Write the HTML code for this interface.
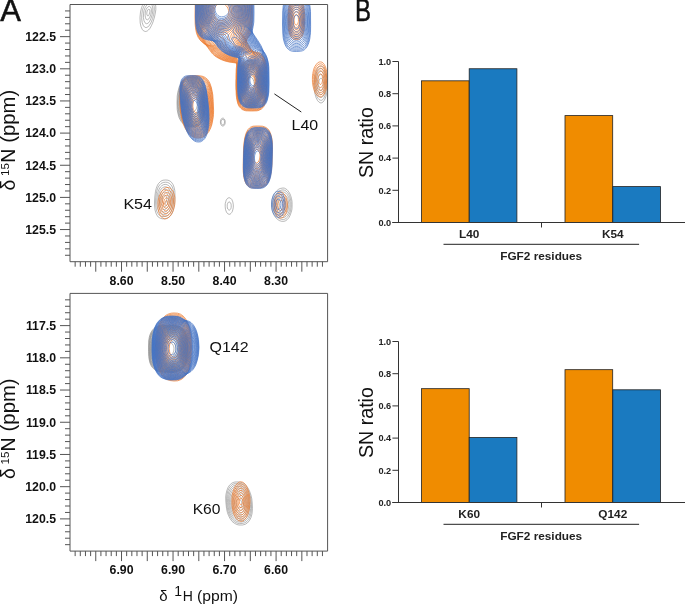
<!DOCTYPE html>
<html><head><meta charset="utf-8"><style>
html,body{margin:0;padding:0;background:#fff;width:685px;height:604px;overflow:hidden}
svg{display:block;will-change:transform}
text{font-family:"Liberation Sans",sans-serif}
</style></head><body>
<svg width="685" height="604" viewBox="0 0 685 604" font-family="Liberation Sans, sans-serif">
<defs>
<clipPath id="ct"><rect x="69.7" y="4.5" width="257.9" height="257.2"/></clipPath>
<clipPath id="cb"><rect x="70" y="293.4" width="257.6" height="257.7"/></clipPath>
</defs>
<g clip-path="url(#ct)" fill="none" stroke-linejoin="round">
<path d="M155.4 4l.4 2.8 0 2.8-.3 2.4-1 5-1.5 5-1.5 3.5-1.7 3-1.3 1.5-1 .8-.8 .4-1.2 .3-1.1-.3-.9-.4-1.3-1.5-1.2-2.8-.8-3.5-.2-5.5 .5-5.5 1-4.1 1-2.6 .7-1.3M250 108l-2-.2-1.5-.6-1.4-.7-1.1-.7-1.5-1.5-2.3-2.8-2-4-1-3-1-5.2-.2-4.3 .2-4.6 .8-4.7 1.5-4.9 1.5-3.3 2-3 2.5-2.5 2.7-1.5 2.8-.5 2.8 .5 2.7 1.5 2.5 2.5 2 3 1.5 3.3 1.5 4.9 .8 4.7 .2 4.6-.2 4.3-1 5.2-1 3-2 4-2.3 2.8-1.5 1.5-1.1 .7-1.4 .7-1.5 .6-2 .2zM321.8 102.8l-1.6 0-1.3-.8-1.2-1.2-1.5-2.8-.9-3-.6-2.2-.5-3.5-.2-4.5 .5-7.1 .5-2.7 .8-2.8 1-2.3 1.4-2.4 1.3-1 1.5-.5 1.5 .5 1 1 .8 1 .9 2 1 3.2 .8 3.8 .5 6.7-.5 7.3-1 4.8-1 2.7-1 1.8-1 1.2-1.2 .8zM193 127l-3.6-.2-3.3-1-1.4-.8-1.6-1.2-2.3-2.8-1.8-3.5-1.2-4.5-.6-3.5-.2-6.5 .2-7 .6-3.8 1.2-4.8 1.8-3.9 1-1.5 1.2-1.3 1.2-1.2 1.6-1 1.7-.7 2-.6 3.5-.2 3.5 .5 2.3 1.2 2 2.3 1.7 3.2 1.3 4.2 .7 4.3 .3 2.5 .2 7.8-.2 7.2-.6 3.9-.7 3.4-1.5 3.8-1.7 2.7-2.1 1.8-2.4 1-2.8 .2zM223.2 126l-1 0-.7-.5-.7-1.2-.3-.8-.1-1.7 .4-1.9 .7-1.2 1-.5 .9 0 .8 .7 .8 1.3 .2 1.2 0 1.4-.2 1.2-.5 1-.7 .8-.6 .2zM164.8 218.8l-2.6 0-2-.6-2-1.2-1.4-2-1-2.2-.8-2.9-.5-4.9 0-3 .3-5 .7-5.8 .8-3 1.2-3 1-1.7 2.3-2.3 2.2-1 2.8-.2 2.2 .2 2.2 1 1.3 1.1 1.5 2.2 1 2.6 .8 3.6 .2 6.3-.3 5-.5 4.3-1 4.1-.9 2.6-1.8 2.8-1.3 1.2-2.1 1.2-2.3 .6zM284 221.3l-2.5 0-2.3-.8-2.4-1.7-1.8-2-1.5-2.6-1-2.6-.7-3.3-.3-3.1 .2-3.7 .5-2.5 1-3 1.6-2.8 1.7-2.2 2.2-1.8 1.5-.7 2.8-.5 1.5 .2 2.3 1.3 1.2 1.3 1.5 2.2 1 2.2 1 3.3 .5 3 .1 2.7-.1 4-.2 1.8-.6 2.3-1.2 3.3-1.2 2.2-1.8 2-1.5 1-1.5 .5zM229.5 214.3l-.7-.1-1-.4-1.3-1.6-1-2.7-.3-2.7 0-3 .6-2.2 .4-1.4 .8-1.2 .7-.8 1.3-.5 1.3 .3 1.5 1.5 1 2.4 .5 2.9 0 2.4-.3 1.8-.7 2.5-.6 1-.7 .9-.7 .6-.8 .3zM153.6 4l.6 2.8 .1 3.4-.6 4-1.1 4.3-1.4 3.7-1.7 3-1.7 1.8-1.6 .6-1-.2-.7-.4-.7-.8-.7-1-.9-2.7-.5-3.7 .1-4.3 .6-4.3 1.2-3.4 1.6-2.8M251 106.8l-2.8-.2-2.4-.9-2.3-1.7-2.3-2.6-1.8-3.2-1.4-3.7-.9-4.3-.4-4.2 .2-4.8 .6-4.4 1.2-4.3 1.6-3.7 1.9-3.1 2.3-2.3 2.5-1.5 1.5-.5 1.3-.1 2.4 .3 2.6 1.3 2.2 1.9 2 2.8 1.7 3.4 1.3 4 .9 4.2 .4 4.6-.1 4.2-.6 4-1 3.8-1.6 3.6-1.9 2.8-2.1 2.3-2.5 1.5-2.5 .8zM321.5 100.3l-1.3-.1-1.2-.7-1-1.2-1-1.9-.8-2.4-.7-2.8-.5-6 0-3.2 .3-3 .6-3 .7-2.5 1-2.3 1.1-1.4 1.1-.9 1.2-.3 1 .2 1 .8 1 1.4 .9 2 .7 2.2 .5 2.8 .5 5.8-.3 6-1.1 5-.8 2.2-.9 1.7-1 1.1-1 .5zM195.2 126l-3.7 .1-3.5-.5-2.5-1-2.4-1.8-2-2.6-1.6-3.2-1.1-3.8-.6-4.2-.3-7 .4-6.5 .7-4.7 1.4-4.3 2-3.6 1.2-1.5 1.3-1.1 2.7-1.5 1.8-.5 2-.3 3-.1 2.2 .4 2 1 1.8 1.7 1.6 2.5 1.2 3 .8 3.5 .6 4.3 .4 6.2-.1 7.3-.5 5-.9 4.2-1.3 3.5-1.8 2.8-1 1-1.2 .8-2.6 .9zM223.2 124.8l-.7 .1-.7-.5-.5-.9-.2-1 0-1.3 .4-1 .5-.6 .8-.3 .7 .2 .5 .5 .6 1.8-.4 1.9-.4 .8-.6 .3zM165.2 216.5l-2.2 .1-2-.4-1.8-1.1-1.2-1.5-1.1-2.1-.7-2.5-.4-3.2-.2-3.8 .2-4.5 .5-4 .8-3.5 1.1-2.9 1.4-2.1 1.6-1.6 2-.9 2.3-.3 2 .2 1.7 .8 1.5 1.3 1.1 1.5 .9 2 .7 2.8 .3 3 .1 3.2-.2 4.2-.4 3.6-.7 3.2-.9 2.8-1.2 2.2-1.4 1.6-1.8 1.2-2 .7zM283.2 219.5l-2-.2-2-.8-1.7-1.3-1.5-1.7-1.4-2.3-1-2.4-.6-2.8-.2-2.8 .2-3 .5-2.7 1-2.7 1.3-2.4 1.4-1.8 1.8-1.4 2-1 2-.3 1.5 .3 1.5 .8 1.5 1.5 1.2 1.7 1 2.3 .8 2.5 .5 2.8 .1 3-.1 2.7-.4 2.7-.7 2.6-1 2.2-1.1 1.8-1.6 1.5-1.4 .9-1.6 .3zM229.5 210.1l-.7-.1-.9-.8-.5-1.2-.2-1.8 .1-1.7 .5-1.4 .7-1 .7-.2 .8 .3 .6 .8 .5 1.2 .1 1.6 0 1.4-.4 1.5-.6 .9-.7 .5zM151 4l.5 .5 .6 1 .7 2.5 0 3-.6 3.5-1.1 3.7-1.4 3-.9 1.3-.8 .7-.8 .4-.7 .1-.7-.3-.8-.6-1-2.1-.6-3.2 .1-3.7 .5-3.3 1-2.7 1.5-2.4 1.7-1.4M251 105.5l-2.5-.1-2.5-.9-2.2-1.7-2-2.3-1.7-3-1.4-3.5-.8-4-.4-4 .1-4.5 .7-4.3 1-4 1.5-3.4 2-3 2.2-2.3 2.2-1.3 2.6-.6 2.4 .4 2.3 1.1 2.1 1.9 1.9 2.6 1.6 3.2 1.2 3.7 .8 4 .4 4.3-.1 4-.5 3.7-1 3.7-1.5 3.3-1.6 2.7-2 2.1-2.3 1.5-2.5 .7zM321.5 97.5l-1 0-1-.5-1-1.2-.7-1.4-.7-1.9-.6-2.3-.5-5 .3-5.2 1.1-4.5 .7-1.7 .9-1.4 1-.8 1-.3 1 .4 .8 .6 .7 1.1 .7 1.6 1 4 .4 4.8-.2 5-.9 4.2-1.3 3-.8 1-.9 .5zM194.2 125.3l-3.4-.1-3.3-.7-2.7-1.5-2.2-2-1.8-2.8-1.2-3-.9-4-.5-4.7 0-6.3 .4-5.4 .9-4.8 1.5-4 1.8-2.8 1.1-1.2 1.3-1.1 1.6-.8 1.4-.6 3.6-.6 2.7 0 2.3 .7 2 1.3 1.7 2.1 1.3 2.4 1.1 3.6 .7 4 .4 4.8 .2 6.4-.3 5.3-.6 4.5-1.1 4-1.4 3.1-1.8 2.1-2.2 1.4-2.6 .7zM165 214.3l-1.8 .1-1.7-.5-1.3-.9-1.3-1.5-.9-2-.7-2.3-.4-2.7-.1-3.3 .2-3.4 .4-3.3 .8-3 1-2.5 1.2-2 1.4-1.3 1.7-1 1.7-.3 1.6 .2 1.4 .7 1.3 1 1.2 1.7 .8 2 .6 2.2 .4 2.6 .1 3-.2 3.2-.4 3-.6 2.8-.9 2.3-1.2 2.1-1.3 1.5-1.5 1.1-1.5 .5zM283.2 217.5l-1.7-.2-1.5-.5-1.5-1.1-1.5-1.6-1.2-1.9-.8-2.2-.6-2.2-.2-2.6 .2-2.4 .4-2.6 .8-2.2 1.2-2.1 1.2-1.6 1.5-1.2 1.7-.8 1.8-.3 1.5 .3 1.3 .8 1.1 1.1 1 1.6 .9 1.8 .6 2.2 .5 2.4 .1 2.6-.1 2.4-.3 2.3-.6 2-.8 2-1 1.5-1.2 1.3-1.2 .8-1.6 .4zM147.5 19.8l-.7-.1-.6-.4-.7-1.5-.4-2.6 .2-3.2 .6-2.2 1-1.8 1.3-1.3 1.3-.3 1 .6 .6 1.2 .3 1.8-.1 2-.6 2.8-.9 2.5-1 1.6-.8 .7-.5 .2zM251.8 104l-2.6 .2-2.2-.6-2.2-1.4-2-2.1-1.8-2.8-1.4-3.3-.9-3.8-.4-3.7 .1-4.3 .5-4 1-3.7 1.4-3.5 1.7-2.8 2.1-2.2 2.1-1.3 2.6-.6 2.2 .3 2 .9 2 1.7 1.9 2.5 1.5 3 1.1 3.3 .8 3.7 .4 3.7 0 3.8-.5 3.5-.8 3.3-1.2 3-1.4 2.6-1.8 2.1-2 1.6-2.2 .9zM321.8 94.3l-.8 .2-.8-.2-.7-.6-.7-1.2-1.1-3-.5-4 .2-4.3 .8-3.4 .6-1.4 .7-1.1 .7-.6 .8-.2 .8 .2 .4 .4 1.1 1.9 .9 3 .3 3.5-.1 3.7-.6 3.3-.8 2.3-.5 .7-.7 .8zM194.5 124.3l-3.5 0-3-.7-2.6-1.4-2.2-1.9-1.6-2.5-1.4-3.3-.9-3.7-.5-4.6 0-6 .4-5 1-4.4 1.4-3.8 1.9-3 2.3-2.1 1.4-.9 1.6-.6 3.2-.5 2.5 0 2.3 .8 1.7 1.3 1.6 2 1.3 2.5 1 3.3 .8 4 .4 4.4 .1 5.8-.2 5-.6 4.2-1 3.8-1.3 2.8-1.7 2.2-2 1.5-2.4 .8zM164.5 212l-1.5 0-1.2-.6-1.1-.9-1.1-1.5-.7-1.8-.6-2.2-.2-2.5-.1-2.5 .3-2.8 .4-2.4 .7-2.3 .8-2 1-1.5 1.3-1.3 1.3-.6 1.4-.3 1.3 .2 1.3 .7 1 1.1 1 1.4 .7 1.9 .5 2.1 .3 4.8-.2 2.5-.4 2.5-.7 2.2-.8 1.8-1 1.6-1.2 1.3-1.2 .7-1.3 .4zM283.5 215.3l-1.3 0-1.4-.5-1.4-.8-1.2-1.2-1-1.6-.7-1.7-.5-2-.2-2 .1-2.3 .3-2 .6-1.7 .9-1.7 1.1-1.5 1.2-1 1.2-.7 1.6-.3 1.2 .2 1 .4 1 .9 .9 1.2 .7 1.5 .6 1.7 .6 4-.3 4-.4 1.8-.7 1.8-.9 1.4-.9 1-1.1 .8-1 .3zM148.2 15.8l-.7 0-.5-.8-.2-1.2 .1-1.6 .3-1.2 .5-1 .5-.6 .8-.2 .5 .3 .3 .5 .1 1.8-.7 2.6-.4 .9-.6 .5zM250.8 102.8l-2.3-.2-2-.7-2-1.5-1.7-2.2-1.6-2.7-1-3-.7-3.3-.3-3.4 .1-3.8 .5-3.8 1-3.4 1.3-3 1.6-2.6 1.8-1.8 2-1.2 2.3-.6 2 .3 2 .9 1.9 1.7 1.6 2.3 1.4 2.7 1.1 3.3 .7 3.4 .3 3.8-.1 3.5-.4 3.3-.9 3.2-1.2 2.8-1.7 2.4-1.7 1.8-2 1.2-2 .6zM321.2 90.8l-.4 0-.6-.3-.8-1.3-.6-2-.2-2.4 .2-2.6 .4-2 .8-1.4 .5-.5 .5-.1 .8 .3 .7 1.3 .5 2 .2 2.4-.1 2.3-.4 2-.7 1.6-.8 .7zM194.5 123.3l-3 0-3-.6-2.5-1.3-2.1-1.9-1.7-2.5-1.4-3.2-.9-3.8-.4-4.2 0-5.6 .4-4.7 1-4.3 1.3-3.5 2-2.9 2.3-2 2.7-1.4 3-.5 2.3 .1 2 .8 1.7 1.3 1.7 2.1 1.2 2.6 .9 3.2 .7 3.8 .4 4.2 .1 5.2-.3 4.6-.6 4-.9 3.4-1.3 2.8-1.6 2.1-1.8 1.4-2.2 .8zM164.5 209.5l-1 0-1-.4-1-.8-.8-1.1-.6-1.4-.5-1.8-.3-4 .5-4 1.2-3.5 .8-1.3 1-1 1-.6 1.2-.3 1 .2 1 .5 .8 .8 .8 1.2 .6 1.5 .5 1.7 .2 3.8-.5 4-1.1 3.2-.8 1.3-1 1-1 .7-1 .3zM283.8 212.8l-1 .1-1.3-.3-1-.6-1-.9-1.4-2.3-.6-3 .2-3.3 1.1-2.7 .7-1.1 1-1 1-.6 1.3-.3 1 .1 .7 .4 1.3 1.5 1.1 2.2 .5 3-.1 3-.8 2.8-1.3 2-1.4 1zM250.2 101.3l-2-.3-1.7-.8-1.7-1.4-1.6-2-1.3-2.6-1-2.7-.6-3-.2-3.3 .2-3.4 .6-3.6 .9-3 1.2-2.7 1.5-2.2 1.7-1.7 1.8-.9 2-.4 2 .4 1.8 .9 1.7 1.7 1.5 2.2 1.2 2.5 .9 3 .6 3.2 .2 3.6-.2 3.2-.5 3-.9 2.8-1.2 2.4-1.4 2-1.7 1.7-1.8 .9-2 .5zM194 122.3l-2.8-.1-2.7-.7-2.5-1.5-2-2-1.5-2.5-1.2-3.3-.8-3.4-.4-4 .1-4.8 .5-4.5 1-4 1.4-3.3 1.7-2.4 2.3-2 2.7-1.3 2.7-.4 2 .1 2 .8 1.7 1.5 1.4 2 1.2 2.7 .9 3.3 .6 3.7 .3 4.3 0 4.7-.3 4-.7 3.8-.9 3-1.3 2.5-1.6 2-1.8 1.2-2 .6zM164.8 206.8l-.8 .1-.8-.2-.7-.6-.7-.9-.8-2.2-.3-3 .4-3 .9-2.6 .8-1.2 .7-.7 .7-.3 .8-.1 .8 .1 .7 .5 1 1.4 .7 2.1 .3 2.8-.3 2.8-.8 2.2-1.2 1.8-.7 .6-.7 .4zM283.8 209.8l-.8 .2-.8-.2-1.2-.7-1-1.6-.4-1.7 0-2 .7-2 1.2-1.4 1.3-.5 1 .1 1 1 .6 1.2 .3 1.8 .1 1.8-.4 1.7-.6 1.4-1 .9zM250.5 99.5l-1.7-.1-1.8-.7-1.5-1.2-1.5-1.8-1.2-2.2-.9-2.5-.5-2.8-.2-2.7 .1-3.3 .5-3 .7-2.7 1.1-2.5 1.4-2 1.5-1.5 1.7-1 1.8-.3 1.8 .3 1.4 .8 1.6 1.5 1.4 2 1.1 2.2 .8 2.8 .5 2.7 .3 3-.2 2.7-.4 2.8-.7 2.5-1.1 2.4-1.3 1.8-1.4 1.5-1.6 .9-1.7 .4zM194.5 121l-2.5 .1-2.8-.6-2.2-1.2-1.9-1.8-1.6-2.3-1.3-3-.8-3.2-.5-3.8 0-4.4 .4-4 .9-3.8 1.3-3.2 1.7-2.8 2-1.9 2.3-1.2 2.7-.6 2 .1 1.8 .7 1.5 1.2 1.4 1.9 1.1 2.3 1 3 .6 3.3 .4 3.7 .1 4.3-.2 4-.6 3.4-.8 3-1.1 2.6-1.4 2-1.7 1.4-1.8 .8zM164.5 203.8l-1-.3-.6-.7-.5-1.3-.1-1.7 .2-1.8 .5-1.5 .8-.9 1-.5 .7 .3 .7 .9 .5 1.5 .1 1.4-.1 1.6-.5 1.4-.7 1-1 .6zM250.8 97.5l-1.6 0-1.4-.5-1.6-1-1.2-1.4-1-1.8-.9-2.3-.5-2.3-.3-2.4 .1-2.8 .4-2.5 .6-2.5 .9-2.2 1.2-1.9 1.3-1.3 1.4-.9 1.6-.4 1.4 .2 1.3 .6 1.4 1.1 1.2 1.6 1 2 .8 2.2 .5 2.5 .2 2.5 0 2.5-.3 2.3-.6 2.2-.8 2-1.1 1.9-1.3 1.3-1.3 .8-1.4 .5zM194.2 119.8l-2.2 .1-2.5-.7-2.2-1.2-1.8-1.8-1.4-2.2-1.2-2.8-.7-3-.4-3.4 0-4 .4-3.8 .9-3.5 1.3-3 1.6-2.4 2-1.9 2.2-1.1 2.3-.4 1.7 .1 1.8 .8 1.5 1.4 1.1 1.8 1.1 2.2 .8 2.8 .6 3.2 .3 3.5 0 3.7-.2 3.6-.6 3.2-.8 2.8-1 2.2-1.3 1.8-1.5 1.2-1.8 .8zM250.5 95.3l-1.3-.1-1.2-.5-1-.7-1.1-1.2-.9-1.6-.6-1.7-.5-2-.2-2 .1-2.3 .4-2.2 .5-2 .8-1.8 1-1.4 1-1.1 1.3-.7 1.2-.2 1.2 .2 1 .6 1 .8 1 1.4 .8 1.5 .7 1.9 .4 2 .2 2.3-.4 3.7-.4 1.8-.8 1.8-.9 1.4-1 1-1 .7-1.3 .4zM194.2 118.3l-2 .1-2.2-.5-2-1.1-1.8-1.7-1.3-2.1-1.1-2.5-.7-2.7-.4-3.3 0-3.5 .5-3.5 .7-3 1.2-2.7 1.4-2.2 1.7-1.7 2-1.1 2.3-.5 1.5 .1 1.5 .6 1.3 1.1 1.2 1.7 1 2.1 .8 2.6 .6 3 .3 3.3 0 3.4-.2 3-.5 2.8-.8 2.6-1 2.2-1.2 1.7-1.2 1.1-1.6 .7zM250.2 92.3l-1-.1-.7-.4-1.5-1.5-1-2.3-.4-2.8 .3-3 .9-2.7 1.4-1.8 .8-.4 1-.2 1 .2 .8 .4 1.2 1.5 1 2.6 .4 3-.2 2.7-1 2.4-1.2 1.6-.8 .5-1 .3zM193.5 116.8l-2-.2-1.7-.6-1.6-1-1.4-1.6-1.3-2.1-.9-2.3-.5-2.5-.3-2.7 .1-3 .4-3 .8-2.8 1.1-2.4 1.4-1.8 1.6-1.6 1.8-.8 1.8-.3 1.4 .2 1.3 .7 1.3 1.3 1 1.6 .8 2.1 .6 2.4 .5 2.6 .2 3-.1 2.8-.2 2.7-.6 2.5-.8 2.2-.9 1.8-1.1 1.3-1.2 1-1.5 .5zM194 114.6l-1.5 .1-1.7-.4-1.6-.9-1.2-1.3-1.1-1.6-.8-2-.6-2.3-.3-2.2 0-2.5 .4-2.5 .6-2.5 .9-2 1.1-1.7 1.4-1.3 1.4-.8 1.8-.4 1.2 .2 1 .5 1 1 .8 1.2 .8 1.8 .6 2 .6 4.5-.1 4.5-.9 4-.8 1.7-.9 1.3-1 1-1.1 .6zM193.8 111.8l-1 .1-1.3-.3-1.3-.7-1-1-.7-1.1-.7-1.6-.5-1.7-.2-1.7 .3-3.8 .4-1.8 .7-1.5 1-1.5 1-.9 1-.6 1.3-.3 1 .1 .7 .4 1.3 1.6 1.1 2.7 .5 3.6-.1 3.4-.7 3-1.2 2.3-.7 .7-.9 .6z" stroke="#8a8a8a" stroke-width="0.6" />
<path d="M252.3 4l.2 12.8-.3 7.1-.4 4.3-.8 3.4-1 2.9-1.5 2.7-1.7 2.6-.3 .7 .1 .7 .6 1.6 1.9 3.2 1.7 2.8 1.7 2.1 1.5 .8 4.3 .8 2.5 1 2.2 2 1.5 2.5 1.3 3.7 .7 4.5 .3 2.8 .1 6.8 .1 9.2-.2 9.6-.6 4.5-1 4.2-1.4 3.2-1 1.3-1.3 1.2-2.3 1.2-2.1 .6-5.6 .2-5.6-.2-2.1-.6-1.6-.7-1.5-1.3-1.5-1.7-.7-1.3-1-2.7-1-5.2-.3-2.7-.2-6.8 0-10.8 .2-8 .5-4-.2-1.5-1-.6-6.5-.9-4-1-3.5-1.3-4.8-2.5-1.7-1.2-2.3-2-1.7-2-4.2-6-1.3-1.2-4.4-3.6-1.3-1.5-1.6-2.3-1.5-3.6-.7-3-.5-3.3-.3-2.7-.2-8.8 .2-12M303 4l.8 2.8 .4 2.9 .6 6.3 0 7.6-.3 3.7-.5 3.4-1 3.6-1.2 2.5-.8 1-.8 .7-1.3 .7-.7 .3-2 .1-1.8-.1-1.2-.5-1-.8-1.2-1.2-1.5-3-1-3.9-.5-3.9-.1-6.2 .1-7 .7-5.8 1-3.2M321.2 96.8l-1.7 0-1.5-.8-1.8-1.7-1-1.5-1.2-3-1-3.6-.5-3.4-.1-3.3 .1-4.3 .3-1.7 .9-4.3 1-2.4 1.1-1.8 1.7-2 1.7-1 1.3-.1 1.5 .3 1.2 1 1.1 1.3 1.2 2.5 .7 2.2 .8 3.5 .5 6.1-.5 6.8-.5 2.6-1 3.3-1.5 3-1.4 1.5-1.4 .8zM200.8 137.8l-3.3 .2-2-.2-2.3-.8-2.5-1.5-2.9-3-2-3-2.3-4.7-1.3-3.8-1.2-5.6-.8-5.8-.5-9.1 .1-8.6 .7-5.9 1.3-4 .7-1.5 1.5-1.9 1.2-1.1 1.3-.7 2-.8 1.2-.2 5.3-.3 5.3 .3 3 .7 2 1 2.5 2.2 1.2 1.8 .8 1.5 1.4 4 1 4.5 .6 3.6 .4 6.2 .4 9.2-.1 4-.3 2.8-1 5.7-.9 3.5-1.3 3-1.2 2.2-1.6 2-1.4 1.5-1.8 1.3-3.2 1.3zM260.5 187.8l-4.7 .2-4.3-.2-1.7-.5-1.3-.8-2-2-1.5-3-1-3.7-.5-3.4-.3-3.1 0-5.5 .3-15.6 .5-7.3 .8-5.1 1.2-4.5 .8-1.7 1.2-2.1 1.5-1.5 1-.8 1-.5 1.7-.5 4.3-.2 4.9 .2 2.1 .6 2 1 1.3 1 1.2 1.4 1.2 2.3 1 3 .8 3.9 .3 2.4 .1 6.2-.4 16-.5 6.1-1 5.9-1.3 4-1.2 2.5-1 1.5-1.7 1.8-.8 .5-2 .9-2 .6zM165.5 218.8l-1 0-2-.8-2-2-1-1.8-.7-2-.8-3.7 0-6.5 .5-3 .7-2.6 1.3-3 1.3-2.2 1.4-1.7 1.6-1.3 1.9-.7 1.8 0 1.7 .7 1 .9 1.1 1.1 1.2 2.3 .7 2.2 .6 2.5 .2 3.6-.2 3.5-.6 2.9-.9 3.3-2.1 4-1.2 1.6-1.5 1.4-1.7 1-1.3 .3zM281.5 218l-1.3 .1-1.4-.3-.8-.6-1-1-1-1.4-1-2.3-.5-1.7-.5-3.2 0-4.4 .2-2 .6-2.3 .7-2.2 1-1.9 1.3-1.6 1.4-1 1.3-.2 1.3 .2 1 .6 1.7 1.7 1 1.6 .7 1.8 .8 2.6 .5 4.7-.5 4.9-1 3.2-1 1.9-1 1.3-1.2 1-1.3 .5zM251.7 4l.1 15.2-.5 7.8-.6 3-.7 2.5-1.2 2.7-2 3.6-.5 1.7 .1 .7 .9 2.6 1.5 2.5 1.7 2.6 2 2.2 1 .6 1.7 .7 3.3 .8 1.7 .7 1.8 1.3 1.4 1.8 1.3 2.5 .9 3.5 .7 4.5 .3 5-.1 20.3-.4 5.2-1 4.5-.8 2-.8 1.5-.9 1.2-1.1 1.1-1.3 .8-1.4 .7-1.8 .4-2 .1-7.5 0-2-.2-1.7-.5-1.8-.9-1.5-1.3-1.2-1.6-1-2-.7-2.3-.5-2.5-.6-6.5-.1-18 .5-9.3-.4-1.9-1.5-.9-5.8-.8-5-1.3-4-1.6-3.4-2.1-2-1.5-1.7-1.6-4.4-5.7-2.6-2.8-3.9-3.2-1.8-2-1.5-2.3-1.1-2.3-.9-2.7-.6-2.7-.4-3.3-.4-7.7 .1-14.8M302.2 4l.8 2.3 .5 2.2 .7 6.3 0 8.4-.6 6.3-1 4-.8 1.7-.8 1.1-1 1-1.1 .7-1.1 .4-1.6 .1-1.2-.1-1.3-.4-1.2-.7-1-1.1-1.5-2.8-1-3.7-.6-6.5 0-8.4 .7-6 .6-2.8 .7-2M321 94.8l-1.5-.1-1.3-.7-1.4-1.4-1.2-1.8-.9-2.3-.8-2.7-.5-3-.2-3.3 .1-3 .4-3 .7-2.7 .8-2.3 1.2-2 1.2-1.5 1.4-.9 1.5-.3 1.3 .3 1 .7 1 1.2 1 2 .8 2.2 .6 2.6 .5 5.7-.4 5.7-.4 2.8-.8 2.5-.9 2.1-1 1.6-1 1-1.2 .6zM199.5 137l-3.3 0-3-.9-2.7-1.8-2.5-2.5-2.2-3.5-1.8-3.8-1.6-5-1.1-5-.7-6.5-.5-10.8 .2-6 .7-4.7 1.1-3.7 .9-1.7 1-1.4 1.2-1.2 1.3-.8 1.5-.6 1.8-.5 4.7-.2 5.5 .2 2.8 .6 2.4 1.3 2.3 2.1 1.8 2.9 1.5 4 1.1 4.7 .7 7.3 .5 11.5-.4 6.8-1.2 6-1 3-1 2.3-1.3 2.1-1.4 2-1.8 1.6-1.8 1.1-1.7 .7-2 .4zM258.8 187l-4.3 .1-3-.3-2-.6-1.7-1.3-1.6-2.1-1.1-2.8-.9-3.5-.5-4.3-.2-8 .4-14.4 .5-7 .9-5.6 1.4-4.2 .8-1.6 1-1.5 1.3-1.2 1.2-.8 1.5-.6 1.5-.3 4.5-.1 4 .2 2.5 .8 2 1.2 1.8 2.1 1.5 3 .9 3.6 .6 4.4 .2 6.8-.5 15.5-.7 7-1.1 5.5-.9 2.5-.9 2-1.1 1.7-1.3 1.3-1.5 1.1-1.5 .7-1.7 .5-2 .2zM166.2 216l-1.4 .1-1.6-.5-1.2-1.1-1-1.4-.8-1.9-.6-2.2-.3-2.5 0-2.7 .2-2.8 .6-2.5 .9-2.5 1-2.1 1.2-1.7 1.3-1.2 1.5-.8 1.5-.2 1.3 .3 1.2 .7 1 1 1 1.6 .8 1.9 .4 2 .3 2.3 0 2.4-.7 4.8-.7 2.2-.9 2-1 1.8-1.2 1.4-1.2 1-1.6 .6zM281.5 215.8l-1.3 .2-1-.3-1-.7-1-1.1-.8-1.4-.6-1.7-.7-4 .2-4.6 .5-2.2 .6-1.8 .7-1.4 1-1.3 1.1-.8 1-.3 1 .1 1.2 .5 1.1 1 .7 1 1.4 3.2 .6 4-.1 4-1 3.6-.7 1.4-.9 1.3-1 .8-1 .5zM251 4l.2 11.2-.1 6.8-.3 3.5-.6 3.7-.8 3-1 2.3-2.2 4-.1 2.3 .4 2.2 .5 1.4 1.5 2.5 1.3 1.9 1.1 1.2 1.9 1.5 2.2 1.4 3.8 1.1 1.7 .8 1.5 1.2 1.3 1.8 1.3 3 1 4.2 .5 5 .2 6.8 0 11.4-.2 6.3-.7 5.3-1.2 4-.8 1.4-1.1 1.6-1.1 1-1.2 .8-1.5 .6-1.7 .4-4.6 .2-5.7-.2-2-.4-1.5-.6-1.5-1-1.3-1.4-1-1.7-.8-2-1.1-4.3-.5-6-.1-19.4 .6-7.8-.1-.8-.5-1-.9-1-.6-.2-6.7-1.1-5-1.4-3.4-1.5-2.9-1.7-2-1.6-1.7-1.8-4.2-5.4-5.1-4.3-3.1-3.4-1.9-3-1-2.3-.8-2.5-.6-2.8-.4-3.2-.4-10.5 .2-11.5M301.1 4l.8 1.8 .7 2.2 .9 5.5 .2 7.7-.4 6.3-1 4.3-.7 1.7-.8 1.4-1 1.1-1 .7-1.3 .5-1.3 .1-1.2-.2-1.2-.5-1-.7-1-1.1-1.5-3-1-4.3-.4-6.3 .2-7.7 .9-5.5 .7-2.2 .8-1.8M321.2 92.5l-1.2 .1-1.2-.5-1.3-1.1-1-1.5-.9-2-.7-2.3-.4-2.7-.2-2.7 0-2.8 .3-2.5 .6-2.5 .7-2 1-1.8 1.1-1.2 1.2-.9 1.3-.2 1 .2 1 .7 .9 1.2 .8 1.5 1.2 4 .4 4.5-.2 5-.9 4.5-.7 1.8-.8 1.5-1 1.1-1 .6zM199.8 136l-3.3 .1-2.7-.8-2.6-1.4-2.4-2.4-2.2-3-2-4-1.5-4.5-1.2-5-.8-6.5-.4-9 0-6.5 .6-5.2 1-3.8 .8-1.8 .9-1.3 1-1.1 1.2-.9 1.3-.7 1.5-.5 4.5-.4 5 .1 3 .4 1.5 .4 1.5 .8 2.3 1.8 1.8 2.7 1.5 3.5 1.1 4.5 .5 3.3 .4 5 .5 10.2-.3 6.5-1.1 6-.8 2.7-1.1 2.6-1.2 2.2-1.3 1.9-1.6 1.5-1.7 1.3-1.7 .8-2 .5zM258.8 186l-4.3 .1-3.7-.4-1.6-.7-1.4-1.3-1.6-2.3-1.1-3.2-.7-4-.4-4.7 0-11.7 .5-12 .6-5.3 1-4.3 .7-2.2 .9-1.8 1-1.4 1.1-1.1 1.2-.9 1.2-.6 3.8-.4 3.8 0 3.4 .4 2.3 .9 1.8 1.4 1.6 2.3 1.3 3 .8 3.4 .4 4.6 0 10.7-.5 12.3-.7 5.4-1 4.6-1.7 4-1 1.5-1.3 1.3-1.4 1.1-1.6 .7-3.4 .6zM165.8 213.5l-1.3-.1-1-.6-.8-.8-.8-1.2-.7-1.7-.4-1.9-.1-4 .7-4 .6-1.7 .9-1.7 1.1-1.6 1-.9 1-.5 1.2-.2 1 .2 1 .6 1 1.1 .8 1.3 .9 3.2 .2 3.8-.7 4-.7 1.7-.8 1.7-.9 1.3-1 1-1 .7-1.2 .3zM280.5 213.5l-1-.2-.7-.5-1.3-1.8-.9-2.5-.3-3 .4-3.3 .9-2.7 .6-1.2 .8-.7 .8-.5 .7-.1 1 .2 .7 .5 1.4 1.8 1 2.7 .3 3.3-.4 3.3-.9 2.4-1.4 1.6-.7 .5-1 .2zM250.3 4l.3 9.5-.4 11.7-.6 3.6-.9 3.2-1 2.2-1.7 2.9-.4 .9 0 1 .4 2.2-.1 1.8 .4 1.2 .9 1.7 1.8 2.7 1.2 1.4 3.1 2 1.9 1.6 3.3 1 1.7 .8 1.6 1.2 1.2 1.7 1.3 2.9 1 4 .5 4.8 .1 6.2 .1 8.8-.2 9-.7 5-1.1 4-.9 1.8-.9 1.2-1.2 1.2-1.2 .8-2.3 .8-5.3 .3-6.7-.3-2.3-.8-1.4-1-1.3-1.3-1-1.7-.9-2-.9-4.2-.5-5.6-.1-16 .1-6 .5-5.4-.2-.8-.8-1-.5-.9-1-.6-5.7-.9-4.7-1.3-3.6-1.4-3.4-2.1-3.6-3-4.4-5.6-3-2.1-1.6-1.3-3.6-4.3-1.9-3-1-2.3-.8-2.4-.6-2.8-.4-3.2-.4-12 .2-9.8M299.8 4l1 1.5 .7 1.7 .7 2.3 .5 2.7 .5 6.6-.3 6.4-.8 4.6-.7 2-.8 1.4-.8 1.2-1.1 .8-1.2 .6-1.3 .2-1.2-.2-1.2-.6-1-.9-1-1.3-.7-1.5-.7-2-.8-4.5-.2-6.8 .5-6.2 1.2-4.8 .7-1.7 1-1.5M320.8 90.3l-1-.1-1-.6-1-1.1-.8-1.2-1.2-3.5-.5-4.6 .4-4.2 1.1-3.5 .7-1.3 1-1.2 1-.6 1-.2 1 .2 .7 .7 1.4 2.1 1 3.6 .3 4-.3 4.2-.8 3.6-.8 1.6-.7 1-.8 .8-.7 .3zM200 135l-3.2 .1-2.8-.7-2.8-1.6-2.3-2.3-2.2-3.3-1.9-4-1.5-4.4-1.1-5.3-.7-6-.3-9 .2-7 .7-4.5 1.2-3.5 .9-1.5 1-1.2 1.8-1.3 3.8-1 3.4-.3 4 .1 4 .8 1.3 .3 1 .6 2.2 2 1.7 2.5 1.3 3.3 .9 3.7 1 8.7 .5 9-.3 6.3-.9 5.7-.8 2.8-1 2.5-1.1 2.3-1.4 2-1.4 1.5-1.7 1.3-1.7 .9-1.8 .5zM258.8 185l-3.6 .2-2.7-.3-3-.9-1.3-.9-1.4-2.1-1.1-2.8-.8-3.7-.4-4.3-.1-9.4 .3-10.3 .7-8.5 .9-5 .8-2.2 .9-1.8 1-1.5 1-1 1-.7 1.5-.5 4-.7 3.5 .2 3.5 .6 1.7 .6 1.9 1.5 1.6 2.3 1.1 3 .8 3.7 .3 4 .1 8.7-.4 9.6-.8 9-.9 4-1.7 4-1 1.6-1.2 1.3-1.8 1.2-2.2 .7-2.2 .4zM166.5 210.8l-1 .1-.7-.2-.8-.5-.8-.9-.9-2.5-.2-3 .4-3.3 1.1-2.7 .9-1.3 .7-.7 .8-.4 1-.2 .8 .1 .7 .5 1.2 1.4 .7 2.3 .2 2.7-.4 3-.8 2.6-1.4 1.9-1.5 1.1zM280.8 210.5l-1-.2-1-1.1-.6-1.4-.3-2 .2-2.3 .5-1.7 .9-1.3 1-.4 1 .4 1 1.3 .5 1.4 .3 2-.1 1.8-.6 1.8-.8 1.2-1 .5zM249.6 4l.3 4.8 0 5.4-.6 12.6-.6 2.7-.8 2.5-2.8 5.5 0 1.3 .6 1.7-.4 1.7 .1 1 .4 1.3 1.2 2 1.7 2.5 1.1 1.2 1 .8 2.1 1 1.3 1.5 1.3 .9 3.3 1 1.4 .8 1.3 1 1.3 1.7 1.2 2.9 .9 3.7 .4 2.7 .3 8.3 0 9-.3 10-.7 4-.9 3-.9 1.7-.9 1.3-1.1 1.1-1.3 .8-1 .4-1.5 .2-4.8 .5-5-.3-2.7-.4-1-.4-1.5-1-1.2-1.3-1-1.6-.9-2-.7-2.7-.5-3.3-.3-8.7 .1-11.8 .2-6.8 .4-3.4-.3-1-.9-.8-.5-1.5-.9-.5-5.7-.9-4.6-1.2-3.7-1.6-3.3-1.9-1.7-1.4-1.7-1.7-4.1-5.1-1.3-1-2.9-1.6-.7-.6-3.9-5-1.7-2.8-1-2.2-.8-2.2-.9-5.3-.4-13 .2-9.5M297.7 4l1.1 .7 1 1.3 1 1.8 .7 2.2 .9 5.5 .2 6.5-.7 5.2-.6 2.3-.7 1.7-.8 1.4-1 1.1-1.3 .7-1.3 .2-1.2-.2-1.1-.6-1-1-.9-1.6-.8-1.8-.5-2.2-.7-5.2 .2-6.5 .9-5.5 .8-2.2 .9-1.8 1-1.2 1.1-.8M321 87.5l-.8 .1-.7-.3-.7-.6-.8-1-1-2.7-.4-3.5 .2-3.3 .9-3 .5-1 .8-.8 .8-.5 .7-.2 .7 .2 .6 .4 1 1.7 .7 2.5 .4 3-.2 3.3-.6 2.7-1 2-1.1 1zM200 134l-1.5 .2-1.7 0-2.8-.8-2.5-1.5-2.5-2.5-2.1-3.2-1.9-4-1.4-4.4-1-5.3-.6-6-.2-8 .3-7 .7-4.7 1.2-3 .8-1.2 .9-.8 2.7-1.6 3.6-.9 4-.2 3.8 .5 3.4 1 2.6 1.6 1.7 2.1 1.3 2.7 .8 3.2 .8 4.6 .9 8 .3 7.2-.4 6.2-1 5.3-1.7 4.7-1.1 2-1.2 1.8-1.4 1.5-1.6 1.2-1.4 .8-1.8 .5zM258.5 184l-3.5 .2-3-.5-2.7-1.2-1.8-1.7-1.1-2-.8-3.3-.5-3.7-.3-5.3 0-8.5 .4-8.5 .7-7.5 1.1-5.4 1.5-3.3 .7-.9 1-.9 1.4-.7 1.6-.7 3.6-.6 3.2 .2 3.2 .8 2.6 1.1 1.7 1.6 1.3 2.3 .7 2.7 .6 4 .3 5.6 0 8-.4 8.4-.9 7.3-1.1 5-1.5 3.2-1.6 1.8-1.4 .9-1.5 .7-3.5 .9zM166 208.3l-1-.3-1-1.2-.5-1.8 0-2 .4-2 .8-1.8 1.1-1.1 1-.3 1 .4 .8 1 .5 1.8 .1 2-.4 2-.8 1.8-1 1.1-1 .4zM248.9 4l.3 4.8 0 5.2-.7 11-.4 3.8-.5 2-1 2.2-1.7 3-.4 1 .1 1.2 .8 2.3-.6 1.7 0 1.3 .5 1.3 1.5 2.4 1.4 2 1 1.3 1.3 .8 2 .7 1.7 2.1 1.3 1 4.5 1.7 1.2 1 1.2 1.4 1.2 2.8 .9 3.5 .7 10.7 .1 8.8-.5 9.5-.4 4-1 3.5-1.6 2.8-1 1-1 .7-3.8 .9-3.8 .4-4.2-.2-4.8-1.1-1.2-.9-1-1.1-.9-1.5-.9-2-.8-4-.7-11.8 .1-9.7 .7-11-.5-1-1-.7-.1-1-.4-.8-1-.5-5.3-.9-4.4-1.2-3.8-1.5-3-1.8-3.3-2.9-3.4-4.2-1-1-1.4-1-3.7-1.9-3.6-4.9-1.9-3.2-1.6-3.8-.8-4-.7-13.7 0-5.5 .3-5M297 33l-1.2 .1-1.3-.6-1-.9-.9-1.4-.8-1.7-.6-2.3-.5-5.2 .3-6.2 .4-2.8 .7-2.2 .9-2 1-1.4 1-.7 1.2-.3 1.3 .2 1 .7 .9 1.2 .8 1.5 .7 2 .5 2.2 .5 5.6-.2 5.2-.4 2.5-.5 2-.8 1.7-.8 1.3-1 .9-1.2 .6zM321 84.3l-.5 .1-.5-.1-1-1-.7-1.8-.3-2 .2-2.3 .5-1.7 .8-1.3 1-.4 .7 .3 .8 1.1 .4 1.6 .2 1.7 0 1.7-.4 1.9-.4 1.3-.8 .9zM200 133l-3 .2-2.8-.7-2.5-1.5-2.5-2.5-2.1-3.3-1.8-4-1.4-4.7-1-5.3-.5-6.4 0-7.3 .4-6 .9-4.3 1.2-2.7 1.9-2 2.7-1.5 3.3-.8 3.4-.1 3.6 .5 3.2 1.2 2.3 1.7 1.6 2 1.3 2.7 1.1 4 .9 5 .7 7 .1 6.6-.4 5.4-1 5-1.7 4.6-2.1 3.4-1.3 1.3-1.5 1.2-1.5 .8-1.5 .5zM258.2 183l-3.2 .2-2.8-.5-2.4-1.3-1.8-1.9-1.1-2.3-.8-3.2-.6-4.2-.3-6 .1-8 .4-7.3 .9-6.7 1.1-4.6 1.3-2.7 1-1.3 1-.8 1.2-.8 1.6-.6 1.4-.4 1.8-.1 3 .2 3 .8 2.2 1.3 1.9 2 1.1 2.3 .9 3.1 .6 4.3 .3 5.5-.1 7.5-.5 7.3-.9 6-1.2 4.7-1.3 2.8-1.9 2.2-2.6 1.6-3.3 .9zM166.5 205.5l-.5 .1-.6-.4-.4-.8-.1-.9 .1-1.2 .4-1.1 .6-.6 .5-.2 .5 .2 .4 .4 .3 .8 0 1-.3 1.7-.9 1zM248.1 4l.5 8.2-.5 9-.7 5.8-1 4.5-.8 1.7-1.4 2.3-.3 1 .1 1.3 .7 2 0 1.4-.5 1.3 0 1.3 .6 1.2 1.2 2.1 1.5 2.1 1 1.3 1.3 .9 1.6 .6 1.6 1.1 1.5 1.9 1 .9 4.7 2.1 1 .8 .8 1 1.2 2.5 .6 2.5 .6 5 .4 6.7 .1 7.5-.3 7.5-.7 6.5-.4 2.2-.4 1.3-1.3 2.4-.6 .6-1.2 .8-1.8 .7-2 .6-4 .6-2.2-.1-2.2-.3-2.6-.6-2-.8-1.2-.7-.8-.8-1.5-2.9-.6-2.5-.4-3.7-.6-10 .1-9.3 .8-10.7-.2-1-.9-.8-.7-.9-.4-1.6-1-.5-5.3-.9-4.3-1.1-3.7-1.6-3-1.8-3.3-2.7-3.9-4.9-1.4-1-2.7-1.2-2.7-2.3-2.3-3.3-1.8-3-1.8-4.2-.3-1.5-.2-2-.9-13.7 0-5.8 .3-5M297.2 31.3l-1.2 .2-1-.4-1-.8-.8-1-.7-1.7-.6-1.8-.5-4.6 .2-5.4 1-4.6 .7-1.7 .9-1.3 1-.8 1-.2 1 .2 .8 .5 .8 .9 .8 1.4 1.1 3.8 .5 4.5-.1 4.5-.8 4-1.3 2.8-.8 .9-1 .6zM199.8 132l-2.8 .2-2.8-.7-2.4-1.6-2.6-2.6-2-3.3-1.7-4-1.3-4.8-.8-4.7-.5-6.3 0-6.4 .6-5.6 .9-4 1.3-2.7 1.8-2 1.3-.9 1.4-.7 3.3-.8 3.5 0 3.2 .7 2.8 1.3 2.2 1.9 1.6 2.3 1.2 3.2 1.1 4.3 .8 5 .5 6.4 0 5.6-.5 5.2-1.1 4.5-1.6 4-2.2 3.2-1.2 1.3-1.3 .9-1.3 .6-1.4 .5zM258 182l-3 .2-2.5-.6-2.3-1.3-1.8-2.1-1.1-2.4-.9-3.6-.5-4.4-.3-5.6 .1-7 .5-6.7 .8-5.7 1.1-4.6 1.4-2.7 1-1.3 1-.9 2.5-1.3 1.5-.4 1.5-.2 3 .3 2.8 .9 2.2 1.5 1.6 1.9 1.2 2.5 .8 3.3 .6 4.2 .3 5.2-.1 6.8-.5 6.5-1 5.7-1.1 4.3-1.4 2.7-1.9 2.3-2.5 1.6-3 .9zM247.4 4l.5 7.2-.4 8-.6 5-.9 4.3-.8 2.7-1.5 3.3-.4 1.5 .1 1 .4 1.5 .1 3.3-.3 1.2 0 1 .6 1.4 1.6 2.4 2.2 2.9 1.1 .8 1.2 .5 3.2 2.4 1 1.3 1 1 4.5 2.4 1 .9 .7 1 1 2.2 .8 3 .6 4.8 .4 5.2 .1 7.6-.4 7.2-.7 6-1 3.8-1.3 2.2-2 1.6-3.2 1.3-3.8 .6-2.2-.1-2-.3-2-.5-2-.9-1.2-.8-1.2-1.1-.8-1.3-.6-1.5-.6-2.5-.6-3.7-.4-5-.2-5 .3-9.6 1-9.4-.2-.8-1-1-1-1.7-.5-1.3-1-.6-5-.7-4-1.1-3.5-1.4-3.3-1.9-3.2-2.7-3.7-4.6-1.4-1-2.2-1-4.9-4.2-2.9-4.6-1-2.2-.6-2-1.1-10.2-.5-9.3 .4-8.5M297 29.6l-1 .1-.8-.3-.7-.6-.7-1-1.2-3-.5-3.8 .2-4.5 .8-3.7 .7-1.5 .7-1.1 .7-.7 1-.3 .8 .1 .8 .5 .7 .9 .7 1.3 .9 3.2 .4 3.8-.2 3.8-.7 3.2-1.1 2.3-.7 .8-.8 .5zM199.5 131l-2.7 .1-2.6-.7-2.4-1.6-2.3-2.5-1.9-3.1-1.7-4-1.3-4.4-.8-4.8-.4-6 .1-6 .6-5 1-4 1.4-2.8 1.7-1.9 2.6-1.4 3-.8 3.2 0 3 .7 2.7 1.4 2.1 2 1.5 2.3 1.3 3.3 1 4 .8 5 .5 6 0 5.2-.6 4.8-1.1 4.4-1.6 3.8-2.1 3-2.3 1.9-1.2 .6-1.5 .5zM257.8 181l-2.8 .2-2.5-.7-2-1.4-1.7-2.1-1.1-2.5-.8-3.5-.6-4.5-.2-5.5 .1-6.5 .5-6.3 .9-5.4 1-3.8 1.5-2.8 1.9-2 2.2-1.3 2.8-.5 2.8 .3 2.7 1 2.1 1.5 1.6 2 1.2 2.8 .8 3.2 .5 4 .3 5-.2 6-.5 6-.9 5.3-1.2 4-1.4 2.9-1.8 2.1-2.5 1.6-2.7 .9zM246.6 4l.6 6.8-.3 7.2-.6 4.8-1 4.4-1 3-1.9 4 0 1 .6 2.3-.2 2.3 .4 2.4-.3 1 .1 .8 1 2.2 3.2 4.6 .9 .7 1.1 .5 2.3 2.1 2.3 1.4 1 1.3 .7 .7 4 2.4 1.6 1.9 1.1 2.2 .8 3.2 .7 4.3 .4 5 .1 7-.3 6.5-.8 5.8-1 4-1.3 2.3-2 1.8-3 1.3-3.6 .6-2-.1-2-.3-2-.6-1.7-.8-1.3-.9-1-1.1-.8-1.2-.7-1.8-.8-3-.6-3.8-.4-4.7-.1-4.7 .4-9.6 1.2-8.7-.2-.7-1-.8-.5-1.2-1-1.3-.5-1-1-.6-5-.8-3.7-1-3.5-1.4-3-1.7-3.1-2.5-3.6-4.5-1.4-1-1.6-.8-6.3-5.3-1.2-1.3-1.2-2.1-1-2.3-.7-3-1.3-11.2-.3-8.2 .4-7.8M296.8 27.6l-.8 0-.5-.2-.7-.6-.6-.8-.8-2.5-.4-3 .2-3.5 .6-2.8 1.2-2.1 .5-.4 .7-.2 .8 .2 .5 .3 1 1.6 .7 2.5 .4 3.1-.1 3-.6 2.6-.9 1.8-.5 .5-.7 .5zM199 130l-2.5 0-2.5-.8-2.3-1.7-2.2-2.5-1.9-3.2-1.4-3.8-1.2-4.2-.7-4.8-.3-5.5 .1-5.5 .6-4.5 1.1-3.7 1.4-2.8 1.8-1.9 2.5-1.4 2.7-.6 3 .1 2.8 .7 2.5 1.5 2 2.1 1.7 2.7 1.2 3.3 1 4.3 .7 4.7 .3 5.5-.2 4.8-.7 4.4-1.1 4-1.6 3.6-2 2.6-2.3 1.8-2.5 .8zM257.2 180l-2.4 0-2.3-.7-2-1.6-1.5-2.2-1-2.7-.8-3.8-.5-4.8-.2-5.2 .2-5.8 .5-5.4 .9-4.8 1.1-3.5 1.4-2.5 1.9-2 2.3-1.2 2.4-.4 2.6 .3 2.4 1 2 1.7 1.6 2.1 1.1 2.7 .8 3.3 .6 4.5 .1 4.8-.2 5.7-.5 5.3-1 4.7-1.2 3.5-1.5 2.8-1.8 2-2.2 1.4-2.8 .8zM245.8 4l.5 4 .1 4-.1 4.2-.5 4.3-.7 3.7-.8 3-1.1 2.7-1.5 2.9-.3 1 .1 1 .8 1.7-.5 3 .2 1.5 .4 1.5-.1 1.7 1.2 2.4 3 4.4 1.6 1 2.7 2.7 3 1.8 1.4 1.7 3.6 2.3 1.8 2 1.1 2.3 .9 3 .6 3.7 .5 4.7 .1 6.6-.3 6.2-.7 5.5-1.1 4.3-1.5 2.6-2 1.8-2.7 1.3-3.3 .6-2-.1-2-.3-1.7-.6-1.7-.9-1.3-1-1-1.2-.9-1.5-.7-2-.7-3-.6-4-.3-4.5-.1-4.8 .1-4.7 .4-4.3 .5-3.2 1-4.8-.3-.7-.9-.5-1-2.2-2-2.3-5.5-.9-3.5-.9-3.5-1.4-3-1.8-3-2.5-3.1-4-1-.8-1.8-1-6.3-5.2-1.8-1.8-1.5-1.9-.9-2.5-.6-2.8-1.4-12.8-.3-7.4 .5-6.8M296.5 25.1l-.5-.1-.5-.3-.7-.9-.5-1.6-.2-2 .1-2.2 .5-2 .8-1.3 .7-.4 .8 .3 .8 1.2 .5 1.7 .2 2.3-.1 1.7-.4 1.7-.8 1.4-.7 .5zM198.2 129l-2.4-.2-2.3-1-2.1-1.8-2-2.5-1.7-3.3-1.4-3.7-1-4.3-.6-4.4-.2-5 .3-4.8 .6-4.2 1-3.3 1.4-2.5 1.8-2 2.4-1.3 2.5-.6 2.7 .1 2.8 .9 2.2 1.5 2.1 2.2 1.5 2.7 1.3 3.5 1 4.5 .5 4.5 .2 5-.3 4.5-.8 4.3-1.2 3.7-1.6 3-1.9 2.3-2.2 1.6-2.6 .6zM256.5 179l-2.3-.2-2-.9-1.7-1.7-1.4-2.4-1-3-.6-3.8-.4-4.5-.1-5.3 .2-5 .6-5 .9-4 1.1-3.2 1.4-2.4 1.8-1.8 2-1 2.2-.4 2.6 .4 2.2 1 1.9 1.7 1.5 2.3 1.2 3 .7 3.4 .5 4.3 .1 4.7-.3 5.3-.7 5-.9 4-1.3 3.3-1.5 2.4-2 2-2.2 1.2-2.5 .6zM245 4l.5 3.8 .2 4-.1 4.2-.5 4-.7 3.5-1 3.3-1 2.4-1.6 2.8-.3 1 .5 2.2-.2 4.8 .8 3 0 1.5 .9 1.7 2.7 4.4 .9 .9 1.1 .7 1.8 2.4 1.5 1.2 3.3 1.7 1.2 1.5 3.7 2.5 1.5 1.7 1.1 2.3 .8 2.7 .7 4 .5 4.3 .2 6-.3 6-.8 5.5-1 3.8-1.4 2.6-2 1.9-2.8 1.4-3 .6-2 0-1.7-.3-1.7-.7-1.8-1-1.3-1.1-1.1-1.4-.8-1.6-.7-2-.7-3.4-.5-4-.3-4.6 0-4.4 .2-4.6 .5-4 .6-3 1.1-4.2-.2-.5-.6-.5-.4-1-1-1.8-2.6-2.3-5.2-.8-3.5-.9-3.5-1.4-3-1.8-2.6-2.2-3.2-4-2.3-1.6-7.9-7.1-1.5-1.7-1.2-1.9-.8-1.9-.3-1.6-1.6-14-.2-6.8 .5-6.2M199 127.8l-2.2 .1-2.3-.7-2.3-1.6-2-2.3-1.7-3.1-1.4-3.4-1.1-4-.6-4.3-.3-4.7 .2-4.6 .5-4 1-3.4 1.3-2.6 1.7-2 2.2-1.4 2.5-.6 2.5 0 2.5 .8 2.3 1.5 1.8 2 1.5 2.5 1.2 3 1 4 .6 4 .3 4.8-.2 4.2-.6 4.2-1 3.6-1.4 3-1.8 2.4-2 1.7-2.2 .9zM257.2 177.8l-2 .1-2-.7-1.7-1.3-1.5-2.2-1.1-2.7-.8-3.2-.5-4.3-.2-4.7 .2-5 .5-4.8 .8-4.2 1.1-3.3 1.3-2.5 1.7-1.9 2-1.2 2-.4 2.2 .2 2.3 1.1 1.7 1.4 1.5 2 1.1 2.6 .8 3.2 .5 3.8 .2 4.2-.1 5-.6 4.5-.8 4-1.2 3.5-1.4 2.5-1.7 2.1-2 1.4-2.3 .8zM244.2 4l.6 3.8 .2 3.7-.2 4-.4 4-.8 3.5-.9 3-1.2 2.5-1.6 2.7-.3 1 .3 1.8-.4 2-.1 1.5 .4 3 1 2.7 0 1.3 .7 1.5 2.9 4.8 .8 .9 .9 .5 1.4 2.6 .7 1 1.6 1.1 3.7 1.6 1 1.1 3.5 2.4 1.6 1.8 1.2 2.2 .9 2.8 .7 3.4 .4 4.3 .3 5.7-.3 5.6-.7 5.2-1.1 4-1.3 2.5-1.9 2-2.6 1.4-3 .7-2-.1-1.7-.3-2-.9-1.5-1-1.2-1.2-1.1-1.6-.9-2-.6-2.3-1-6.4-.2-7.3 .2-4.7 .6-4.8 .8-3.2 1.3-3.8-.1-.5-.5-.5-.1-1.2-.3-.8-1.7-1.8-1.7-1-.7-.9-5.6-.8-3.2-.8-3.5-1.4-2.9-1.8-2.3-2-2.9-3.7-1.9-1.3-3-3.1-5.6-5.2-1.7-1.8-1.1-1.9-1.3-3.4-1.6-13.3-.2-6.8 .6-6M199.2 126.5l-2.2 .2-2.2-.6-2-1.3-1.9-2-1.7-2.8-1.4-3.2-1.1-3.8-.6-4-.4-4.5 .2-4.5 .5-4 1-3.2 1.2-2.6 1.6-1.9 2-1.4 2.3-.6 2.5 .1 2.2 .7 2 1.3 1.8 1.8 1.5 2.4 1.2 2.9 .9 3.5 .7 4 .3 4.2-.1 4-.5 3.8-1 3.5-1.2 3-1.6 2.3-2 1.8-2 .9zM257.5 176.6l-2.3 .1-1.7-.6-1.7-1.3-1.3-1.9-1.1-2.7-.8-3.2-.5-4-.2-4.2 .1-4.8 .5-4.2 .7-4 1.1-3.3 1.3-2.5 1.6-1.9 1.8-1.1 2-.5 2 .3 2 .9 1.8 1.5 1.4 2 1.1 2.6 .8 3 .5 3.4 .2 3.8-.2 4.5-.5 4.3-.8 3.7-1 3.3-1.3 2.4-1.6 2-1.9 1.6-2 .8zM243.4 4l.5 3.2 .3 3.8-.1 3.8-.4 3.7-.7 3.5-1.1 3.2-1 2.3-2.2 3.7 .1 1.8-.9 3.2 .2 2.3 .8 2.7 1.1 2.6 .2 1.4 3.6 6.1 1.2 1.2 .7 1.7 .5 2.3 .4 .7 1.2 .8 3.7 .8 1.5 .5 1 1 3.5 2.3 1.8 2.2 1.1 2 .9 2.7 .6 3 .5 3.7 .3 5.6-.3 5.4-.7 5-1 3.8-1.4 2.8-1.8 1.9-2.5 1.5-2.8 .6-2 0-2-.5-2-1-1.4-1.3-1.3-1.5-.9-1.7-.8-2.3-.6-2.7-.5-3.6-.3-3.7 0-4 .2-4 .4-3.7 .7-3.3 .8-2.5 1.4-3 0-.5-.3-.5 .4-2-.1-1.2-.7-.6-1.4-.5-1.1-.7-1.7-.6-1-.8-4.8-.6-3-.7-3.2-1.1-3-1.7-2.2-1.7-3.1-4-1.8-1.3-2.9-3.3-5.8-5.3-2.1-2.4-1.5-2.5-1.2-3.2-.4-3.8-1-6.2-.3-3.8-.1-3.8 .2-3.7 .5-3.5M198.2 125.5l-2-.1-2-.8-1.7-1.4-1.8-2.2-1.5-2.8-1.3-3.2-.8-3.5-.6-4-.1-4 .2-4 .5-3.3 1-3 1.4-2.4 1.5-1.7 2-1.2 2-.5 2.2 .2 2 .7 2 1.4 1.8 2.1 1.4 2.4 1.1 3 .8 3.6 .5 3.7 .1 4-.2 3.7-.6 3.6-1 3-1.3 2.7-1.7 2-1.9 1.4-2 .6zM256.5 175.5l-1.7-.1-1.8-.9-1.5-1.7-1.1-2-.9-2.8-.6-3.2-.4-4-.1-4 .2-4 .5-3.8 .8-3.5 1.1-2.7 1.2-2.3 1.6-1.6 1.7-1 1.7-.2 2 .4 1.8 .9 1.6 1.5 1.3 2 1 2.5 .8 3.2 .4 3.6 .1 3.7-.3 4.3-.6 3.7-.9 3.5-1 2.8-1.4 2.3-1.8 1.8-1.7 1.1-2 .5zM242.5 4l.6 3.5 .3 3.7-.1 4-.5 3.8-.7 3-1.1 3-1.1 2.2-1.9 3-.2 .8 0 1-1.1 2.5-.4 2 .4 2.3 2.4 5.2 .3 1.5 2.4 4 1.1 2.5 .9 1 .1 1.5-.4 1.3-.7 .6-1.3 .2-2-.2-.5-.4-.8-.3-4-.3-3.2-.6-3.2-1.1-2.8-1.5-2.1-1.7-2.9-3.7-1.6-1.3-3.4-4-6-5.6-2.2-2.5-1.7-2.9-1.1-2.9-1.4-9.4-.3-3.4 0-3.8 .2-3.5 .4-3.5M252.5 102l-2.3 0-2.2-.7-2-1.2-1.8-1.8-1.1-2.1-1-2.7-.7-3.5-.5-3.8-.1-4.4 .2-4.8 .6-4.5 .8-3.5 .9-2.2 1.6-2.8 .2-.5-.1-.7 .5-.8 1.5-1.5 1-.4 1.2-.2 1.6 0 1.7 .3 .7 .8 3.6 2 1.8 2 1.3 2.2 1 2.8 .7 3.5 .5 4 .1 5-.2 5-.7 4.3-1.1 3.7-1.3 2.5-1.7 1.9-2.2 1.4-2.5 .7zM198 124.3l-2-.2-1.8-.8-1.7-1.4-1.6-2.1-1.5-2.8-1-3-.8-3.2-.5-3.8-.1-3.8 .3-3.7 .6-3 .9-2.7 1.2-2.1 1.5-1.6 1.7-1.1 2-.4 2 .2 2 .8 1.8 1.3 1.5 1.9 1.4 2.4 1 2.8 .8 3.2 .5 3.8 .1 3.8-.3 3.4-.7 3.3-.9 2.7-1.3 2.6-1.5 1.7-1.6 1.2-2 .6zM256.5 174.3l-1.7-.2-1.6-.8-1.3-1.5-1.1-2-.9-2.8-.6-3-.3-3.5-.1-3.7 .2-3.8 .5-3.5 .8-3.3 .9-2.4 1.1-2 1.4-1.6 1.4-1 1.8-.4 1.8 .3 1.7 .9 1.5 1.4 1.3 1.8 1 2.6 .7 2.7 .4 3.3 .2 3.4-.3 3.8-.5 3.8-.8 3.2-1.1 2.8-1.3 2.2-1.6 1.7-1.8 1.1-1.7 .5zM241.6 4l.8 3.8 .2 3.7-.2 4-.5 3.7-1.5 4.8-1.3 2.5-1.9 3-.4 1.7-1.8 3.3-.3 1.7 .2 1.6 .5 1.4 2.7 5 .4 1.6 2.1 3.4 .5 1.3 .5 2.7 .3 .6-.5 .7-.9 .4-.7-.3-4 .2-3.8-.5-3.5-1.2-2.7-1.4-2-1.8-2.1-2.9-1.8-1.5-3.5-4.5-6.6-6-2.4-2.8-1.6-2.7-1.1-2.7-1.4-8.8-.3-3.5-.1-3.7 .2-3.6 .5-3.2M252.2 101.3l-2.2-.2-2.2-.8-1.9-1.3-1.5-1.8-1.2-2.2-.9-3-.7-3.5-.3-4-.1-4.3 .4-4.4 .6-3.8 1-3.2 1.2-2.6 2-2.7 .2-.7 1.6-1.2 2-.5 1 0 4.3 2.1 1.7 1.3 1.4 1.7 1.2 2.3 .9 3 .7 3.7 .3 4 .1 4.6-.4 4.4-.7 4-1 3-1.3 2.3-1.6 1.8-2.3 1.4-2.3 .6zM197.5 123l-1.7-.3-1.8-.9-1.5-1.4-1.4-1.9-1.2-2.5-1-2.8-.7-3.2-.4-3.2-.1-3.3 .2-3.3 .6-3 .9-2.4 1.1-2 1.4-1.6 1.6-1 1.7-.4 2 .2 1.8 .7 1.8 1.4 1.4 1.9 1.2 2.2 1 2.8 .7 3.2 .4 3.3 .1 3.3-.3 3.2-.6 3-1 2.8-1.2 2.1-1.5 1.6-1.8 1.1-1.7 .4zM256 173l-1.5-.3-1.3-.9-1.2-1.6-.9-2-.8-2.4-.5-3-.3-3.6 0-3.4 .2-3.3 .6-3.3 .7-2.7 .9-2.3 1.1-1.8 1.2-1.3 1.6-.8 1.4-.2 1.8 .4 1.5 .9 1.3 1.4 1.2 2 .9 2.4 .6 2.8 .4 3 0 3.2-.3 3.3-.5 3.3-.8 3-1.1 2.4-1.2 1.9-1.5 1.6-1.7 1-1.8 .3zM240.7 4l.8 3.8 .3 4-.2 4-.7 3.7-.8 2.5-.9 2.2-1.1 2-1.8 2.6-.4 1.4-2.3 3.6-.7 2.2 .1 1.5 .6 1.5 3.4 5.5 .3 1.3 2.1 3.4 .5 1.6 0 1.2-.7 1-1.4 .7-1.8 .2-2.5-.2-2.7-.6-2.6-1.1-2-1.2-1.3-1.3-1.9-2.8-1.4-1.2-1.9-3-1.6-2-1.8-1.7-5.8-4.9-1.7-1.8-1.4-1.9-1.2-2.1-.8-2.3-1.6-9-.2-3.3 0-3.3 .2-3.2 .6-3M253 100.3l-2.2 .1-2-.5-2-1.2-1.7-1.7-1.2-2-1-2.8-.7-3.2-.5-3.8-.1-4.2 .3-4.2 .7-4 .9-3.3 1.3-2.5 1.4-1.9 2.3-1.8 1.7-.6 2.3 .2 2 .7 1.8 1.2 1.6 1.7 1.2 2 1 2.7 .7 3.6 .4 3.4 .2 4.3-.3 4.3-.6 3.7-.9 3.3-1.2 2.4-1.4 1.9-1.9 1.4-2.1 .8zM198.2 121.5l-1.7 .1-1.5-.6-1.5-1.1-1.5-1.7-1.2-2.2-1-2.5-.8-2.7-.5-3.3-.1-3.3 .2-3 .5-2.7 .8-2.5 1-2 1.3-1.5 1.6-1 1.4-.4 1.8 .1 1.5 .6 1.5 1.1 1.5 1.7 1.2 2.2 .9 2.2 .7 2.8 .4 2.7 .1 3-.1 3-.4 2.7-.8 2.6-1 2.2-1.3 1.7-1.4 1.2-1.6 .6zM257 171.5l-1.5 .1-1.3-.5-1.2-1.2-1-1.6-.8-2.1-.7-2.7-.3-3-.2-3.3 .2-3.2 .3-3 .7-2.8 .8-2.3 1-1.9 1.2-1.5 1.3-.8 1.5-.4 1.5 .3 1.5 .8 1.2 1.3 1 1.5 .9 2 .6 2.3 .4 2.7 .1 2.8-.1 3-.4 3-.6 2.8-.9 2.4-1.1 2-1.2 1.6-1.4 1.1-1.5 .6zM239.8 4l.8 3.8 .3 4-.2 4-.8 4-.9 2.4-1 2.2-2.6 3.8-.4 1.3-3.3 4.3-.6 1.2-.3 1.2 .1 1.3 .6 1.5 4.2 5.8 .4 1.2 1.9 3 .4 1 0 1-.5 1-1.1 .7-1.6 .1-2-.1-2.2-.6-2-.8-1.5-1.1-1-1-1.8-2.7-1.2-1-1.9-3.7-1.5-2-1.7-1.6-6.9-5-2-2.1-1.6-2.1-.9-1.8-.8-2-1.7-9-.3-3.2 .1-3 .3-3 .5-3M252.5 99.5l-2 0-2-.6-1.7-1.2-1.7-1.9-1.1-2.3-.9-2.7-.7-3.6-.3-3.4 0-4 .4-4 .7-3.3 1-3 1.3-2.3 1.5-1.7 2-1.3 2-.5 2 .2 2 .9 1.7 1.4 1.3 1.7 1.1 2.3 .8 2.8 .7 3.5 .3 3.5 0 3.8-.4 3.7-.6 3.5-1 2.8-1.1 2.2-1.6 1.7-1.7 1.2-2 .6zM198.5 120l-1.5 .2-1.5-.4-1.5-.9-1.2-1.4-1.3-2-1-2.3-.7-2.4-.5-2.8-.2-3 .2-2.8 .4-2.7 .7-2.3 .8-1.7 1.3-1.6 1.3-.9 1.4-.5 1.6 .1 1.4 .5 1.3 .9 1.4 1.5 1 1.7 .9 2 .6 2.3 .5 2.7 .2 2.8-.1 2.8-.4 2.4-.6 2.3-.9 2-1.1 1.7-1.2 1.2-1.3 .6zM257.2 170l-1.2 .2-1.2-.3-1.1-.9-1.1-1.5-.8-2-.6-2.3-.4-2.4-.2-3 .1-3 .3-2.8 .5-2.5 .8-2.3 .9-1.9 1-1.3 1.3-1 1.3-.3 1.2 .1 1.4 .7 1.1 1 1 1.5 .8 1.8 .6 2 .5 2.4 .1 2.6-.1 2.7-.3 2.7-.6 2.6-.7 2.2-.9 1.8-1.1 1.5-1.3 1.1-1.3 .6zM238.8 4l1 4 .3 4-.4 4.2-.9 4-1.6 3.6-2.7 3.8-.5 1.2-5 5.4-1 1.8-.4 1.5 .2 1 .4 .7 4.2 3.8 1.7 2 .4 1.2 1.9 3 .2 1-.3 .8-.8 .4-1 .2-1.5-.2-1.5-.4-2.3-1.2-.6-.8-1.6-2.5-1.1-1-.6-2-.6-3.3-.7-1.2-1.5-1-5.7-2.9-3.3-2-3-2.6-2.1-2.7-1.4-3-1.4-5.8-.5-3.2-.2-3 .1-3 .3-3 .6-2.8M253 98.5l-2 .2-2-.5-1.8-1.1-1.4-1.7-1.3-2.2-.9-2.4-.6-3.3-.4-3.5 0-4 .4-3.8 .7-3.4 1-2.8 1.3-2.2 1.5-1.6 1.7-1.1 2-.4 1.8 .2 1.8 .8 1.6 1.3 1.3 1.8 1 2.2 .9 2.8 .5 3 .3 3.2 0 3.5-.3 3.5-.6 3-.8 2.8-1.2 2.2-1.3 1.6-1.4 1.2-1.8 .7zM198.2 118.5l-1.4 .2-1.3-.4-1.3-.8-1.2-1.4-1-1.7-.9-2.2-.6-2.2-.4-2.5-.2-2.5 .2-2.5 .3-2.3 .6-2 .9-1.7 1.1-1.3 1.2-.9 1.3-.4 1.3 .1 1.2 .5 1.2 .9 1.2 1.4 .9 1.4 .9 2 .9 4.3 .1 4.7-.3 2.3-.7 2.2-.7 1.8-1 1.4-1 1-1.3 .6zM257 168.6l-1.2 0-1-.3-1-1-.8-1.2-.8-1.8-.5-2.1-.4-5 .3-5 .5-2.2 .7-2 .8-1.5 .9-1.3 1-.7 1.3-.4 1.2 .2 1 .5 1 1 1 1.3 .7 1.7 .6 2 .5 4.2-.4 4.8-.5 2.2-.7 2-1 1.8-1 1.3-1 .9-1.2 .6zM237.8 4l1.1 4.5 .2 4.7-.7 4.8-.7 2.2-.8 2-1.4 2.3-2 2.7-.5 1-2 1.9-3 2.4-2 1.4-1.5 .6-2 .3-2-.2-2-.5-2.3-.9-2-1.2-1.7-1.3-1.6-1.5-1.4-1.7-1-1.7-.7-1.6-1.3-4.7-.8-5 .1-5.5 .9-5M233.2 49l-.2 .1-.4-.1-.1-.5 .3 0 .4 .5zM252.2 97.8l-1.7-.1-1.7-.6-1.8-1.3-1.2-1.7-1.1-2.1-.9-2.8-.5-3-.2-3.2 0-3.5 .4-3.5 .7-3 1-2.5 1.2-2 1.4-1.4 1.7-1.1 1.7-.4 1.8 .2 1.8 .9 1.4 1.4 1.2 1.7 1 2.2 .8 2.5 .5 3 .2 3.3 0 3.2-.3 3.2-.7 3-.9 2.5-1.2 2.1-1.3 1.4-1.5 1-1.8 .6zM197.2 117l-1.2-.2-1-.5-1-.9-1-1.4-.8-1.5-.7-2-.7-4 .2-4.3 .4-1.7 .6-1.7 .8-1.4 1-1.1 1-.6 1-.2 1.2 .1 1 .5 1.1 .9 1 1.2 .8 1.6 .7 1.7 .7 4-.1 4.3-.4 2-.6 1.7-.7 1.3-1 1.2-1 .7-1.3 .3zM256.5 167l-1-.1-.7-.4-.8-.8-.8-1.5-1-3.4-.3-4.3 .5-4.3 1-3.4 .8-1.5 .8-.8 .8-.6 1-.2 1 .1 1 .5 1 1 .7 1.2 1.1 3.3 .4 4-.5 4.2-1.2 3.5-.8 1.4-1 1.1-1 .7-1 .3zM236.8 4l.7 2.2 .5 2.3 .2 2.3 0 2.4-.3 2.6-.5 2.2-1.5 4-1.1 1.8-2.8 3.7-2.5 2.1-2.3 1.5-2 1-2 .5-2 .2-1.7-.2-2-.5-1.7-.7-1.8-1.1-1.5-1.2-1.5-1.5-1.2-1.6-1-1.8-1.7-5.7-.7-4.5 .1-5.2 1-4.8M252.5 96.8l-1.7 0-1.7-.6-1.6-1.1-1.3-1.5-1-2.1-.8-2.5-.6-2.8-.2-3 0-3.2 .4-3.2 .6-3 .9-2.4 1.1-1.9 1.4-1.5 1.5-1 1.7-.4 1.6 .2 1.4 .6 1.6 1.3 1.1 1.5 .9 2 .8 2.6 .5 2.7 .3 3 0 3-.3 3-.5 2.7-.8 2.4-1 2-1.3 1.5-1.5 1.1-1.5 .6zM197.8 115.1l-1 .1-1-.3-1-.7-.8-.8-.8-1.3-.6-1.6-.8-3.5 0-3.5 .8-3.3 .6-1.2 .8-.9 .8-.5 1-.4 1 .1 .7 .3 1 .7 .8 .9 1.3 2.6 .7 3.2 0 3.5-.6 3-1.2 2.3-.7 .8-1 .5zM257 165.1l-.8 .1-.8-.2-.6-.5-.8-1.1-1-2.9-.3-3.5 .2-3.5 .9-3.3 .7-1.3 .7-.9 .8-.5 .8-.1 1 .2 .7 .4 1.3 1.6 .9 2.6 .4 3-.3 3.6-.9 3-1.4 2.2-.7 .7-.8 .4zM235.7 4l.7 2 .5 2.2 .3 2.3 0 2.5-.2 2.2-.5 2.3-.6 2-1 2-1.1 1.8-2.8 3.5-2 1.5-2.2 1.4-2 .8-2 .5-2 .1-1.6-.1-1.7-.4-3-1.5-2.7-2.3-2.1-3-1.8-5.6-.7-4.4 .1-5 .5-2.6 .6-2.2M252.5 95.8l-1.5 .1-1.5-.5-1.5-1-1.2-1.5-1.1-1.9-.8-2.2-.5-2.8-.3-2.8 0-3 .4-3 .6-2.7 .8-2.3 1.1-1.9 1.2-1.4 1.6-.9 1.4-.4 1.6 .2 1.2 .6 1.3 1.1 1.2 1.6 .9 1.9 .7 2.2 .5 2.6 .3 2.7 0 2.7-.3 2.8-.5 2.5-.7 2.3-1 2-1.2 1.4-1.2 1-1.5 .6zM197.5 113l-.7 .1-.8-.1-.8-.5-.7-.9-1-2.1-.6-2.7 0-2.8 .6-2.5 1-1.6 .7-.5 .8-.2 .8 .1 .7 .3 1.3 1.3 1 2.1 .4 2.2 0 2.8-.4 2.3-1 1.8-1.3 .9zM257 163l-.8 .1-.4-.1-.7-.5-.5-.7-.8-2.3-.3-2.7 .2-2.8 .7-2.5 1.1-1.6 .5-.4 .8-.2 1.2 .5 1 1.2 .8 2 .2 2.5-.2 2.5-.6 2.2-1 1.8-1.2 1zM234.5 4l.8 2 .6 2 .3 2.2 .1 2.3-.2 2.3-.4 2-.7 2-.9 2-1.9 2.7-2.4 2.7-1.3 .9-2 1.2-2 .8-2 .4-2 .2-2.7-.5-2.8-1.2-2.4-2-1.9-2.5-1.9-5-.5-2.3-.3-2.4 0-2.6 .2-2.4 .4-2.6 .7-2.2M252.2 94.8l-1.4 0-1.3-.5-1.3-.9-1.2-1.5-.9-1.7-.7-2.2-.5-2.5-.2-2.5 0-2.8 .3-2.7 .6-2.5 .7-2 1-1.8 1.2-1.2 1.3-.9 1.4-.4 1.6 .2 1.2 .7 1.2 1.1 .9 1.3 .9 1.8 .7 2.2 .4 2.5 .2 2.5 0 2.5-.3 2.5-.4 2.2-.7 2-1 1.8-1.1 1.4-1.3 .9-1.3 .5zM233.3 4l.8 1.8 .6 2 .4 2 .1 2.2-.5 4-.6 2-.7 1.8-1.9 2.7-2.9 3-.6 .5-1.8 .9-2 .8-1.7 .4-2 .2-1.7-.2-1.6-.4-1.4-.8-1.4-.9-2.4-2.5-1.6-3.3-1.2-4-.4-4 .3-4.2 1.2-4M252.5 93.6l-1.3 .1-1.2-.3-1.2-.8-1.2-1.4-.9-1.4-.7-2-.5-2.3-.2-2.3 0-2.4 .2-2.6 .5-2.2 .8-2.1 .9-1.7 1.1-1.2 1.2-.8 1.2-.3 1.3 .1 1 .5 1.2 1 .9 1.3 .8 1.4 .7 2 .6 4.6-.2 4.4-.4 2-.6 2-.7 1.6-1 1.3-1 .9-1.3 .6zM231.9 4l.9 1.8 .7 1.7 .4 2 .2 2-.1 2-.3 2-1.2 3.5-2 2.9-3.3 3-1.4 .8-1.8 .7-1.8 .3-1.7 .2-1.5-.2-1.5-.4-1.5-.7-1.2-.9-1.7-1.7-2.1-4-1.1-3.8-.2-3.7 .5-4 1.2-3.5M251.8 92.5l-1.3-.1-1-.5-1-.9-.9-1.2-.7-1.6-.5-1.7-.5-4.3 .1-2.2 .3-2.2 .6-2 .6-1.6 .8-1.2 .9-1 1-.6 1.3-.3 1.3 .3 1 .6 .9 1 .8 1.2 .6 1.6 .6 2 .4 4-.3 4-.5 1.7-.7 1.7-.7 1.3-.9 1-1 .7-1.2 .3zM230.5 4l.9 1.5 .7 1.7 .8 3.6 0 2-.2 1.7-.4 1.7-.7 1.8-1 1.8-1.2 1.4-1.4 1.3-2.2 1.7-2.6 .9-2.7 .4-1.5-.2-1.5-.4-1.3-.7-1.2-.9-2-2.5-1.3-2.8-.9-3.5-.2-3.7 .6-3.6 1.4-3.2M252.5 91l-1 .2-1-.2-1-.5-.9-1-.8-1.3-.6-1.4-.6-3.6 .2-4 .9-3.4 .7-1.3 .8-1 1-.7 1-.3 1 .1 1 .4 .8 .7 .7 1.1 1.2 2.7 .5 3.3-.1 3.4-.8 3.3-1.3 2.2-.7 .8-1 .5zM228.8 4l1.7 2.8 1 3.2 .1 3.5-.9 3.3-1.6 2.7-2.3 2.3-3.3 1.8-3 .4-2.5-.4-1.2-.6-.8-.6-1.2-1.3-1-1.3-1.5-3-.6-3.3 0-3.5 .8-3.2 1.4-2.8M251.8 89.8l-1-.1-.8-.4-1.3-1.5-1-2.6-.4-3 .3-3.2 .9-2.6 1.3-1.7 .7-.5 1-.3 .7 .2 .8 .4 .8 .7 .6 1 .9 2.6 .4 3-.3 3-.8 2.4-1.4 1.9-.7 .5-.7 .2zM226.8 4l2 2.4 1.1 2.8 .4 3.3-.6 3-1.4 2.7-2.1 2.1-2.7 1.5-1.5 .5-1.5 .1-2.3-.4-1.2-.7-1-.8-1.7-2.3-1.1-2.7-.5-3 .3-3.3 1-3 1.5-2.2M252 88.1l-1.2-.1-1.3-1.1-.9-1.9-.4-2.5 .2-2.5 .7-2.2 1.1-1.7 1.3-.5 1.3 .5 1 1.3 .7 1.8 .3 2.3-.2 2.3-.5 2-.9 1.4-1.2 .9zM223.9 4l1.3 .8 1 .9 1.7 2.3 .8 2.8 .1 1.4-.2 1.6-.4 1.4-.6 1.3-.8 1.2-1 1-1.3 .9-1.3 .6-1.2 .3-1.5 .2-1.3-.2-1-.3-1.8-1.4-1.5-2.3-.8-2.7-.1-3 .6-2.8 1.4-2.4 1.8-1.6" stroke="#ec7a2c" stroke-width="0.7" />
<path d="M253.9 4l.1 9-.2 9.1-.6 4.1-.9 4.3 0 1.3 .7 1.7 5 7.3 3 4.9 2.2 5.2 2.6 3.9 1.4 3.4 1 4.3 .6 4.5 .2 16-.2 9.1-.6 4.2-1 4.1-.7 1.8-.7 1.3-.6 .8-1.7 1.7-2.5 1.2-2.2 .6-5.8 .2-5.7-.2-2.1-.5-1.2-.6-1.8-1.2-1.4-1.7-1.3-2.5-.5-1.5-.8-3.3-.4-4.3-.3-9 .2-16.2 .5-4.8 .6-3 0-.7-.2-.5-1.4-.6-3.2-.6-3.4-1-2.6-1.1-3.3-1.7-3.4-2.5-2.1-2-1.2-1.5-2.7-4-1.5-1.7-1.6-.7-5-.8-3.2-1-1.5-.8-2-1.5-2-2.5-1-2-.7-2.2-.6-2.2-.4-3.6-.3-4 0-16M309.5 4l.5 2.5 .5 5.2 .1 15.1-.1 5.4-.3 3.1-.4 3.5-.8 3.3-.8 2.2-1.2 2.5-1.5 1.9-1.2 1.1-1.9 1-1.8 .4-4.1 .3-4-.2-1.1-.3-1.3-.5-1.6-1-1.5-1.5-1-1.5-1-2-1-3-.8-3.7-.4-4.8-.3-9 .3-13.2 .4-4.8 .5-2M200.5 141.8l-2.3 .2-1.8-.2-1.4-.5-2-1.3-2.8-2.8-2.2-3.4-2.5-5.5-1.7-5.5-1.3-5.4-1.3-8.1-1-10.2-.4-8.3 .2-5.1 .8-4 .7-1.9 .7-1.2 1.6-1.6 1.4-.8 1.7-.4 4.9-.3 4.8 .3 1.9 .4 1.8 1 1.9 2 1.8 3 1.5 4.3 .7 3.2 1.3 8 1.3 12.1 .2 8.2-.2 7.2-1 6-1 3.3-1 2.3-1 1.7-1.4 1.5-1.6 1.2-1.3 .6zM261.2 188.3l-4.4 .2-4.6-.2-1.8-.5-1.4-.8-1.5-1.2-1.3-1.8-.7-1.5-1-3.1-.8-4.2-.3-7.2 .1-10.5 .5-10.8 1-7.3 1.2-4.4 .8-1.8 1.2-2 1.5-1.4 1.3-1 3-1.1 4.5-.2 4.6 .3 1.9 .4 2.2 1.3 2 2.2 1.3 2.5 .8 2.3 .7 4 .2 2.3 .2 6.4-.4 16.2-.5 6.1-1 5.7-1.5 4.6-2 3.2-1.2 1.2-1.1 .8-1.6 .8-1.9 .5zM279.2 217.3l-1.9-.1-1.1-.4-1.2-1-1.2-1.8-.8-1.5-.8-2.3-.4-2.4-.3-3.3 .5-5.1 1.2-3.9 1-1.8 1.1-1.2 1.4-1 1.3-.3 1.3 0 1.5 .8 1.7 2 .8 1.2 .9 2.8 .8 4.1 0 4.4-.2 1.9-.6 2.2-.7 2.1-.5 1.1-1.2 1.7-1 1-1.6 .8zM253.4 4l-.1 15.8-.4 4.4-.8 4.8 0 3 1.5 3.2 6.3 9.8 3.3 6.2 1.5 2.3 1.7 3.5 .9 2.8 .7 3 .4 3.7 .2 4.7 .1 13.6-.2 6-.6 5.4-1 4-.8 1.8-.9 1.5-1 1.2-1.2 1-1.2 .7-1.8 .6-4 .4-7.5-.1-2-.3-1.7-.5-1.7-1-1.4-1.3-1.2-1.7-1-2.3-.7-2.4-.5-3-.5-7.8 .1-16.8 .4-5.7 .7-4.7-.2-1.8-1.6-.9-4-.9-3.2-1.1-2.5-1-2.5-1.4-2.5-1.8-2.1-1.9-1.7-2-2.7-3.7-2-2.1-.8-.4-2.2-.8-4.8-1.1-2.7-1.1-1.5-.9-1.2-1-2-2.7-.9-1.7-.7-2.3-1-5.4-.3-6.8 0-13M308.9 4l.6 3.5 .4 3.7 .2 13-.3 9.6-.5 3.7-.6 3.3-.9 2.4-1 2.3-1.3 1.7-1.3 1.3-1.4 .9-1.6 .5-2.2 .3-2.5 .1-2.5-.1-2.2-.3-1.6-.6-1.4-.9-1.4-1.4-1.2-1.7-.9-2.1-.8-2.4-.7-3.3-.4-3.7-.3-9.6 .1-12.1 .4-4.3 .7-3.8M199.5 141l-2.7-.1-2.6-.9-2.2-1.7-2.3-2.8-2.2-3.7-1.7-4.1-1.7-5.2-1.3-5.5-1.2-7.5-1.1-12-.3-6.3 .2-5 .8-4 1.3-2.8 1-1.2 1-.7 2.5-.9 3.8-.3 5 .1 2.4 .6 2 1.1 1.9 1.9 1.6 2.8 1.4 3.7 1 4.3 1.2 8.2 1.3 13 .1 7.5-.5 6.5-1.2 6-.8 2.3-1 2.2-1.2 1.8-1.2 1.3-1.6 .9-1.7 .5zM259 187.8l-4.8-.1-2.4-.3-2.3-.8-1.6-1.4-1.6-2.2-1.1-2.8-.9-3.4-.5-4.8-.1-7.5 .4-15 .6-6.3 .9-5 1.5-4.2 1-1.8 1.1-1.3 1.3-1.1 1.3-.7 1.4-.5 2-.3 4.8-.1 3.2 .3 2.3 .7 2 1.3 1.8 2.3 1.3 3 .8 3.4 .6 4.8 .1 7.5-.5 14.7-.7 6.8-1.1 5.2-.8 2.3-.9 2-1.1 1.6-1.2 1.4-1.6 1-1.4 .7-1.8 .4-2 .2zM279 215l-1.2 .1-1-.4-1-.8-1-1.2-.8-1.5-.7-2-.4-2-.2-2.2 0-2.2 .3-2.3 .5-2 .7-1.7 .8-1.3 1-1.1 1-.7 1.2-.3 1 .2 1 .5 1 .9 .9 1.2 1.2 3.3 .6 4-.2 4-.5 2-.6 1.7-.8 1.6-.8 1-1 .8-1 .4zM252.7 4l0 16-.4 3.8-.8 5.2 .5 3 1.1 3.5 4.8 7.3 3.1 5.4 1.5 2 1.3 2.3 2.5 5.5 1 3.2 .6 3.6 .3 4.4 .1 6 0 11.8-.2 5.2-.7 5-1.3 3.8-.9 1.6-1 1.3-1.2 1.1-1.2 .8-1.6 .5-1.7 .4-4.7 .2-6-.2-1.8-.4-1.8-.7-1.4-1-1.4-1.6-1-1.8-.9-2.2-.9-5-.4-7 .1-18 .4-4.8 .8-4.7-.5-1.5-.8-.9-.4-.3-7-1.8-2.8-1.2-2.9-1.6-2.1-1.5-2.2-2.1-1.8-2.1-2.3-3.3-1-1-2.2-1.4-2.3-1.3-5.2-1.3-2.7-1.2-2.3-1.8-1.8-2.4-.9-1.8-.7-2.2-.9-5.3-.3-5.5 0-14M308.2 4l.6 2.8 .4 4.2 .3 11-.3 11-.4 4-.6 2.8-.8 2.4-.9 2-1.2 1.8-1.3 1.2-1.2 .7-2 .7-2 .4-2.3 .1-2.3-.1-2-.4-2-.7-1.2-.7-1.2-1.3-1.1-1.7-.9-2-.8-2.4-.5-2.6-.5-4.2-.4-11 .4-11.2 .5-4.3 .5-2.5M199.8 140l-2.6 .1-2.4-.8-2.6-1.8-2.2-2.6-2.1-3.4-1.8-4.3-1.7-5-1.2-5.2-1.2-8-1.2-12.5-.2-5.3 .2-4.2 .6-3.8 .6-1.5 .8-1.4 .7-1 1-.8 1.3-.7 1.2-.3 4.8-.3 4.7 .2 1.7 .4 1.6 .8 1.9 1.9 1.5 2.4 1.4 3.3 1.1 4.3 1 6.3 1.4 14.4 .2 7.3-.4 6.5-1.1 5.8-.8 2.4-1 2.3-1.1 1.7-1.2 1.3-1.5 1-1.4 .5zM259 187l-3.8 .1-3.4-.4-2.3-.9-1.7-1.6-1.6-2.4-1.1-3.3-.7-4.3-.4-5 .1-11 .5-11.4 .8-5.6 1-4.2 .8-2 .9-1.8 1.1-1.5 1.3-1.1 1.3-.8 1.4-.5 4-.4 3.8 .1 3 .4 2.2 1 1.8 1.6 1.6 2.5 1.1 3.3 .7 4 .3 5-.1 10.4-.5 11.3-.7 5.5-1 4.2-1.6 3.9-1 1.4-1.3 1.3-1.3 .9-1.4 .7-1.3 .4-2.5 .2zM278.8 212.5l-1 0-.8-.3-.8-.7-.7-1-1-2.5-.5-3.2 .3-3.3 .9-3 1.3-1.7 .7-.6 1-.2 .8 .1 .8 .4 .7 .7 .7 1 1 2.6 .4 3-.3 3.2-.8 2.8-1.3 1.8-.7 .6-.7 .3zM252.1 4l-.1 16-.3 3.8-.8 4.7 .2 1.3 .8 2.7 .2 2 .7 1.5 4.6 7 2.9 5.2 2.2 2.5 .8 1.3 .7 2.2 2 4 .9 3 .6 3.8 .3 3.5 .2 6.3 0 8.4-.2 8.6-.7 5-1.2 3.7-.9 1.6-1 1.3-1.2 1.1-1.3 .7-2.5 .8-5.2 .3-6.6-.3-2.7-.9-1.5-1-1.2-1.4-1.2-1.9-.7-2-.8-3.3-.4-4-.3-11.7 .3-12.3 .4-3.7 .8-4.6-.1-.4-.6-.6-.7-1.4-.8-.6-3.9-.8-3.3-1.1-2.3-.9-2.4-1.4-2.3-1.6-2.1-1.9-1.7-2-2.5-3.4-1.1-1.1-1.9-.9-3.2-2.2-5-1.4-2.5-1.2-2.3-1.8-1.6-2.3-.8-1.7-.7-2-.9-5.3-.2-3.4-.1-15.8M307.2 4l.7 3.2 .5 4 .5 9.8-.3 10-.5 4.2-.6 3.6-.7 2.2-.8 1.8-1 1.5-1.2 1.2-1.6 1-1.7 .7-2 .5-2 .1-2-.1-2-.5-1.7-.7-1.6-1.1-1.1-1.2-1-1.4-.7-1.8-.7-2.2-.7-3.6-.4-4.2-.3-10.2 .4-9.6 .5-4 .7-3.2M199.8 139l-2.6 .1-2.2-.6-2.2-1.5-2.3-2.5-2.1-3.3-1.7-3.7-1.6-4.5-1.2-4.8-1.2-6.4-.8-6.8-.9-11.5 .1-4.7 .5-4 1.1-3 1.5-2.1 1-.7 1-.4 3.8-.5 3.2-.1 4.6 .6 1.4 .6 1.9 1.6 1.6 2.2 1.4 3.2 1 3.8 1.3 7.8 1.3 12.2 .2 7.2-.3 6.6-1 5.7-.8 2.5-.9 2.2-1.1 1.9-1.3 1.4-1.3 .9-1.4 .6zM258.8 186.3l-4 0-3.8-.6-1.5-.8-1.6-1.4-1.5-2.5-1-3.2-.8-4.6-.2-5 .1-11.2 .6-11.2 .7-5 1.1-3.8 .8-2 .9-1.5 1.2-1.4 1.2-1.1 1.2-.6 1-.3 4.8-.5 3.2 .1 3.3 .6 2 1.1 1.6 1.6 1.5 2.8 .9 3.2 .7 4.2 .2 4.6-.2 10.7-.5 10.3-.6 4.7-1 4.3-1.6 3.7-1.1 1.5-1.2 1.2-2.2 1.4-4.2 .7zM279 209.3l-.5 .2-.7-.1-1-.8-.8-1.6-.4-2 .1-2.2 .5-1.9 1-1.4 1-.4 1 .3 .8 .8 .7 1.6 .3 1.7-.1 2-.4 1.7-.6 1.3-.9 .8zM251.4 4l.1 6.2-.2 11.6-.9 6.4 .2 1.6 1 2.2 .1 3 .8 1.8 4.9 7.4 2.3 4.3 .9 1 1.9 1.6 .4 .7 .5 2.4 2.2 4.3 1.1 3.5 .6 4.2 .3 8 .1 9-.4 9.6-.6 4-1.1 3.2-.8 1.5-.9 1.3-1.1 1-1.3 .8-1.7 .6-5.8 .5-3 0-3.2-.3-1.8-.3-1.2-.5-1.6-1-1.2-1.4-1-1.7-.9-2.3-.7-3-.3-3.2-.3-13.2 .3-12.6 .5-3.2 .7-3.8-.2-.7-.9-.7-.4-1.5-1-.5-3.8-.9-3-.9-2.5-1.1-2.3-1.3-2.4-1.7-2-1.9-1.8-2-2.1-3-1-1-1.1-.7-2.1-.8-1.5-1.4-1.2-.8-4.8-1.4-2.4-1.1-2.1-1.8-1.7-2.2-.8-1.8-.7-2-.8-5.2-.3-11.8 .1-7M306 4l.9 2.8 .6 3.4 .5 4 .2 4.6-.1 9.7-.5 4.3-.6 3.7-.7 2.5-.8 2-1 1.6-1.3 1.4-1.4 1.1-1.6 .7-1.7 .5-2 .2-2-.2-1.7-.5-1.6-.8-1.4-1.1-1.2-1.4-.9-1.5-.8-2-.7-2.5-.7-3.5-.4-4.2-.2-9.8 .3-4.5 .4-4.3 .7-3.4 .8-2.8M199.8 138l-1.3 .2-1.3 0-1.2-.3-1.2-.5-2.3-1.7-2.3-2.6-2-3.6-1.8-4.3-1.5-4.7-1.3-5.5-.9-6.5-.8-8.7-.4-9.3 .2-3.5 .9-3.5 1.4-2.4 1-.9 3.8-1 2.7-.3 2.7 .1 3.3 .6 2.3 .9 1.4 1.4 1.4 2.1 1.2 2.8 1 3.4 1.6 10.8 .9 9 .2 6.8-.3 6.2-1 5.8-.7 2.4-.9 2-1 1.8-1.1 1.3-1.3 1-1.4 .7zM258.8 185.5l-3.8 0-3.2-.6-2.3-.8-1.7-1.9-1.4-2.7-1-3.7-.5-3.6-.2-6.4 .1-9.6 .6-9 .6-5.3 1.2-4.7 1.7-3.2 1-1.2 1.1-1 3.2-1.1 3.8-.4 3.8 .3 3.2 .8 1.5 .8 1.6 1.8 1.3 2.8 1 3.4 .3 3 .3 6.8-.1 8.8-.5 8.7-.7 5.7-1.1 4.6-1.6 3.4-1 1.4-1.2 1.2-2.6 1-3.4 .7zM250.8 4l.1 7-.5 12.2-.6 4.6 .3 1.7 1.2 2.5-.2 2 0 1.2 .8 1.8 4.8 7.2 2.2 4.3 .9 1 2.7 2 .5 3.1 2.3 4.4 1.1 3.8 .4 2.7 .5 9 0 9-.5 10-.5 3-.9 3-.8 1.5-1 1.2-1.1 1.1-1.3 .8-3.7 .7-3.5 .3-4.8-.2-3.2-.6-1.2-.4-1.6-1.1-1.1-1.3-1-1.7-.7-2-.6-2.6-.2-2.2-.4-8-.1-7 .5-12.8 1.2-6.2-.4-.8-.9-.5-.4-1.7-.9-.6-4.2-1-3-1-2.2-1-2.3-1.2-2.3-1.7-1.9-1.7-1.5-1.8-2.1-3-1-1-1.2-.8-2.5-.8-1.8-1.7-1.4-1-4.6-1.5-2.2-1.1-2-1.7-1.5-2.2-1.4-3.4-.8-4.6-.4-12.2 .1-7M304.8 4l1 2.5 .7 3 .6 3.5 .4 4 0 9-.3 4.2-.6 3.8-.7 2.8-.8 2.2-.9 1.8-1.2 1.4-1.4 1.3-1.6 .9-1.8 .5-1.7 .2-1.7-.2-1.8-.5-1.5-.9-1.5-1.3-1.2-1.7-.9-1.7-.8-2.3-.5-2.5-.6-3.8-.3-4-.2-4.7 .2-4.5 .4-4 .5-3.5 .8-3 1-2.5M199.5 137.1l-1.3 .1-1.2 0-1.2-.4-1.3-.5-2.3-1.8-2.2-2.9-2.1-3.8-1.7-4.6-1.5-5.2-1.1-5.2-.8-6.6-.6-8.7-.1-7.3 .4-4.2 .7-2.3 1.3-1.6 2.3-1.2 3.2-.9 3.2-.2 3 .5 3 1.2 2 1.5 1.3 2 .9 2.2 .8 3.3 .9 5 1.3 8.7 .6 7.6 .1 6.2-.4 5.8-1.1 5.2-1.6 3.9-1 1.6-1 1.1-1.2 .9-1.3 .6zM258.2 184.8l-3.4-.1-3-.7-2.6-1.3-1-.9-.7-1-1.3-3.2-.5-2.8-.5-5.6-.1-6.7 .2-8.3 .5-7.2 .9-6 1.1-3.8 1.4-2.7 2-1.7 1.6-.7 1.7-.6 3.7-.5 3.3 .3 3 .9 2.3 1.4 .7 .7 .7 1.1 1.1 2.4 .7 3.4 .5 5.3 .1 6.5-.2 7.8-.5 7.2-.9 6-1 4-1.5 2.9-1.7 1.7-3 1.5-3.6 .7zM250.1 4l.1 8.8-.7 12.2-.3 2.2 .2 1.6 1.1 2.2 .3 1.5-.2 2.3 .1 1 .8 1.7 4.6 7 1.9 4 1 1 2 1.3 1.2 1.9 .3 2.3 2.3 4 1.2 3.5 .6 5.5 .3 6.2 .1 8-.4 7.8-.6 6.2-.9 2.8-1.3 2.2-1.6 1.5-3.7 1.2-4.5 .6-2.8 0-2.4-.3-2.8-.7-2-.8-1-.9-.9-1.3-1.4-3.3-.5-3-.5-5.4-.3-10.6 .6-11.4 .5-4.6 .8-3-.2-.7-1-.7-.4-.8-.2-1.2-.5-.6-7.2-2.1-2.6-1-2.2-1.3-2.2-1.6-1.9-1.7-1.6-1.7-2.1-3-1-1-1.3-.8-1.5-.5-1.9-1.1-1.7-1.7-1.3-.9-3.7-1.1-2-1-1.6-1.1-1.3-1.4-1-1.4-.8-1.8-1-4-.7-13 .1-8M303.3 4l1.2 2.2 .9 2.6 .7 3 .5 3.4 .3 4 0 4.6-.2 4-.5 3.7-.6 2.7-.8 2.6-.9 2-1.1 1.7-1.3 1.3-1.5 1-1.8 .6-1.7 .2-1.7-.2-1.8-.7-1.5-1-1.3-1.3-1-1.6-.9-2-.8-2.6-.5-2.7-.5-3.7-.2-4 0-4.6 .3-4 .5-3.4 .7-3.1 .9-2.7 1.1-2M199.5 136l-1.3 .2-1.2 0-2.2-.8-2.3-1.7-2.1-2.7-2-3.5-1.7-4.3-1.6-5.2-1-5.2-.9-6.8-.5-7.5 0-6.5 .4-4.5 .8-2.5 1.3-1.8 2.3-1.5 3-.9 2.7-.1 3 .6 2.8 1.4 1.8 1.5 1.3 2 1 2.8 1.1 4 .9 5.2 1.1 7.6 .5 6.4 0 6-.5 5.6-1.1 4.7-1.4 3.5-.9 1.5-1 1.2-1 .7-1.3 .6zM258 184l-3.2-.1-3-.8-2.4-1.6-1.6-2.1-1.1-2.9-.7-4-.5-5.5-.1-6.5 .3-7.3 .7-7 .9-5.2 1.1-3.5 1.6-2.5 2.2-1.7 3-1.2 3.3-.3 3.3 .4 2.7 1 2.1 1.6 1.4 2 1 2.7 .7 3.7 .4 5.6 .1 6.2-.2 7.2-.7 6.6-.8 5.2-1.2 3.8-1.4 2.4-1.9 1.8-2.8 1.3-3.2 .7zM249.4 4l.2 4-.1 4.5-1 12.7 .2 2.6 .8 2.2 .7 3.8-.2 1.4 .2 1 .7 1.6 4.5 6.7 1.9 4.3 .7 .7 1.7 1 2.1 2.9 .2 2.6 1.8 2.4 .7 1.4 .7 2.2 .6 3.2 .8 9.3 .1 7.3-.4 7-.7 6.2-1.1 3.8-1.3 2-2 1.4-3.4 1.2-3.8 .5-2.5 0-2.3-.3-2.2-.6-2-.8-1.2-.8-1.1-1.2-.8-1.2-.6-1.8-.6-3.2-.6-4.8-.3-5.2-.1-5.2 .6-10.8 .6-4.5 .9-3.7-.1-1.3-.8-.7-.9-1.5-.3-1.1-.5-.4-6.7-1.9-2.5-1.1-2.5-1.3-2.3-1.6-1.8-1.7-1.5-1.7-1.9-2.8-1.2-1.2-2.3-1-3.7-2.3-1.6-1.5-1.2-.9-1.5-.5-2-.5-1.5-.7-1.4-1.1-1.2-1.2-1.4-2.3-.9-2.7-1.1-13.3-.1-5 .2-4.5M301.6 4l1.3 1.8 1.1 2.2 .9 2.8 .6 3 .5 3.4 .2 4-.1 4-.4 3.8-.5 3-.7 2.5-.9 2.3-1.1 1.9-1.3 1.4-1.4 1.1-1.6 .6-1.7 .3-1.7-.3-1.6-.6-1.4-1.2-1.3-1.5-1-1.7-.9-2.3-.7-2.5-.5-3-.3-3.8-.1-4 .1-3.7 .5-3.7 .6-3 .9-2.8 1-2.2 1.3-1.8M199.2 135l-2.2 .2-2.2-.8-2.3-1.8-2.2-2.8-1.9-3.6-1.7-4.4-1.4-4.8-1-5.2-.7-6.3-.4-7 0-5.7 .6-4.3 .8-2.5 1.5-2 2.1-1.5 2.8-.8 2.8 0 2.7 .7 2.5 1.5 1.7 1.9 1.3 2.2 1.1 3.2 1.1 4.3 .9 5.3 .8 6.7 .4 5.7-.1 5.6-.6 5-1 4.2-1.4 3.5-1 1.3-1 1.1-1 .7-1 .4zM257.5 183.3l-3-.2-2.7-1-2.3-1.8-1.5-2.2-1-3.1-.7-4-.4-5.8-.1-6.4 .4-6.8 .6-6 .9-4.5 1.2-3.3 1.6-2.4 2-1.7 2.7-1.2 3.3-.3 3 .4 2.7 1.1 2 1.7 1.5 2.2 1 3 .7 4 .4 5.5 0 5.7-.2 6.3-.7 6.3-1 5-1.1 3.3-1.6 2.5-2 1.8-2.7 1.3-3 .6zM248.7 4l.2 4.2-.1 4.8-1.3 12.2 .2 1.3 1 2.7 .3 3 .6 2.3 0 2 .6 1.5 4.4 6.5 1.7 4.3 .7 .7 1.2 .7 3 4-.3 1.6 .1 .7 2.5 3.3 .7 1.4 .6 2 .8 4.8 .6 6.2 .1 6.8-.3 6.5-.7 6-1.1 4-1.3 2.3-.9 .8-1.2 .9-3 1.2-3.8 .6-2.2 0-2.6-.4-2.2-.7-1.8-.9-1.2-.9-1-1.2-.8-1.4-.6-2-.7-3.8-.5-4.8-.3-5 0-5.4 .3-5.3 .5-4.7 .7-3.8 1.2-3.5-.1-.7-1-1-.5-1.2-1-1.1-.4-1-1-.5-3.6-.8-2.7-.9-2.5-1.1-2.2-1.2-2-1.5-1.8-1.5-1.5-1.8-1.9-2.7-1-1-2-1-2.6-2-2.8-1.5-2.4-2.1-5-2-1-.7-.9-1-.9-1.2-.6-1.8-1.1-6.7-.8-9.3 .1-8.2M299.3 4l1.5 1.1 1.3 1.7 1.1 2.2 .9 2.5 .7 3 .4 3.5 .2 3.8-.2 3.7-.3 3.3-.6 3-.8 2.4-1 2.1-1.3 1.8-1.4 1.3-1.6 .7-1.7 .3-1.7-.3-1.6-.7-1.2-1.2-1.3-1.7-1.1-2.3-.8-2.4-.6-3-.3-3.3-.1-3.7 .1-3.8 .4-3.5 .7-3 .8-2.5 1.2-2.2 1.2-1.6 1.6-1.2M198.8 134.1l-1 .1-1.3-.2-2.3-1-2-1.8-2-2.7-1.8-3.5-1.6-4.2-1.2-4.8-1-5.2-.7-6-.2-6 .1-5.3 .5-4 1-2.7 1.5-2 2-1.4 2.4-.8 2.6 0 2.4 .8 2.3 1.3 1.9 2.1 1.3 2.4 1.2 3.3 1 4.3 1 5.4 .7 6.3 .3 5.5-.2 5.2-.6 4.8-1.1 4-1.4 3-1.8 2.1-1 .6-1 .4zM258.8 182.3l-3 .1-2.8-.7-2.2-1.4-1.8-2-1.1-2.5-.9-3.6-.6-4.7-.2-5.3 .1-6.7 .5-6.3 .9-5.2 1.2-4 1.4-2.8 .9-1 1.3-1.1 2.5-1.2 3-.6 2.8 .3 2.4 .9 2 1.5 1.6 2 1.1 2.5 .8 3.3 .5 4.2 .3 5.2-.2 6.3-.4 6-.9 5.3-1.1 4.2-1.4 2.8-1.7 2.1-2.3 1.5-2.7 .9zM248 4l.3 4.5-.2 4.7-.4 4.3-1.2 7.3 .3 1.4 1.1 2.3 .2 3.5 .8 3.2 .1 1.8 .7 1.5 4.1 6 1.7 4.5 1.4 1.2 1.1 2.4 2.1 2.6-.2 1 .1 .8 2.3 2.5 1.2 2 .8 2.3 .6 2.7 .9 8 .2 6.7-.4 6.3-.7 5.5-1.1 3.8-1.6 2.4-2 1.6-3 1.3-3.2 .6-2.2-.1-2.3-.3-2.3-.8-1.7-1-1.3-1.1-1-1.4-.8-1.8-.7-2.4-.7-4.3-.4-4.7-.2-5.3 .2-5.5 .5-5 .6-3.8 .8-3 1.3-2.7 .1-.7-1.4-1-.4-1.6-1.3-1.2-.7-1-.9-.4-3.4-.8-3-.9-2.6-1.1-2.2-1.3-2-1.5-1.6-1.5-3-4-.9-1-1.8-1-3.5-2.7-3.4-1.9-2.6-2.1-4-2.2-1.4-1.4-.9-1.4-.8-2-1.3-6.6-.7-8.2 .1-8M297.5 38.5l-1.7 .1-1.7-.6-1.5-1.2-1.3-1.8-1-2.2-.9-2.8-.5-3-.3-3.5 .1-3.7 .3-3.6 .7-3.2 .8-2.6 1.1-2.2 1.4-1.6 1.5-1.1 1.7-.4 1.8 .2 1.5 .8 1.3 1.2 1.2 1.9 1 2.3 .7 2.7 .5 3 .3 3.3 0 3.5-.3 3.2-.6 3-.8 2.8-1 2-1.3 1.7-1.5 1.2-1.5 .6zM198.5 133l-1 .1-1.3-.2-2-.9-2-1.9-2-2.8-1.6-3.3-1.6-4.2-1.1-4.6-1-5.2-.6-5.5-.2-5.7 .2-4.8 .6-3.8 .9-2.4 1.4-2 2-1.5 2.3-.7 2.5 0 2.2 .8 2.3 1.6 1.7 2 1.3 2.5 1.2 3.3 1 4.2 .9 5.2 .6 5.6 .2 5.4-.2 5-.6 4.3-1 3.7-1.4 2.8-1.7 2.1-1 .6-1 .3zM258.2 181.5l-2.7 .1-2.5-.8-2.2-1.6-1.6-2-1.1-2.7-.8-3.7-.6-5-.1-5.3 .2-6.5 .5-5.5 1-4.7 1.2-3.6 1.5-2.5 2-1.9 2.5-1.3 2.7-.4 2.6 .4 2.4 1 2 1.7 1.4 2 1.1 2.8 .7 3.5 .5 4.5 .2 5-.2 5.8-.5 5.2-1 5-1 3.5-1.5 2.7-1.7 2-2.2 1.5-2.8 .8zM247.3 4l.3 4.5-.2 4.7-.5 4.3-1.2 5.7-.1 1.3 .3 1.3 1.1 2.4 .2 4 .4 1.8 .7 2 .1 1.2 .6 1.4 4.1 6.2 .6 1.4 .6 2.6 .4 .7 .7 .5 .4 2 .6 1.2 2.5 2.8-.1 1 .3 .5 2.6 2.5 1.4 2.2 .8 2.3 .7 2.7 .8 7 .2 6.3-.3 5.7-.7 5.6-1.1 4-1.5 2.4-2 1.9-2.8 1.3-3.2 .6-2.2 0-2.3-.4-2.3-.9-1.7-1.1-1.3-1.3-.9-1.5-.8-2-.6-2.6-.7-4.4-.4-5 0-5.3 .3-5.3 .6-4.2 .7-3.5 .9-2.5 1.7-2.8 0-.7-.8-.5-.3-1-1-1.5-1.9-1.2-.5-.8-7.5-2.1-2.8-1.3-2.6-1.6-2.8-2.5-3.4-4.5-1.6-1-1.8-1.7-2-1.5-5-2.8-1.8-1.6-3.4-2.4-1.2-1.3-1-1.4-.9-2.3-1.3-6.3-.8-7.7 .2-7.5M297.8 36.5l-1.6 .2-1.4-.4-1.3-.9-1.3-1.5-1-1.9-.8-2.5-.5-2.7-.3-3 0-3.3 .2-3 .6-3 .8-2.5 1-2.1 1.3-1.5 1.3-.9 1.4-.4 1.6 .2 1.2 .6 1.2 1.2 1 1.5 .9 1.9 .7 2.3 .5 2.7 .2 2.7 .1 3-.3 2.8-.4 2.8-.7 2.2-.9 2-1.1 1.7-1.2 1.2-1.2 .6zM198.8 131.8l-2 .1-2-.7-2-1.7-2-2.6-1.7-3.1-1.5-4-1.3-4.6-.9-5-.6-5.2-.2-5.5 .2-4.7 .6-3.6 .9-2.4 1.5-2.1 1.7-1.4 2.3-.7 2.2 0 2 .7 2 1.4 1.8 2.1 1.3 2.4 1.2 3.3 1 4 .8 4.5 .7 5.5 .2 4.7-.2 4.8-.5 4.2-1 3.8-1.2 2.8-1.6 2-1.7 1zM257.5 180.8l-2.5-.2-2.2-.9-2-1.7-1.5-2.2-1.1-3-.7-4-.5-4.8-.1-5.2 .3-5.3 .6-5.3 1-4.2 1.1-3.2 1.6-2.6 1.9-1.7 2.4-1.2 2.4-.3 2.6 .3 2.2 1.1 1.8 1.6 1.5 2.2 1.1 3 .7 3.8 .5 4.5 0 5-.2 5.3-.6 5-.9 4.2-1.3 3.5-1.4 2.5-2 1.9-2.2 1.3-2.5 .6zM246.6 4l.3 4.5-.2 4.7-.6 4.3-1.4 6.5 .2 1 .6 1.2 .6 3.3 0 2.3 .3 1.7 1.2 3 .1 1 .3 .9 3.3 4.8 1.2 2.3 .7 3.5 .8 1-.1 2.8 .2 1 .9 1 2.5 1.7 .1 .7 .2 .6 3.2 2.6 1.7 2.6 .8 2 .6 2.8 .9 6.7 .2 6-.3 5.7-.7 5-1.1 3.8-1.4 2.5-1.9 1.9-2.8 1.3-3 .7-2.5-.1-2.3-.5-2-.9-1.7-1.4-1.3-1.5-.9-1.8-.7-2.2-.7-3-.5-4.2-.2-4.8 .1-5 .4-4.8 .7-4.2 .9-3.2 1.1-2.3 2.1-2.7-.2-.6-.4-.2 .3-1-.1-.8-.6-.6-4-1.9-.7-.8-7-1.8-2.8-1.2-2.2-1.4-3-2.5-3.2-4.2-1.7-1.3-2.4-2.4-3-2.1-4.7-2.6-5.2-4.6-1.2-1.8-.9-2-.8-2.8-.7-3.4-.8-7.6 .1-7.2M296.8 34.5l-1.3-.1-1-.5-1.1-1.1-1-1.6-.7-1.7-.6-2.3-.4-2.4-.1-2.6 .4-5 .5-2.3 .7-2 1-1.7 1-1.1 1-.6 1.3-.2 1.3 .2 1 .6 1 1.1 1 1.6 .7 1.9 .5 2.1 .5 5-.1 2.4-.3 2.6-.5 2.2-.7 1.8-.9 1.5-1 1.2-1 .7-1.2 .3zM198.2 130.8l-2-.1-1.7-.8-2-1.8-1.7-2.5-1.6-3.1-1.5-4-1.1-4.3-.8-4.4-.5-4.8-.2-5 .2-4.2 .6-3.6 1-2.7 1.3-1.9 1.8-1.4 2-.6 2.2 .1 2 .8 1.9 1.5 1.6 2 1.3 2.5 1.1 3.3 1 4 .8 4.4 .5 5 .1 4.8-.2 4.2-.6 4-.9 3.3-1.3 2.7-1.5 1.7-1.8 .9zM258.5 179.8l-2.5 .1-2.2-.7-2-1.4-1.7-2-1.2-2.8-.8-3.2-.5-4.3-.3-4.7 .2-5.3 .5-5.3 .9-4.7 1.2-3.5 1.4-2.6 1.9-1.9 2.1-1.2 2.5-.5 2.2 .3 2.2 .9 1.8 1.5 1.4 2 1.1 2.5 .8 3.5 .5 4 .2 4.3-.1 5-.5 5-.8 4.2-1.1 3.8-1.4 2.7-1.5 1.9-2 1.5-2.3 .9zM245.8 4l.3 4.5-.2 4.7-.6 4.3-1.4 5.7 0 1 .4 1.3 .2 3 .5 2.3 .4 2.7 1.5 3.5 .2 1.2 4.1 6.6 .6 1.7 .2 2.7 .6 .8-.8 1.8-1 1.3-1.3 .7-1.5 .2-2.8 0-3.2-1-.5-.5-.7-.3-5.3-1.1-3-1.2-2.5-1.3-1.8-1.2-1.4-1.4-3.2-4.2-1.6-1.3-2.9-3-3.1-2.2-5.8-3.2-3.3-3.3-1.4-1.8-1.1-2-.9-2.8-.8-3.2-.6-3.8-.3-3.7-.1-3.7 .2-3.8M296.5 32l-1-.2-.8-.6-.9-1-.7-1.2-1-3.2-.3-3.8 .3-4 1-3.2 .8-1.3 .9-1 .7-.5 1-.2 1 .2 .8 .5 .9 1 .7 1.3 1 3.2 .4 4-.3 3.8-1 3.2-.8 1.3-.7 .8-1 .7-1 .2zM255.2 100.5l-2.7 .2-2.5-.4-2.5-1.1-2-1.7-1.4-2-1-2.5-.8-3.2-.5-4.3-.3-5.3 .2-5.4 .7-5.3 .9-4 .8-2 .9-1.6 3-3.1 .1-.6-.3-.2 2-1.6 1.4-.5 2.3 .2 2.4 .9 .5 1 3.1 2 1.6 1.8 1.2 2 1 2.7 .8 3.5 .5 4 .2 5.5-.1 5.3-.7 4.7-1 4-1.1 2.5-1.7 2-2.2 1.6-2.8 .9zM198.2 129.6l-1.7 0-2-.8-1.7-1.6-1.8-2.4-1.6-3.3-1.3-3.5-1.2-4.5-.7-4.3-.5-4.7-.1-4.3 .3-4 .6-3.2 .9-2.5 1.3-2 1.6-1.3 1.9-.6 1.8 .1 2 .8 1.8 1.3 1.5 2 1.3 2.4 1.1 3 1 3.8 .7 4.2 .5 4.6 .2 4.4-.2 4.3-.6 3.7-.9 3.3-1.1 2.5-1.5 1.8-1.6 .8zM257.5 179l-2.3-.2-2-.9-1.7-1.5-1.5-2.4-1-3-.7-3.5-.5-4.5 0-4.8 .2-5 .6-4.2 .9-3.8 1.1-3 1.6-2.4 1.8-1.8 2-1 2.2-.3 2.3 .3 2 1.1 1.7 1.7 1.4 2.2 1 2.8 .7 3.4 .4 4 .1 4.6-.3 4.7-.6 4.5-.8 3.8-1.2 3.2-1.4 2.4-1.7 1.8-2 1.2-2.3 .6zM245.1 4l.3 4-.1 4-.7 4.8-1.6 6 .2 2-.2 2.7 0 1.5 .3 1.2 .6 1.6 .5 2.2 1.7 3.5 .3 1.3 3.2 4.7 .9 1.7 .3 1.8-.2 2.2 .3 .8-.7 1-1.2 .9-1.5 .6-1.5 .2-3.2-.4-1.3-.6-5.5-1.1-2.8-1-2.4-1.3-1.8-1.2-1.5-1.3-2.9-4-1.5-1.3-1.6-2-1.8-1.7-2.8-2-7.1-4.1-2.6-2.9-1.4-2-1.1-2.3-.9-2.7-.9-4-.5-4.3-.1-4.3 .3-4.2M296.8 28.8l-.8-.1-.5-.2-1.2-1.5-.8-2.2-.2-2.6 .2-2.7 .6-2.3 1.1-1.6 .6-.3 .7-.2 1.3 .5 1 1.4 .7 2.2 .3 2.6-.2 2.4-.6 2.3-1 1.6-1.2 .7zM253.8 100l-2.6-.1-2.4-.8-2-1.4-1.8-1.9-1.1-2.3-1-3.3-.6-4-.4-4.4 .1-4.8 .4-5 .8-4 1-3.4 1.2-2.1 1.6-1.7 3.3-2.3 .3-.3 0-.2 .4-.2 1.5-.3 1 .2 .3 .3 2.7 1.1 1.7 1 1.8 1.4 1.5 2 1.1 2.5 .8 3.2 .7 4.3 .3 4.5 0 4.8-.4 4.4-.9 4-1 3-1.4 2.3-1.9 1.8-2.3 1.1-2.7 .6zM198.2 128.3l-1.7 .1-1.7-.7-1.8-1.5-1.7-2.2-1.4-2.8-1.3-3.4-1.2-4.3-.7-4-.4-4.3-.2-4.2 .3-3.8 .5-3.2 .9-2.5 1.2-1.8 1.5-1.3 1.7-.7 1.8 0 1.8 .7 1.7 1.4 1.5 1.9 1.2 2.3 1.1 3 .9 3.2 .8 4 .4 4.3 .2 4.3-.2 4-.5 3.4-.8 3-1.1 2.6-1.2 1.6-1.6 .9zM258 178l-2 .1-2-.7-1.8-1.4-1.5-2.2-1.1-2.6-.7-3.2-.6-4-.1-4.5 .1-4.7 .6-4.6 .8-3.7 1.2-3.3 1.3-2.3 1.8-1.9 2-1.1 2-.4 2 .3 2 1 1.6 1.4 1.3 2 1.1 2.6 .7 3 .5 3.7 .2 4.3-.2 4.4-.5 4.3-.8 3.7-1 3.3-1.3 2.5-1.6 1.9-2 1.5-2 .6zM244.3 4l.4 4.2-.2 4.6-.8 4.2-1.5 5.2 0 1.8-.7 3.5 0 2 .4 1.5 .9 1.8 .8 2.2 1.6 3 .6 1.5 3.3 5 .5 1.3 .1 1-.8 3.4-1.9 1.1-2.5 .3-.7 0-1.3-.5-3.7-.5-2.6-.6-2.7-1-2.5-1.3-2.8-2.3-2.5-3.6-1.4-1.3-1.9-2.5-1.9-1.9-2.5-1.8-6.2-3.4-2.3-1.6-2.2-2.8-1.2-2-1.1-2.5-.9-3-.7-3.8-.4-3.7-.1-3.7 .3-3.8M254.2 99.3l-2.4 0-2.3-.7-2.2-1.4-1.6-1.7-1.3-2.3-1-3-.7-4-.4-4 .1-5 .4-4.7 .7-4 1.1-3.3 1.4-2.3 1.8-1.8 2.2-1.3 2.5-.6 2.3 .2 2.4 1 2 1.4 1.6 2 1.2 2.4 .9 3 .7 4 .4 4.3 0 4.5-.3 4.2-.8 4-1 3-1.4 2.4-1.7 1.8-2.3 1.3-2.3 .6zM197 127.3l-1.8-.5-1.4-1-1.6-1.8-1.4-2.4-1.4-3.1-1-3.3-.9-3.7-.5-4-.3-3.7 0-3.6 .3-3.2 .6-2.8 .9-2.2 1.3-1.7 1.4-1.1 1.6-.4 1.7 .2 1.7 .9 1.6 1.4 1.3 1.9 1.2 2.6 1.1 3.2 .8 3.5 .6 4 .3 4-.1 4-.3 3.7-.7 3-.9 2.6-1.1 1.8-1.5 1.3-1.5 .4zM258.2 177l-2 .1-2-.6-1.7-1.4-1.3-1.9-1.1-2.4-.8-3.3-.5-3.7-.2-4.3 .1-4.3 .5-4.2 .8-3.8 1.1-3 1.4-2.4 1.5-1.7 2-1.2 2-.4 2 .3 1.8 .9 1.4 1.4 1.3 1.9 1 2.5 .8 3 .4 3.5 .2 3.8-.1 4-.5 4-.7 3.4-1 3.3-1.3 2.5-1.3 1.8-1.8 1.4-2 .8zM243.5 4l.4 4.8-.3 4.4-.7 3.8-1.6 4.8-.1 1.6-1.2 4.4-.1 2 .6 2 1.2 2 .9 2 1.7 2.4 .5 1.4 3.1 4.6 .4 1 .2 1-.3 1.6-1.2 1.5-1.2 .8-1.8 .2-3.8-.2-3-.5-3-1-2.6-1.4-1.4-1-1.2-1.2-2.2-3.2-1.3-1.3-2.5-3.5-1.5-1.5-2.5-1.7-7.2-4-2.6-2-1.9-2.8-1-2-1-2.5-.8-3-.6-3.3-.4-3.4 0-3.6 .3-3.2M254.2 98.5l-2.4 0-2.3-.7-2-1.3-1.6-1.7-1.3-2.6-.9-3-.7-3.4-.3-4 .1-4.8 .4-4.2 .7-3.8 1.2-3.2 1.4-2.4 1.7-1.7 2.3-1.2 2.3-.5 2.2 .3 2.2 .9 1.9 1.6 1.5 2 1.2 2.4 .9 3 .6 3.8 .3 4 0 4.2-.4 4-.8 3.8-1 2.8-1.3 2.2-1.6 1.7-2 1.2-2.3 .6zM197.8 125.8l-1.6 .1-1.4-.6-1.6-1.3-1.4-2.1-1.4-2.7-1.1-3-1-3.4-.6-3.8-.4-3.8-.1-3.4 .2-3.3 .5-2.7 .8-2.3 1.1-1.7 1.4-1.3 1.6-.5 1.4 .1 1.6 .6 1.4 1.3 1.4 1.8 1.1 2.2 1 2.8 .8 3.2 .6 3.2 .4 3.6 .1 3.7-.2 3.5-.5 3-.7 2.5-1 2.1-1.2 1.5-1.2 .7zM258.2 176l-2 .1-1.7-.6-1.5-1.1-1.4-1.9-1.1-2.5-.8-3-.5-3.8-.2-3.7 .2-4 .4-4 .8-3.5 1-3 1.4-2.4 1.4-1.7 1.8-1.1 2-.4 1.8 .3 1.7 .9 1.5 1.4 1.1 1.8 1 2.4 .7 2.8 .5 3.2 .1 3.6-.1 4-.4 3.7-.8 3.5-.9 2.8-1.2 2.4-1.4 1.8-1.6 1.3-1.8 .7zM242.7 4l.4 5-.4 5-.8 3.2-1.4 4-.2 1.6-2 5-.3 2.2 .2 1 .6 1.2 4.4 6.5 .6 1.3 2.6 3.8 .6 1.2 .2 1-.5 1.5-1.2 1.2-1.7 .6-2.3 .2-2.5-.2-2.5-.6-2.5-1-2.1-1.2-2.1-2-1.8-2.7-1.2-1.3-2.1-3.5-1.8-2-2.5-1.8-7.9-4.1-1.6-1.1-1.7-1.5-2.6-4.7-1-2.8-.7-2.8-.5-3-.2-3 0-3.2 .3-3M254.2 97.8l-2.2 0-2.2-.7-2-1.3-1.6-1.7-1.2-2.3-.9-2.8-.6-3.5-.4-3.7 .1-4.3 .4-4.3 .7-3.7 1.1-3 1.4-2.3 1.7-1.8 2-1.1 2.3-.5 2.2 .3 2 .9 1.8 1.4 1.4 1.8 1.2 2.6 .8 2.7 .6 3.5 .4 4 0 4-.4 3.8-.7 3.4-1 2.8-1.3 2.2-1.6 1.7-2 1.3-2 .6zM197.5 124.5l-1.5 0-1.5-.7-1.5-1.5-1.2-1.8-1.2-2.5-1-2.8-.9-3.2-.6-3.5-.3-3.5 0-3.2 .2-3 .6-2.6 .7-2 1-1.4 1.2-1.1 1.5-.5 1.5 .1 1.3 .6 1.2 1.1 1.3 1.8 1.1 2.2 .9 2.5 .8 3 .5 3 .4 3.5 0 3.2-.2 3.3-.4 2.7-.7 2.6-.9 1.8-1 1.2-1.3 .7zM258.2 175l-1.7 .1-1.7-.5-1.6-1.2-1.3-1.9-1-2.3-.8-3-.4-3.4-.2-3.6 .1-3.7 .5-3.7 .7-3.3 1-2.7 1.2-2.3 1.5-1.7 1.7-1.1 1.8-.3 1.8 .3 1.4 .8 1.3 1.3 1.3 1.8 .8 2.2 .7 2.7 .5 3.3 .2 3.2-.2 3.5-.4 3.5-.7 3.2-.9 2.8-1.1 2.2-1.3 1.8-1.4 1.2-1.8 .8zM241.9 4l.3 2.8 .1 2.7-.2 2.7-.5 2.8-.7 2.5-1.4 3.5-.2 1.2-2.8 5.6-.6 2.2 .1 1.2 .6 1.3 2.6 3 2.8 3.5 .6 1.2 2.3 3.3 .7 1.5 .1 .8-.1 .7-.8 1.1-1.8 .8-2.2 .2-2-.2-2.3-.5-2-.8-1.8-1.1-1.6-1.5-1.8-3-1-1-2.2-4.3-1.6-2-2.3-1.4-6-2.7-2.7-1.5-2.3-1.5-1.7-1.7-1.4-2.4-1.2-2.5-1.5-5-.4-3-.2-2.7 .1-3 .3-2.8M254.2 97l-2.2 0-2-.6-1.8-1.2-1.6-1.7-1.2-2.3-.8-2.4-.7-3.3-.3-3.7 0-4 .4-4 .7-3.6 1.1-3 1.2-2.2 1.8-1.8 2-1.1 2-.4 2 .2 2 .9 1.7 1.4 1.4 1.8 1 2.2 .9 3 .6 3.3 .3 3.5 0 3.8-.3 3.4-.6 3.3-1 2.7-1.2 2.3-1.6 1.7-1.8 1.2-2 .6zM197.5 123l-1.3 .2-1.4-.6-1.3-1.1-1.3-1.7-1.1-2.3-1-2.5-.8-3-.5-3-.4-3.2-.1-3 .2-2.8 .5-2.4 .7-2.1 .9-1.5 1.2-1 1.2-.5 1.2 0 1.3 .5 1.3 1.1 1.2 1.7 1 1.9 .9 2.3 1.1 5.2 .5 6.3-.2 2.7-.4 2.8-.6 2.2-.8 1.9-1 1.3-1 .6zM257.8 174l-1.8 0-1.5-.7-1.3-1.2-1.1-1.9-.9-2.2-.7-2.8-.4-3.2-.1-3.5 .2-3.5 .4-3.2 .7-3 1-2.6 1.1-2 1.4-1.4 1.4-1 1.8-.4 1.5 .3 1.5 .8 1.5 1.5 1 1.8 .9 2.2 .6 2.5 .3 3 .1 3.3-.1 3.2-.5 3.2-.7 3-.9 2.6-1.1 2-1.3 1.6-1.6 1.1-1.4 .5zM241 4l.4 3 .1 3-.3 3-.7 2.8-1.8 4.7-.3 1.3-1.3 2.2-3.3 4.8-.6 1.2-.3 1.2 .2 1 .7 1 4 3.2 2.9 3.1 .5 1 2.6 3.7 .3 1.3-.6 1.1-1.3 .7-2 .3-2-.2-2-.5-1.7-.9-1.6-1.2-2-3.3-1-1.3-1.7-5.2-.6-1-.8-.8-2.4-1.2-5.9-2.1-3.5-1.5-3-1.9-2.2-2.3-2.4-4.7-.9-2.5-.5-2.5-.5-5.3 .3-5.2M254 96.3l-2 0-2-.7-1.8-1.3-1.3-1.5-1.1-2-.9-2.8-.6-3.2-.3-3.6 0-3.7 .4-3.7 .8-3.3 1-2.7 1.3-2.3 1.5-1.5 1.8-1.1 2-.4 2 .3 1.7 .7 1.7 1.5 1.3 1.7 1.1 2.3 .8 2.8 .6 3.2 .3 3.5 0 3.5-.4 3.5-.7 3-.9 2.5-1.3 2.1-1.5 1.6-1.7 1-1.8 .6zM197.2 121.6l-1.2 .1-1.2-.6-1.3-1.1-1-1.4-1-2-.9-2.4-1.3-5.4-.3-5.6 .1-2.4 .5-2.3 .6-1.7 .8-1.5 1-1 1.2-.5 1 0 1.3 .6 1 .8 1.2 1.6 .9 1.7 .7 2 1.2 5 .4 5.5-.5 5-.5 2-.8 1.8-.9 1.1-1 .7zM258.2 172.8l-1.4 .2-1.6-.5-1.3-1-1.1-1.6-1-2.1-.7-2.6-.4-3-.2-3.2 .1-3.2 .4-3 .6-3 .9-2.6 1.2-2 1.3-1.5 1.5-.9 1.5-.3 1.5 .3 1.3 .7 1.2 1.3 1 1.6 .8 2.1 .6 2.3 .4 2.7 .1 2.7-.1 3-.4 3-.6 2.8-.7 2.2-.9 2-1.2 1.7-1.2 1.2-1.6 .7zM240.1 4l.5 4.2-.2 4.3-.9 3.5-2.1 5.2-2.4 3.5-3.8 3.7-2.2 1.5-1.2 .3-1.3 .1-2.3-.2-3-.5-4.4-1.5-2-1-2-1.3-1.6-1.3-1.2-1.4-2.2-4.6-1.2-4.5-.5-5 .5-5M240.5 46.3l-1.5 .1-1.8-.4-1.4-.6-1.2-.9-1.8-3.3-.8-1-.1-1.4 .6-1.2 1-.4 1.7 .2 1.8 1 1.7 1.4 .5 1 2 2.4 .8 1.3 0 .5-.2 .6-1.3 .7zM253.2 95.5l-1.7-.2-1.7-.8-1.6-1.2-1.3-1.8-1-2.3-.8-2.7-.5-3-.2-3.3 .2-3.7 .4-3.3 .8-3 .9-2.2 1.3-2 1.5-1.4 1.7-.9 1.8-.3 1.8 .2 1.7 .9 1.5 1.3 1.3 2 1 2.2 .9 3 .5 3.2 .2 3.6-.2 3.2-.4 3-.7 2.8-1 2.2-1.4 1.9-1.4 1.4-1.8 .9-1.8 .3zM197 120l-1 .1-1.2-.5-1-.9-1-1.4-1-1.8-.8-2.3-1.1-5-.3-4.7 .2-2.3 .4-2 .6-1.5 .7-1.2 1-.9 1-.4 1 .1 1 .5 1 .9 .9 1.3 1.6 3.5 .9 4.3 .3 5-.4 4.4-.6 1.9-.6 1.4-.8 1-.8 .5zM257.8 171.8l-1.6-.1-1.2-.6-1.2-1.1-.9-1.5-.8-2-.6-2.5-.4-2.8-.1-3 .2-3 .4-2.7 .6-2.5 .9-2.2 1-1.8 1.1-1.3 1.3-.8 1.5-.3 1.2 .3 1.3 .7 1.3 1.3 .9 1.6 .7 2 .5 2.3 .5 5-.6 5.4-.5 2.6-.9 2.2-.9 1.8-1.1 1.4-1.4 1.1-1.2 .5zM239.2 4l.5 4-.2 4.2-.9 3.6-2.1 5-1.1 1.4-1.5 1.8-3.4 2.8-3 1.3-3.3 .5-4-.5-3.7-1.2-1.7-.9-1.8-1.2-1.2-1.1-1.3-1.5-2.1-4.4-1.2-4.3-.4-4.7 .5-4.8M238 44.1l-.1-.1 .1-.2 .1 .2-.1 .1zM254.2 94.5l-1.7 .1-1.7-.4-1.6-1-1.4-1.6-1.1-1.8-.9-2.6-.6-2.7-.3-3 0-3.5 .4-3.2 .6-3 .9-2.6 1.2-2 1.5-1.6 1.5-.9 1.8-.4 1.7 .2 1.5 .7 1.5 1.2 1.2 1.6 1 2 .7 2.2 .6 3 .3 3 .1 3-.3 3-.5 2.6-.9 2.4-1 2-1.3 1.6-1.4 1-1.8 .7zM196.8 118.3l-.8 .1-1-.3-1-.9-.9-1.2-1.6-3.5-.9-4.3-.3-4.2 .6-3.8 .4-1.2 .7-1.2 .8-.7 1-.4 .7 .1 1 .5 .8 .7 .9 1.2 1.2 3 .9 3.8 .3 4.2-.4 3.8-1 2.8-.7 1-.7 .5zM257.8 170.5l-1.3 0-1.3-.5-1-1-.9-1.5-.7-1.7-.6-2.3-.3-2.5-.1-2.8 .1-2.7 .4-2.5 .6-2.2 .8-2.2 .9-1.6 1.1-1.2 1.3-.7 1.2-.3 1.2 .3 1.1 .7 .9 1 1 1.7 .7 1.7 .5 2 .4 4.8-.5 5-.6 2.2-.7 2-1 1.8-1 1.2-1 .8-1.2 .5zM238.2 4l.6 4.2-.2 4-1 3.6-2.3 4.7-2.5 2.9-3 2.1-3.3 1.3-3.3 .4-3.4-.4-3.6-1.2-3-1.9-2.2-2.4-2-4.3-1.1-4-.3-4.5 .5-4.5M253.5 93.8l-1.7-.2-1.6-.6-1.2-1-1.2-1.7-1-1.8-.8-2.5-.4-2.8-.2-2.7 .1-3 .4-3 .6-2.7 .9-2.3 1.1-1.7 1.5-1.5 1.5-.8 1.5-.3 1.5 .3 1.5 .7 1.4 1.3 1.2 1.7 .9 2 .7 2.6 .5 2.7 .2 3-.1 2.7-.4 2.8-.7 2.5-.8 2-1.1 1.7-1.3 1.3-1.5 .9-1.5 .4zM196.2 116.5l-.7 0-.7-.4-1.6-1.8-1.2-3.1-.8-3.7-.1-3.3 .5-3 1-2 .6-.5 .8-.3 .8 .1 .7 .5 1.3 1.5 1.1 2.7 .7 3.3 .2 3.5-.4 3.2-.9 2.3-.5 .6-.8 .4zM257.2 169.3l-1-.2-1-.6-1-1.2-.7-1.4-.7-1.9-.4-2-.2-4.5 .5-4.5 1.3-3.7 .8-1.3 1-1 1-.6 1.2-.3 1 .3 1 .6 1 1.1 .8 1.4 .6 1.7 .5 2 .2 4.3-.5 4.5-.6 2.1-.8 1.8-.7 1.2-1 1.1-1 .7-1.3 .4zM237.2 4l.5 2 .2 2.2-.3 4-1.1 3.6-2.2 4.2-2.3 2.4-3 2-3.2 1.2-3.3 .4-3.3-.4-3-1.2-2.7-1.8-1.9-2.1-1.9-4-1.1-4-.3-4.3 .6-4.2M254 92.8l-1.5 0-1.5-.4-1.2-.8-1.3-1.4-1-1.7-.8-2.3-.5-2.4-.3-2.6 0-3 .3-2.7 .6-2.5 .8-2.2 1-1.8 1.3-1.5 1.3-.9 1.6-.4 1.4 .2 1.3 .6 1.3 1 1.2 1.6 .9 1.9 .7 2.3 .5 2.4 .2 2.6 0 2.4-.2 2.6-.5 2.2-.8 2.2-1 1.8-1 1.2-1.3 1-1.5 .6zM196.2 114.3l-.4 .1-.8-.2-1.2-1.4-1-2.3-.7-2.7-.1-2.8 .3-2.2 .8-1.8 .6-.5 .5-.2 1 .4 1.2 1.3 .8 2 .6 2.2 .2 2.8-.3 2.5-.5 1.7-1 1.1zM257.5 167.8l-1-.1-.7-.4-.9-.8-.7-1.3-1-3.2-.4-4 .4-4 1-3.3 .8-1.3 .8-.9 1-.7 1-.3 1 .2 .7 .4 .9 .9 .7 1.2 1 3.3 .3 3.7-.4 4-1.1 3.3-1.5 2.3-.9 .7-1 .3zM236.2 4l.5 2 .2 2 0 2-.3 2-1.1 3.5-2.2 4-2.3 2.2-2.8 1.7-3 1-3.2 .4-2.8-.4-2.7-1-2.5-1.7-1.9-2.2-1.8-3.7-1-3.8-.2-4 .6-4M254 91.8l-1.5 .1-1.3-.4-1.2-.8-1.1-1.2-.9-1.6-.7-1.9-.6-2.2-.3-2.6 0-2.4 .3-2.8 .6-2.5 .7-2 1-1.7 1.1-1.3 1.1-.8 1.6-.4 1.2 .1 1.2 .5 1.3 1.1 1 1.3 .9 1.7 .7 2 .4 2.2 .3 2.6 0 2.4-.3 2.3-.4 2-.7 2-.9 1.6-1 1.2-1.3 1-1.2 .5zM258 166.1l-.8 .1-.7-.2-.7-.5-.8-.9-1-2.6-.4-3.5 .2-3.5 1-3.2 .7-1.3 .7-.7 .8-.6 .8-.1 .7 .1 .7 .4 1.3 1.7 .8 2.5 .4 3-.3 3.2-.7 2.8-1.2 2.1-.7 .7-.8 .5zM235.1 4l.7 3.5-.1 3.7-.9 3.3-1.8 3.3-1.8 2.2-3 2-3.2 1.2-3.2 .4-2.8-.4-2.8-1.2-2.4-2-1.6-2.2-1.3-3-.8-3.6-.1-3.7 .6-3.5M253.8 90.8l-1.3 0-1.3-.4-1-.7-1-1.2-.9-1.5-.6-1.8-.5-2-.2-2.2 0-2.5 .3-2.3 .5-2.2 .6-1.8 .9-1.4 1-1.3 1.2-.8 1.3-.3 1.2 .1 1.2 .6 1 .9 1 1.2 .7 1.6 .7 2 .6 4.2-.3 4.2-.4 2-.7 1.8-.8 1.4-1 1.2-1 .7-1.2 .5zM257.8 164.3l-.8 0-.5-.2-.7-.6-.5-.7-.6-2-.3-2.8 .3-2.8 .7-2.2 1.1-1.6 .5-.4 .8-.1 1.2 .5 .9 1.4 .7 2 .2 2.2-.2 2.5-.7 2.3-.9 1.6-1.2 .9zM233.9 4l.8 3.2 0 3.3-.8 3.3-1.4 2.7-2 2.5-2.5 1.8-3 1.2-3.2 .4-2.8-.4-2.5-1.1-2-1.7-1.7-2.4-1.2-2.8-.7-3.2 0-3.6 .6-3.2M253 89.8l-1-.2-1-.5-1-.9-.8-1.2-.7-1.5-.5-1.7-.4-3.8 .4-4 .5-1.9 .7-1.6 .8-1.3 1-.9 1-.6 1-.2 1.2 .3 1 .6 1 1 .8 1.2 .7 1.6 .5 1.8 .4 4-.4 3.8-1.2 3.1-.8 1.1-1 1-1 .5-1.2 .3zM232.6 4l.9 3 .1 3-.6 2.8-1.3 2.7-2.5 3-1.7 1.1-3 1.2-3 .3-2.5-.4-2.5-1.2-1.6-1.5-1.6-2.5-1.1-2.7-.4-2.8 .1-3 .7-3M253.5 88.5l-1 0-1-.4-.8-.6-.8-1-1.2-2.7-.4-3.3 .3-3.7 .9-3 .7-1.3 .8-.8 1-.7 1-.2 1 .2 .8 .4 .8 .8 .7 1 1.1 2.8 .5 3.5-.3 3.3-.8 2.7-.8 1.3-.8 .8-.7 .6-1 .3zM231.3 4l.9 2.8 .2 2.7-.4 2.5-1.1 2.5-1.7 2.1-2.2 1.8-2.8 1.1-2.7 .4-2.3-.4-2-1-1.8-1.7-1.4-2.2-.9-2.4-.3-2.7 .1-2.7 .8-2.8M254 87l-1 .2-.8-.1-.7-.4-.7-.7-1.2-2.2-.6-2.8 .2-3.2 .7-2.8 .6-1.1 .7-.9 .8-.5 .8-.2 .7 0 .7 .3 1.4 1.4 .9 2 .6 2.8-.1 2.7-.6 2.5-1.1 2-1.3 1zM229.7 4l1 2.2 .4 2.6-.3 2.4-.9 2.3-1.5 2-2.2 1.7-2.2 1-2.5 .3-2-.3-1.7-1-1.8-1.6-1.2-2.1-.8-2.3-.2-2.4 .3-2.6 .8-2.2M253.8 85.5l-1.3 .1-1.3-.9-.9-1.7-.4-2.2 .1-2.6 .6-2.2 1.2-1.6 1.2-.5 1.2 .5 1 1.1 .7 1.7 .3 2 0 2-.5 2-.9 1.6-1 .7zM227.9 4l1.1 2 .5 2.2-.1 2.3-.7 2-1.2 1.8-1.7 1.4-2 .9-2.3 .3-1.7-.3-1.8-1-1.3-1.4-1-1.7-.6-2-.1-2.3 .5-2.2 .8-2" stroke="#4472c4" stroke-width="0.7" />
</g>
<g clip-path="url(#cb)" fill="none" stroke-linejoin="round">
<path d="M174.2 372.3l-6 .2-6.2-.2-2.8-.5-2.2-.8-2.5-1.5-2.3-2.2-1-1.5-1.2-2.8-1-4.2-.2-2-.3-5.3 .2-10.5 .5-3.5 1-3.5 1.3-2.5 1-1.5 1.7-1.8 1-.7 2.5-1.3 1.5-.5 2.8-.5 4.5-.2 7.7 .2 2.8 .6 3.2 1.2 2.8 2 1.2 1.5 1 1.5 1.3 2.8 .7 2.8 .5 3.4 .3 8-.2 7.8-.6 3.3-.7 2.8-.8 1.9-.9 1.7-.8 1-1.8 1.7-1.4 1-1.6 .8-2.2 .8-2.8 .5zM242.5 525l-3.5 0-2.2-.5-2.5-1.3-2.3-1.9-2-2.8-1.5-3-1-2.7-1-4.3-.7-7.3-.1-4.2 .3-2.8 .8-3.5 1.2-3.2 1.5-2.3 2.3-2 1.4-.7 1.7-.5 3.1-.1 2.8 .3 2.7 1.3 2.3 1.8 2 2.5 1.7 3.2 1.5 4.3 .8 3.6 .4 4.1 .3 5.5-.5 5.3-1 3.7-1.5 3-2.2 2.5-2.1 1.3-2.7 .7zM170.5 372l-5.7 0-3.3-.3-2.7-.6-2.6-1-2.2-1.6-1.9-2.3-1.5-2.7-.9-3-.7-5.5-.1-9 .3-5.8 .9-4.4 1.4-3.6 1-1.4 1.3-1.5 1.2-1 1.5-1 1.7-.7 1.8-.5 4.2-.5 7.8 0 3.8 .4 3 .9 2.7 1.5 2.3 2.2 1.7 2.9 1.2 3.5 .5 3 .3 3.5 0 10.7-.6 5.6-.6 2.2-.8 2.2-1.2 2-1.2 1.6-1.4 1.2-1.7 1.1-2 .9-2.2 .5-5.3 .5zM242.2 523.5l-2.7 .1-2.5-.5-2.2-1.2-2.1-1.7-1.7-2.2-1.6-3-1.3-3.5-.8-3.7-.6-5-.1-4.6 .4-4 .9-3.4 1.2-2.8 1.8-2.2 2.1-1.6 2.5-.8 3-.1 2.5 .5 2.2 1.1 2.2 1.9 1.8 2.2 1.6 3 1.3 3.5 .8 3.7 .6 5 0 4.6-.4 4-.9 3.4-1.4 3-1.8 2.2-2.2 1.4-2.6 .7zM170.2 371.5l-4.7 0-3.7-.3-2.8-.5-2.5-1.1-2.3-1.6-1.7-2-1.4-2.5-1-3.3-.6-5-.2-9 .4-6 .9-4.4 1.5-3.6 1.1-1.4 1-1.2 1.3-1 1.5-.9 3.2-1.2 4.8-.5 6.5 .1 4 .4 3.3 .9 2.7 1.7 2.1 2.1 1.6 2.8 1.1 3.5 .5 3 .3 3.5 0 10.2-.2 3-.4 2.6-.6 2.2-.8 2-1 1.8-1.3 1.6-1.6 1.3-1.7 1.1-2 .8-2 .5-5.3 .4zM242 522l-2.5 .1-2.3-.5-2.2-1.2-1.8-1.6-1.7-2.3-1.5-2.7-1.1-3.3-.8-3.5-.5-4.5 0-4 .4-3.7 .8-3 1.4-2.8 1.6-2 2-1.4 2.2-.7 2.5-.1 2.3 .5 2.2 1.2 2 1.8 1.7 2.2 1.4 2.7 1.2 3.3 .8 3.7 .4 4.3 .1 4-.4 3.5-.9 3.2-1.3 2.7-1.8 2.1-2 1.3-2.2 .7zM169.5 371l-4.5-.1-4-.4-2.2-.5-2.3-1-2-1.5-1.7-2-1.4-2.5-.9-3-.6-5.5-.2-7 .4-7 .7-4 1.3-3.3 2-2.7 2.4-1.9 1.5-.8 1.8-.6 4.7-.6 5.5-.1 5.2 .5 3 .8 2.8 1.6 2.2 2.1 1.6 2.7 1.1 3.6 .4 2.4 .3 4.3 0 9-.5 5.7-.7 2.6-.8 2-1 1.7-1.4 1.7-1.4 1.2-1.8 1-3.2 1.1-6.3 .5zM241 520.5l-2.2-.1-2-.7-1.9-1.2-1.7-1.7-1.5-2.3-1.3-2.7-.9-3-.6-3.3-.3-3.7 0-3.3 .5-3.3 .8-2.7 1.3-2.5 1.5-1.8 1.8-1.1 2-.6 2.3 0 2.2 .6 2 1.2 1.8 1.7 1.5 2.2 1.3 2.8 1.1 3.2 .6 3.6 .3 3.7-.1 3.5-.6 3.2-.9 2.8-1.3 2.2-1.7 1.8-2 1.1-2 .4zM172.8 370.3l-4 .2-4.3-.1-3.7-.5-3-.9-2-1.1-1.8-1.7-1.4-2-1-2.2-.5-1.8-.5-3-.4-6.4 .1-7.3 .8-6 1-3 1.6-2.7 2.1-2.1 2.4-1.4 4.3-.9 4.7-.3 5.6 .2 4.4 .8 2.3 .9 2.3 1.8 1.7 2.2 1.3 2.8 .6 2.2 .5 3.5 .4 7.5-.4 7.5-.5 3.5-.6 2-.8 1.9-1 1.6-1.2 1.4-1.6 1.2-1.6 .9-1.1 .4-4.7 .9zM241.5 518.8l-2 0-1.7-.4-1.8-.9-1.8-1.6-1.4-2-1.3-2.4-.9-2.7-.7-3-.3-3.3 0-3.3 .5-3 .7-2.4 1.1-2.3 1.3-1.6 1.8-1.2 1.8-.6 2 0 1.7 .5 1.7 1 1.8 1.6 1.5 2 1.1 2.3 1 2.7 .6 3 .3 3.3 0 3-.4 3-.7 2.5-1.1 2.2-1.3 1.7-1.8 1.2-1.7 .7zM172 369.8l-4 .1-3.8-.1-3.4-.6-2.8-.9-2.2-1.2-1.6-1.4-1.2-1.9-1-2.6-1-5-.4-6.2 .3-6.8 .8-5.4 1.1-3.6 1.4-2.2 1-1.1 1.3-.9 3.3-1.3 4-.9 4.7-.2 4.5 .3 4 .9 2.8 1.2 2 1.6 1.4 2.1 1.2 2.8 .7 3 .4 3.3 .3 7.2-.5 6.8-.5 3-.8 2.4-.8 1.8-.9 1.5-1.3 1.2-1 .7-1.5 .8-2 .7-4.5 .9zM241 517l-1.8 0-1.4-.4-1.6-.8-1.5-1.6-1.3-1.7-1.1-2.3-.8-2.4-.6-2.6-.2-2.7 0-2.7 .4-2.6 .7-2.2 1-2 1.2-1.6 1.5-1 1.5-.5 1.8 0 1.7 .5 1.5 .9 1.5 1.5 1.3 1.8 1 2.2 .9 2.4 .5 2.6 .2 2.7 0 2.7-.4 2.6-.7 2.2-1 2-1.2 1.5-1.5 1-1.6 .5zM171 369.3l-4 .1-3.5-.3-3.3-.8-2.7-1.1-2-1.4-1.4-1.8-1.2-2.2-.9-3-.7-5.3-.2-6.3 .5-5.7 1-4.5 1.3-3 1.9-2.3 2.4-1.7 3.6-1.2 4-.5 4.4 0 4 .5 3.6 1.1 2.4 1.5 1.8 1.8 1.3 2.6 1.1 3.2 .8 5.8 .1 7-.7 6-.6 2.4-.8 2-.8 1.6-.9 1.2-1.3 1.2-1.2 .9-3.5 1.4-4.5 .8zM241.2 515l-1.2 .2-1.5-.2-1.5-.7-1.3-1.1-1.2-1.5-1-1.8-.8-2.1-.6-2.3-.2-2.5 0-2.5 .3-2.3 .6-1.9 .8-1.8 1-1.3 1.2-.9 1.4-.5 1.6 0 1.2 .3 1.2 .7 1.4 1.2 1.1 1.5 1 1.7 .7 2 .6 2.3 .2 2.3 .1 2.2-.3 2.2-.5 2.1-.8 1.7-.9 1.4-1.3 1.1-1.3 .5zM169.2 368.8l-3.7-.1-3.5-.6-3-1-2.5-1.6-1.7-2-1.4-2.5-1-3.2-.6-4-.2-5.6 .3-5.2 .9-4.5 1.4-3.5 1.8-2.4 2.2-1.7 3.3-1.3 3.7-.7 4.3-.1 4 .5 3.3 1 2.7 1.6 2 2.1 1.3 2.5 1.1 3.5 .7 4.2 .2 5.8-.4 5.2-1 4.6-1.5 3.2-1.9 2.3-2.8 1.8-3.4 1.1-4.6 .6zM240.8 513.1l-1.3 .1-1.3-.3-1-.7-1.1-1-1-1.2-.7-1.5-.7-1.7-.4-2-.2-2 0-2 .3-1.8 .6-1.8 .6-1.2 .9-1.1 1-.7 1.3-.4 1.2 .1 1 .3 1.2 .8 1 1 1.6 2.8 1 3.4 .2 3.8-.7 3.2-.7 1.6-.8 1-1 .8-1 .5zM170.8 368l-3.8 .1-3.2-.3-3.3-.9-2.5-1.3-1.8-1.6-1.6-2.2-1.2-2.8-.7-3.2-.6-5 .1-5.3 .7-4.7 1.2-3.8 1.6-2.8 2-2 2.8-1.5 3.3-.9 3.7-.4 4 .3 3.3 .7 3 1.4 2.2 1.7 1.6 2.3 1.2 2.7 .9 3.5 .6 5.2-.2 5.6-.7 4.7-1.4 3.7-1.8 2.7-1.1 1.1-1.3 .9-3.3 1.4-3.7 .7zM240.2 510.8l-.7 .1-1-.2-1-.6-.7-.7-1.4-2.2-.8-2.7-.1-3 .7-2.7 1.1-1.8 .7-.5 1-.4 .8 0 1 .3 1.6 1.4 1.3 2.2 .7 2.5 .2 2.7-.6 2.7-.5 1.1-.7 .9-1.6 .9zM168.2 367.5l-3.4-.2-3.3-.8-2.7-1.4-2.2-1.9-1.7-2.4-1.1-3-.8-3.8-.3-4.2 .1-4.6 .7-4 1.1-3.4 1.6-2.8 1.9-2 2.7-1.5 3.2-1 3.5-.4 3.7 .2 3.6 .9 2.7 1.4 2.2 1.9 1.7 2.5 1.2 3 .8 3.8 .3 4.4-.1 4.6-.7 4-1.2 3.4-1.6 2.6-2.1 2-2.8 1.4-3.2 1-3.8 .3zM240 508l-1.2 0-1-.6-1-1.4-.5-1.8-.1-1.7 .3-1.8 .7-1.2 1-.6 1 0 1.2 .9 .8 1.3 .6 1.7 .1 1.7-.3 1.5-.6 1.2-1 .8zM169.5 366.8l-3.5-.1-3-.6-2.8-1.1-2.2-1.5-1.8-2.1-1.4-2.6-.9-3.3-.6-3.5-.1-4.2 .5-4.3 .9-3.7 1.4-3.1 1.8-2.2 2.2-1.7 3-1.3 3.2-.6 3.6 0 3.2 .6 3 1.1 2.2 1.6 1.8 2 1.5 2.8 1 3.2 .5 3.8 .1 4.5-.4 4-1 3.7-1.5 3-1.7 2-2.5 1.8-3 1.2-3.5 .6zM169.5 366l-3.3 0-3-.6-2.4-1-2.3-1.6-1.7-2-1.4-2.6-.9-3-.5-3.4-.1-4.3 .4-4 1-3.5 1.3-2.8 1.8-2.2 2.4-1.7 2.7-1.1 3-.6 3.3 0 3 .6 2.7 1.1 2.3 1.6 1.7 2.1 1.4 2.5 1 3.3 .5 3.4 .1 4.3-.4 3.7-1 3.6-1.4 2.7-1.9 2.3-2.3 1.5-2.7 1.1-3.3 .6zM169 365.3l-3-.1-2.8-.7-2.4-1.1-2.1-1.6-1.6-2-1.2-2.6-.9-3-.5-3.4 .1-4 .5-3.6 1-3.2 1.4-2.5 1.7-2 2.3-1.6 2.5-1 3-.5 3 .1 3 .7 2.5 1.2 2.1 1.6 1.6 2.2 1.3 2.6 .9 3 .4 3.4 0 3.8-.5 3.5-1.1 3.2-1.4 2.5-1.8 2-2.2 1.6-2.8 1-3 .5zM170.2 364.3l-2.7 .1-2.7-.3-2.6-.9-2.1-1.4-1.7-1.8-1.4-2.2-1-2.8-.6-3-.2-3.5 .3-3.5 .8-3.2 1.2-2.8 1.7-2.2 2-1.7 2.6-1.2 2.4-.6 2.8 0 2.8 .4 2.4 1 2 1.4 1.7 1.7 1.4 2.2 1 2.8 .6 3 .2 3.4-.3 3.6-.7 3-1.2 2.7-1.7 2.2-2 1.7-2.2 1.1-2.8 .8zM168.5 363.5l-2.5-.1-2.5-.7-2.2-1.2-1.7-1.5-1.5-2-1.1-2.5-.7-2.7-.3-3 .1-3.3 .5-3 1.1-2.7 1.3-2.3 1.8-1.8 2-1.3 2.2-.9 2.5-.3 2.5 .1 2.5 .7 2.3 1.2 1.8 1.6 1.5 2 1.1 2.4 .8 3 .3 3-.1 3.3-.6 3-.9 2.5-1.5 2.2-1.7 1.8-2 1.3-2.5 .9-2.5 .3zM170.2 362.3l-2.4 .2-2.3-.3-2.3-.8-1.8-1.2-1.5-1.4-1.3-2-1-2.3-.6-2.7-.2-3 .3-3 .7-2.8 1.1-2.5 1.5-2 1.7-1.5 2.1-1.1 2.3-.6 2.3-.1 2.2 .4 2.2 .9 1.8 1.3 1.5 1.5 1.3 1.9 .9 2.3 .6 2.7 .2 3-.3 2.8-.6 2.8-1.1 2.2-1.3 1.8-1.7 1.6-2 1.2-2.3 .7zM169.2 361.3l-2.2 0-2-.4-1.9-.9-1.6-1.2-1.5-1.8-1.1-2-.7-2.2-.4-2.6 0-2.7 .4-2.5 .8-2.2 1-2 1.5-1.8 1.7-1.3 2-.9 2-.4 2.3 .1 2 .5 1.7 .9 1.7 1.3 1.3 1.7 1.1 1.9 .7 2.2 .4 2.5 .1 2.5-.4 2.5-.8 2.5-1.1 2-1.2 1.5-1.8 1.4-2 .9-2 .5zM168 360l-1.8-.2-1.7-.6-1.6-1-1.4-1.3-1.1-1.7-.9-2-.5-2-.1-2.2 .1-2.2 .6-2.3 .8-2 1.1-1.6 1.5-1.4 1.5-.9 1.7-.6 1.8-.2 2 .2 1.8 .6 1.4 1 1.5 1.4 1.1 1.5 .8 2 .6 2.3 .2 2.2-.2 2.2-.5 2-.9 2-1 1.6-1.6 1.4-1.4 1-1.8 .6-2 .2zM169 358.3l-1.8 0-1.4-.3-1.6-.8-1.2-1-1-1.2-.8-1.5-.6-1.7-.3-1.8 0-2 .2-1.8 .7-2 .9-1.4 1.1-1.4 1.3-1 1.5-.6 1.5-.3 1.5 0 1.5 .4 1.5 .8 1.2 1 1.1 1.3 .8 1.5 .5 1.7 .3 1.8 0 2-.3 1.8-.6 1.7-.8 1.4-1 1.2-1.2 1-1.5 .8-1.5 .4zM168.8 356l-1.3 .1-1.3-.3-1-.5-.9-.8-.9-1-.6-1.3-.6-2.4-.1-1.6 .3-1.4 1.1-2.5 .7-.9 1-.8 1-.5 1.3-.3 1.3 0 1.2 .4 1 .5 1 .8 1.3 2 .5 1.3 .2 1.4-.2 2.8-1 2.4-.8 .9-1 .9-1 .5-1.2 .3z" stroke="#8a8a8a" stroke-width="0.6" />
<path d="M177.5 380.8l-3.5 .2-4.3-.5-2.7-1-1.2-.7-2-1.5-1.1-1.1-2.2-3-2.3-4.7-1.5-5.3-.9-7.1-.3-8.6 .5-10.1 .5-3.6 .7-3.6 .8-2.7 1.2-3.4 1.3-2.6 1.3-2 .7-1 2.5-2.5 2.3-1.5 1.8-.7 2-.6 2.9-.2 3.5 .2 3 1 2.5 1.8 1.3 1.2 1.5 2 1.7 3.3 1 2.5 1 3.3 1.2 6.5 .6 5 .2 8.7-.3 8-.7 6.1-1.5 6-1 2.6-1 2-2.2 3.3-2.8 2.5-2.5 1.2-2 .6zM242 521.3l-2-.1-1.7-.7-2.1-2-1-1.5-1.5-3.2-.9-3.5-.8-4.7-.1-3.4 .1-4.7 .2-2 .8-3.7 1-3.1 1.5-3 1.5-1.9 2.1-1.6 .7-.2 1.2-.1 1.2 .1 1.6 .8 2 2 1.4 2.6 1.3 3.3 .7 3 .6 3.3 .2 4.2-.5 6.8-1 4.5-1 2.7-1 2.1-1.3 1.7-1.2 1.3-2 1zM176.2 380l-4.4-.1-2-.3-1.8-.6-1.8-.9-1.4-1.1-1.6-1.3-1.2-1.5-2.3-4-1.8-4.7-1.2-5.5-.6-6.5 0-9 .5-7.5 1.2-6.8 1.9-5.4 1.2-2.6 1.2-2 1.5-1.7 1.6-1.6 1.8-1.2 1.8-.8 2.2-.6 2.2-.3 4 .2 1.8 .5 1.5 .6 1.5 1 1.2 1 2.4 2.9 2.1 4.3 1.6 5.3 1 5.4 .6 7 .1 8.8-.4 7-1 6.2-1.5 5.3-2.1 4.3-1.3 1.7-1.5 1.5-1.4 1.2-1.8 .9-1.8 .6-2 .3zM241.5 519.3l-1.7-.2-1.6-.8-1.4-1.6-1.3-2-1.1-2.7-.9-3-.5-3.5-.2-3.5 .1-3.5 .4-3.5 .8-3 1-2.8 1.2-2.2 1.5-1.7 1.4-1 1.8-.4 1.5 .3 1.5 .9 1.4 1.7 1.2 2 1 2.4 .7 3 .5 3.3 .2 3.5-.1 3.5-.4 3.3-.6 3-1 2.7-1.1 2.3-1.3 1.7-1.5 1.2-1.5 .6zM176.8 379l-2 .2-2.6-.2-2-.3-1.7-.6-1.7-.8-1.6-1-1.4-1.3-1.3-1.4-2.2-3.6-1.7-4.5-1.2-5.5-.7-6.5-.1-8.7 .6-7.6 1.2-6.4 .8-2.8 1-2.9 1-2 1.4-2.1 1.4-1.7 1.5-1.4 1.7-1.1 1.8-.9 2-.6 2.2-.2 3.8 .1 3 1 1.5 .9 1.4 1.1 2.3 2.9 2 3.9 1.5 4.8 1.1 5.7 .6 6.5 .1 8.5-.3 6.7-1 6.3-1.4 5.2-2 4.1-1.3 1.7-1.3 1.4-1.4 1.2-1.6 .8-1.7 .7-1.7 .4zM242 517l-1.5 .1-1.5-.6-1.2-1-1.3-1.7-1.1-2.3-.8-2.7-.6-3-.2-3.3 0-3.3 .4-3 .7-3 .9-2.4 1.1-2 1.3-1.6 1.3-.9 1.5-.3 1.2 .2 1.3 .8 1.3 1.4 1.1 1.8 .9 2.3 .6 2.5 .5 2.8 .2 2.7-.1 3-.3 2.7-.5 2.8-.7 2.4-1 2.1-1 1.6-1.3 1.2-1.2 .7zM176.8 378l-4 .1-2-.3-1.8-.5-1.8-.9-1.4-1-1.6-1.3-1.2-1.4-2.3-3.7-1.7-4.5-1.1-5.3-.7-6.2 0-8 .5-7 1.2-6.5 1.8-5.3 1.1-2.2 1.2-2 1.5-1.8 1.5-1.3 1.8-1.2 1.7-.8 2-.6 2-.2 3.5 .2 1.5 .4 1.5 .7 1.5 1 1.3 1.1 2.2 2.9 1.9 3.8 1.4 4.8 1 5.5 .6 6.3 .1 7.7-.4 6.5-.9 6-1.4 4.8-1.9 4-1.2 1.6-1.2 1.4-1.5 1.3-1.5 .9-1.5 .6-1.7 .4zM242 514.8l-1.2 .1-1.3-.3-1.3-1-1.1-1.6-.9-2-.7-2.2-.5-2.6-.2-2.7 0-2.7 .3-2.6 .5-2.4 .8-2.3 .9-1.7 1.2-1.5 1.3-.8 1.2-.3 1.2 .3 1 .6 1 1.1 .9 1.6 .8 1.7 .6 2.3 .6 4.7-.3 4.7-1 4.6-.8 1.8-.8 1.4-1.2 1.2-1 .6zM176.8 377l-1.8 .2-2.2-.1-1.8-.3-1.8-.5-1.4-.7-1.6-1.1-2.7-2.7-2.2-3.6-1.7-4.2-1.1-5.2-.7-6 0-7.8 .5-6.8 1.2-6 1.8-5.2 1.1-2.2 1.3-2 1.3-1.6 1.5-1.4 1.5-1 1.8-.8 1.7-.6 2-.2 3.3 .1 1.4 .5 1.6 .7 2.4 1.9 2.3 2.9 1.9 3.7 1.4 4.8 1 5.2 .6 6 .1 7.2-.4 6.3-.9 5.7-1.4 4.8-1.8 3.8-2.2 3-1.3 1.1-1.5 1-1.5 .7-1.7 .4zM241.8 512.5l-1 .2-1-.4-1-.7-1-1.4-.8-1.6-.6-1.8-.6-4.6 .3-4.4 .5-2 .6-1.9 .8-1.4 1-1.2 1-.6 1-.3 1 .3 .9 .5 .9 1 .7 1.3 1.1 3.3 .4 4-.2 4-.9 3.7-.7 1.5-.7 1.2-.7 .8-1 .5zM176.5 376l-1.7 .2-2-.1-3.3-.8-1.5-.8-1.5-1-1.4-1.3-1.3-1.4-2.1-3.6-1.6-4.2-1.1-5.2-.6-5.8 0-7 .5-6.5 1.2-5.7 1.7-5 1-2 1.3-2 1.4-1.7 1.5-1.3 1.5-1 1.7-.8 1.8-.5 1.8-.2 3 .2 2.7 1 2.5 2 2.2 3 1.8 3.7 1.4 4.6 1 5.2 .5 6 .1 6.8-.4 5.7-.9 5.3-1.4 4.4-1.8 3.8-2.3 3-1.2 1-1.5 1-1.5 .7-1.5 .3zM241.2 510.3l-.7-.1-.7-.3-.8-.8-.8-1.1-.9-2.8-.4-3.4 .3-3.3 .9-3 .7-1.2 .7-.9 .7-.5 .8-.1 .8 .2 .7 .4 1.3 1.8 .8 2.8 .4 3.2-.3 3.3-.8 3-1.1 1.9-.8 .6-.8 .3zM176.2 375l-1.7 .2-1.7-.1-1.8-.4-1.5-.6-1.5-.8-1.5-1.1-2.5-2.7-2-3.5-1.5-4.2-1-5-.5-5.6 0-6.7 .6-6 1.2-5.5 1.7-4.8 2.3-3.7 1.3-1.5 1.4-1.3 1.5-.9 1.5-.7 1.7-.5 1.8-.2 3 .3 1.5 .6 1.3 .7 2.2 2 2.1 3 1.7 3.8 1.3 4.4 .8 5 .5 5.8 0 6.2-.4 5.6-.9 4.7-1.5 4.5-1.7 3.5-2.3 2.7-2.6 1.9-2.8 .9zM241 507.8l-1-.4-1-1.4-.7-2-.2-2.5 .2-2.5 .7-2 1-1.3 1-.4 1 .4 1 1.4 .6 1.9 .2 2.5-.2 2.5-.6 1.9-1 1.5-1 .4zM175.8 374l-3.3-.1-3-.9-2.7-1.9-2.5-2.9-1.9-3.4-1.5-4.3-.9-4.7-.4-5.3 .1-6.3 .6-5.7 1.1-5 1.8-4.5 2-3.5 2.6-2.6 1.4-1 1.6-.7 1.4-.4 1.8-.2 2.8 .2 2.5 1.2 2.3 2 2.1 3 1.6 3.8 1.3 4.4 .8 5 .4 5.6 0 5.7-.5 5.3-.9 4.7-1.4 4-1.8 3.4-2.2 2.6-2.5 1.7-2.7 .8zM241 505l-.6-.2-.5-.8-.4-1.1-.1-1.4 .1-1.3 .4-1.2 .5-.8 .6-.2 .5 .2 .6 .8 .4 1.2 .1 1.3-.1 1.3-.4 1.2-.5 .8-.6 .2zM176.2 372.8l-3 .1-3-.8-2.7-1.7-2.4-2.6-1.9-3.3-1.5-4-1-4.5-.5-5 .1-6 .6-5.5 1.1-5 1.5-4.3 2.1-3.4 2.4-2.6 1.5-1.1 1.5-.7 1.5-.4 1.5-.2 2.5 .2 2.5 1.1 2.2 2 1.9 2.7 1.6 3.4 1.2 4 .9 4.8 .4 5.2 .1 5.3-.4 5-.8 4.5-1.3 4-1.7 3.5-1.9 2.5-2.4 1.9-2.6 .9zM175.5 371.8l-3-.2-2.7-1-2.5-1.8-2.1-2.6-1.7-3.2-1.4-4-.9-4.5-.3-4.7 .1-5.8 .7-5 1.1-4.5 1.6-4 2.1-3.3 2.3-2.2 1.2-.8 1.5-.7 2.7-.5 2.6 .4 2.2 1.1 2.1 2 1.9 2.9 1.4 3.4 1.2 4.2 .7 4.8 .4 5-.1 5-.5 4.4-.9 4.3-1.3 3.7-1.7 3-2 2.3-2.2 1.5-2.5 .8zM175.8 370.5l-2.8 0-2.8-.9-2.2-1.6-2.1-2.5-1.7-3-1.3-3.7-.9-4.3-.4-4.5 .1-5.2 .6-4.8 1.1-4.5 1.4-3.7 2-3.2 2.2-2.3 2.5-1.4 2.7-.6 2.3 .3 2.3 1.2 2 1.9 1.6 2.5 1.4 3.3 1.1 3.7 .8 4.6 .3 4.7 0 4.7-.4 4.3-.9 4-1.2 3.5-1.6 3-1.9 2.2-2 1.5-2.2 .8zM175.5 369.3l-2.5-.1-2.5-.9-2.3-1.6-1.8-2.2-1.7-3-1.2-3.5-.8-4-.4-4.2 .1-4.8 .6-4.5 1-4.3 1.4-3.4 1.8-3 2-2.1 2.6-1.5 2.4-.5 2.3 .3 2 1.1 1.9 1.9 1.6 2.5 1.3 3 1.1 3.7 .7 4.3 .3 4.3-.1 4.4-.4 4-.8 3.8-1.2 3.2-1.4 2.7-1.7 2.2-2 1.4-2.3 .8zM175 368l-2.2-.2-2.3-.9-2-1.5-1.9-2.4-1.5-3-1.1-3.2-.7-3.8-.2-4 .1-4.2 .6-4.3 1-3.7 1.4-3.4 1.8-2.7 2-2 2.2-1.2 2.3-.3 2 .3 2 1.2 1.7 1.9 1.5 2.4 1.2 3 1 3.5 .6 4 .2 4.3-.1 4-.5 3.7-.9 3.5-1.1 3-1.5 2.5-1.6 1.7-2 1.3-2 .5zM175.5 366.5l-2.3 0-2-.7-2-1.4-1.7-2-1.4-2.6-1.1-3-.8-3.6-.3-3.4 .1-4 .5-4 .8-3.6 1.3-3.2 1.6-2.7 1.8-1.9 2-1.2 2.2-.5 2 .3 1.8 1 1.5 1.5 1.5 2.3 1.2 2.7 .9 3.3 .6 3.4 .3 3.8-.1 3.5-.3 3.5-.7 3.2-1 3-1.4 2.6-1.5 1.8-1.8 1.3-1.7 .6zM175.5 365l-2 .1-2-.7-1.7-1.3-1.6-1.7-1.3-2.4-1.1-2.8-.7-3.2-.3-3.2 .1-3.8 .4-3.5 .8-3.5 1.1-2.8 1.6-2.5 1.7-1.9 1.7-1 2-.5 1.8 .3 1.5 .8 1.5 1.4 1.3 2 1.1 2.4 .9 3 .6 3.3 .3 3.5 0 3.2-.4 3.3-.6 3-1 2.7-1.2 2.3-1.2 1.6-1.6 1.3-1.7 .6zM175 363.5l-1.8-.1-1.7-.7-1.5-1.2-1.5-1.9-1.2-2.4-.8-2.4-.6-2.8-.2-3 .1-3.2 .5-3.3 .8-3 1-2.5 1.4-2.1 1.5-1.5 1.8-1 1.7-.3 1.5 .2 1.5 1 1.3 1.3 1.2 2 1 2.4 .7 2.8 .5 3 .2 3.2-.1 3-.4 2.8-.7 2.7-.9 2.3-1.1 1.8-1.2 1.4-1.5 1.1-1.5 .4zM175 361.8l-1.5-.1-1.5-.6-1.5-1.2-1.3-1.5-1-1.9-.7-2.3-.5-2.4-.3-2.8 .1-3 .4-2.8 .8-2.7 1-2.3 1.1-1.7 1.4-1.4 1.5-.9 1.5-.2 1.3 .2 1.3 .8 1.1 1.2 1.1 1.8 .9 2 .6 2.5 .5 2.7 .1 2.8 0 2.5-.3 2.5-.6 2.3-.8 2.2-1.1 1.7-1.1 1.3-1.3 .9-1.2 .4zM175 359.8l-1.2 0-1.4-.6-1.2-.8-1.1-1.4-.9-1.8-.7-1.9-.4-2.1-.2-2.2 .1-2.5 .3-2.5 .6-2.2 .9-2 1-1.5 1.2-1.3 1.2-.7 1.3-.2 1.3 .3 1 .6 1 1.1 .8 1.4 .7 1.7 .6 2 .5 4.8-.3 4.2-.5 2-.6 1.8-.8 1.3-1 1.3-1 .7-1.2 .5zM174.8 357.5l-1 0-1-.5-1-.8-.8-1-.8-1.3-.5-1.7-.5-3.4 .4-4 1.2-3.3 .7-1.1 1-1.1 1-.5 1-.2 1 .2 .7 .5 .8 .8 .8 1.2 1 3.2 .4 3.7-.3 3.6-.9 2.8-.8 1.3-.7 .8-.7 .5-1 .3z" stroke="#ec7a2c" stroke-width="0.7" />
<path d="M176.2 379.8l-5 .2-5-.5-3.5-1.3-1.7-.9-1.2-1-1.6-1.5-1.4-2.1-2-3.9-1.6-5-.7-4.5-.3-2.5-.2-7 .2-9.9 .8-5.9 1.5-5.8 1.3-2.9 1.4-2.5 1.6-1.9 1.7-1.7 2.3-1.4 1.7-.8 3.2-.8 5.1-.2 5 .5 1.7 .5 1.7 .8 4.3 2.6 3.2 .8 2.3 1.3 2 2 .7 1 2.1 3.7 1.5 4.3 1.2 6.2 .5 7.3-.5 7.3-1.3 6.2-1.4 4.3-1.3 2.5-1.5 2.2-2 2-3.8 2.2-4.2 3.6-2.8 1.5-1.4 .5-2.6 .5zM174.5 379.5l-5.3 0-3.7-.6-3.3-1.3-1.4-1-1.6-1.3-2.3-3.1-2-4-1.5-5-.8-5.4-.3-8.6 .2-9.7 .9-6.3 1.5-5.2 1-2.2 1.3-2.3 1.5-2 1.5-1.6 1.8-1.2 2-1 2.2-.8 2.3-.3 6-.1 2.3 .2 2 .5 2.2 .9 4.5 2.5 1.4 .4 3.1 1.7 1.2 .9 1.3 1.2 1.3 1.7 2.1 4.3 1.6 5.2 .9 6 .2 7-.3 3.5-.4 3.5-.7 3.2-1 3-1.1 2.8-1.2 2.2-1.4 2-1.5 1.5-2.5 2.1-6 4.3-1.7 1-2 .7-2 .5-2.3 .2zM175.2 379l-5.2 .1-4-.5-3.2-1.2-1.6-1-1.4-1.2-2.5-3-2-3.7-1.4-4.5-.9-5.5-.5-8.5 .3-10.2 .9-6.3 1.5-5.3 .9-2.2 1.3-2.2 1.6-2 1.5-1.5 1.7-1.3 1.8-.9 2-.6 2.5-.5 5.7-.1 2.6 .3 2 .5 1.7 .6 2.7 1.5 3 1.2 4.8 3.3 1.2 1.2 1.2 1.5 2.1 4 1.4 4.8 1 5.4 .3 7-.6 6.8-.7 3.2-.8 3-1.1 2.8-1.1 2.2-2.1 2.9-3.7 3.7-2.1 1.6-4 2.5-1.8 .9-2.2 .8-2.8 .4zM175.8 378.5l-5 .2-4.3-.5-3.3-1.1-2.8-1.9-2.5-2.7-2-3.5-1.6-4.5-1-5.3-.5-8.2 .2-10.2 .8-6.6 1.5-5.4 1.1-2.6 1.1-2 1.5-1.9 1.5-1.5 1.7-1.3 2-1 2-.6 2.3-.4 4.7-.1 4 .4 2.6 .7 3.4 1.7 1.8 .4 1.2 .6 5.3 4.5 1.3 1.5 1 1.6 1.2 2.4 1.1 3 .8 3.3 .5 3.5 .4 6.8-.5 6.4-.6 3.3-.8 2.7-1 2.8-1.1 2.3-1.8 2.5-4.5 5.2-1 .8-2 .9-2.5 1.7-1.8 1-2.2 .7-2.2 .4zM172.8 378.3l-4.8-.3-2-.4-2-.7-1.5-.7-1.5-1-1.3-1.2-1.3-1.5-1.2-1.7-1-2-1.5-4.3-1.1-5.5-.4-6.5 0-8.7 .6-7.3 1.1-5.3 1.8-4.7 1.1-2 1.3-1.7 1.5-1.6 1.6-1.2 1.8-.8 2.2-.8 2-.4 2.6-.2 3.4 .1 3 .4 2.8 .9 3.2 1.5 2.3 .3 5.8 5.5 1.2 1.5 1.1 1.8 1.9 4.4 1.3 5.6 .5 5.7 0 4-.4 4-.7 4-1 3.3-1 2.4-1.2 2-5.1 7-1.1 1.2-2.3 .9-2.7 1.8-1.8 .8-3.5 1-3.7 .4zM173.8 377.8l-4.8-.1-3.8-.9-1.7-.7-1.7-.9-1.3-1-1.3-1.2-2.2-3.2-1.6-4-1.2-5.3-.6-6-.2-8.7 .5-7.3 1-6 .9-2.9 .8-2.1 1.1-2 1.1-1.7 1.4-1.6 1.6-1.2 2-1.1 2-.8 2.2-.5 2.2-.3 3.8 0 3 .5 2.2 .6 3.8 1.7 2.5 .2 .7 .6 5.6 6.3 1.2 1.7 1 1.9 1 2.7 .9 3 .6 3.3 .3 3.4 .1 4-.3 3.8-.6 3.8-.9 3.4-.9 2.4-1 2.2-5 7.7-1.2 1.5-2.8 1-4.2 2.4-3 .9-3.2 .5zM174.2 377.3l-4.7-.1-3.7-.7-1.8-.7-1.8-1-1.4-1.1-1.3-1.2-2.1-3-1.6-3.7-1.2-5-.7-5.8-.2-8.2 .4-7.6 1.1-6.2 1.6-5 1.1-2 1.2-1.8 1.3-1.4 1.6-1.3 1.8-1 2-.9 2-.5 2.2-.3 3.8 0 3 .4 2.2 .7 3.2 1.5 2.8 .2 1.8 1.1 5.2 7.1 1.7 3 .9 2.2 .8 2.8 .9 6 .1 3.7-.2 3.7-.5 3.6-.8 3.2-1.6 4.2-5 8.8-2.1 1.9-2.7 .9-3.7 2.1-2.8 .9-2.8 .5zM174.2 376.8l-4.4 0-2.3-.4-1.7-.5-3.3-1.5-1.5-1.2-1.2-1.2-1.2-1.5-1-1.7-1.7-4-1.1-4.8-.6-5.8-.2-8 .4-6.7 1.1-6 1.6-5 1.1-2 1.2-1.7 1.4-1.6 1.4-1.2 1.8-1.1 2-.8 2-.5 2.2-.3 3.8 0 3.2 .6 2 .7 2.8 1.3 2.4 .1 3.1 2.1 4.7 7.1 1.5 3 1.4 4.8 .7 5.2 .1 3.3-.2 3.3-.4 3-.6 3-1.5 4-4.2 8.6-1.7 1.8-1.7 1.6-2.4 .6-3 1.7-1.7 .8-2 .5-2.3 .4zM174.5 376.3l-4.5 0-3.8-.7-3.2-1.6-2.8-2.3-2.1-2.9-1.7-4-1.3-5-.6-5.6-.2-7.4 .4-6.8 1.1-6.2 1.6-4.8 1-2 1.2-1.8 1.4-1.5 1.5-1.2 1.7-1.1 1.8-.7 2-.6 2.2-.3 3 0 2.6 .3 2.7 .7 3.3 1.6 2.2 0 2 1.3 1.9 1.5 .9 1.1 .8 1.5 3.7 7.4 1.2 4.3 .7 4.5 0 5.8-.8 5.4-1.3 4-3.6 8.6-2.2 2.7-2.3 2-2 .4-3 1.7-1.8 .8-3.7 .9zM174.5 375.8l-4.3 0-3.7-.7-3.3-1.5-2.7-2.4-2.1-3-1.7-4-1.2-4.7-.7-5.3-.2-7.4 .5-6.8 1-5.8 1.6-4.7 1-2 1.2-1.7 1.3-1.5 1.6-1.3 1.7-1.1 1.7-.8 2-.5 2-.3 3.8 0 3.2 .7 4.3 1.9 1.7 0 1 .5 1.6 .9 1.7 1.5 2 2.4 3.1 7.3 1.3 4.3 .7 4.4 0 5-.7 5-.8 3-2.2 6.8-1.2 2.5-2.7 3.5-1 1-1.4 1-2.1 .5-2.7 1.7-1.8 .7-3.5 .9zM174.2 375.3l-4 0-3.4-.7-3.3-1.5-1.5-1.1-1.2-1.3-2.1-2.9-1.8-4-1.1-4.6-.7-5.7-.2-7 .5-6.5 1-5.5 1.7-4.7 1.1-2 1.2-1.8 1.4-1.5 1.4-1.2 1.6-.9 1.7-.8 2-.5 2-.3 3.5 .1 3.2 .6 4 1.9 1.6 .1 .7 .3 2.3 1.3 1.2 1.1 2.5 3 1.1 2.3 2.4 7.7 .6 2.8 .3 2.8 0 5-.8 5-2.1 7.9-2.1 3.8-2.1 2.7-2.8 2.4-1.8 .4-2.4 1.5-1.8 .9-1.8 .5-2 .4zM174 374.8l-4 0-3.5-.8-3-1.6-1.5-1.2-1.2-1.3-2.1-3.1-1.6-3.8-1.1-5-.6-5.2-.1-7 .5-6.3 1.1-5.3 1.7-4.4 2.2-3.4 1.2-1.3 1.5-1.3 1.5-.9 1.8-.8 2-.5 2-.3 3.4 .1 3.3 .8 3.3 1.6 1.4 .3 1 .4 2.3 1.4 1.7 1.5 2.3 3.1 1.5 3.1 1.4 5.9 .8 5.5 0 3.2-.3 3.3-1.3 8-1.2 3-1.6 3.2-2.5 3.1-2.8 2.3-1.5 .4-2.5 1.5-1.7 .9-1.8 .5-2 .4zM173.8 374.3l-4-.1-3.3-.8-3-1.7-2.6-2.5-2.1-3.2-1.5-3.8-1.1-5-.5-5.2-.1-6.5 .6-6 1.2-5.3 1.6-4.2 2.2-3.4 1.3-1.3 1.5-1.1 1.5-.9 1.7-.7 1.8-.5 2-.2 3.5 .1 3 .8 3 1.6 1.5 .3 .8 .4 2.2 1.4 1.8 1.6 1.4 1.7 .9 1.4 2.1 4.6 .7 3.4 .6 5.3 0 6-.7 6.3-1.6 4.5-1.9 3.7-2.3 3.1-3 2.5-1.3 .4-2.5 1.6-1.7 .8-1.7 .5-2 .4zM173.2 373.8l-3.7-.2-3.3-.9-2.8-1.7-2.4-2.5-2.1-3.5-1.5-4-1-4.8-.4-5.2 0-6.5 .7-5.5 1.2-5 1.7-4 2.2-3.1 1.2-1.2 1.5-1.2 1.5-.8 1.8-.7 3.4-.6 3.3 .2 3 .8 2.9 1.6 1.1 .2 .7 .4 2.3 1.5 1.8 1.7 2.4 3.2 1.8 4 1.2 4.8 .4 4.2-.1 6.4-.7 4.1-1.5 5-1.1 2.5-1.2 2-2.2 2.8-2.8 2.4-1.1 .3-2.4 1.6-1.8 .8-2 .6-2 .3zM174.8 373l-3.8 .2-3.2-.6-3-1.4-2.7-2.2-2.2-3-1.6-3.5-1.2-4.5-.6-5-.2-6.5 .5-5.7 1-5 1.6-4.3 2.1-3.4 2.6-2.6 1.4-.9 1.7-.8 1.8-.5 1.8-.3 3.2 .1 3 .8 3.2 1.7 1.3 .4 2.2 1.5 1.8 1.6 2.2 2.9 1.8 3.5 1.2 4 .7 4.7 0 5.3-.7 5.3-1.3 4.7-2 4.3-2.2 3-3 2.8-1.2 .5-3.2 2-3 .9zM174.2 372.5l-3.4 .1-3.3-.7-3-1.5-2.3-2.2-2.1-3-1.5-3.4-1.2-4.6-.6-5-.1-6 .5-5.4 1-4.8 1.6-4.2 2-3.3 1.2-1.3 1.5-1.3 3-1.6 1.7-.5 1.8-.2 3.2 .1 3 .9 2.8 1.5 1.2 .5 2 1.5 1.8 1.7 2.1 2.7 1.8 3.7 1.2 4.3 .5 4.3 0 5.2-.7 5-1.3 4.5-1.9 4-2.1 3-2.7 2.5-4.4 2.5-3.3 1zM173.5 372l-3.5 0-3-.9-2.8-1.6-2.4-2.5-1.8-3-1.4-3.8-1-4.2-.5-5 0-5.8 .6-5 1.1-4.7 1.6-3.7 2.1-3.2 2.5-2.3 1.5-.9 1.5-.6 3.2-.6 3.3 .2 2.7 .9 3.8 2 1.9 1.5 1.8 1.7 1.9 2.7 1.7 3.8 1 4 .6 4.5-.1 5-.7 4.7-1.2 4.3-2 4-2 2.7-2.4 2.3-4.5 2.6-1.8 .6-1.7 .3zM174.2 371.3l-3.2 .2-3-.7-2.8-1.3-2.4-2.3-2.1-3-1.5-3.4-1.1-4-.6-4.8-.1-5.5 .5-5 1-4.7 1.5-4 2.1-3.3 2.5-2.4 2.8-1.6 1.4-.4 1.8-.3 3 .1 3 1 3.5 1.8 3.3 2.9 2.1 2.9 1.5 3.3 1.1 3.7 .5 4.3 .1 5-.5 4.4-1.1 4.3-1.7 3.7-2 3-2.6 2.7-4 2.4-3 1zM173.5 370.8l-3 0-3-.8-2.7-1.7-2.3-2.3-1.9-3-1.3-3.5-1-4-.4-4.7 0-5.3 .5-4.7 1.2-4.6 1.6-3.7 2-3 2.6-2.2 2.7-1.3 3-.6 3 .3 2.7 1 3.3 1.9 1.7 1.5 1.5 1.7 1.8 2.7 1.4 3.3 1 3.7 .4 4.5 0 4.8-.6 4.4-1.1 3.8-1.7 3.5-2 2.7-2.1 2.2-4 2.5-1.6 .5-1.7 .4zM174 370l-3 .2-2.8-.6-2.7-1.5-2.3-2.1-1.8-2.8-1.5-3.4-1.1-4-.5-4.6 0-5.2 .5-4.8 1-4.2 1.5-3.5 1.9-3 2.3-2.2 2.7-1.5 3-.7 3 .2 2.6 .9 3.2 1.9 2.8 2.6 1.9 2.8 1.5 3.3 .9 3.4 .5 4 0 4.8-.5 4.2-.9 3.8-1.5 3.5-1.8 2.7-2.4 2.6-3.5 2.2-3 1zM173 369.5l-3-.1-2.8-1-2.4-1.6-2-2.3-1.7-3-1.3-3.5-.8-3.8-.3-4.4 .1-4.8 .6-4.5 1-3.7 1.6-3.6 2-2.7 2.2-2 2.8-1.3 2.8-.4 2.7 .3 2.5 1 2.8 1.7 2.8 3 1.8 2.7 1.4 3.5 .8 3.8 .4 4-.1 4.2-.6 4-1.1 3.8-1.6 3.2-1.6 2.2-1.8 1.9-3.7 2.4-1.7 .7-1.8 .3zM173.2 368.8l-2.7-.1-2.7-.8-2.3-1.4-2.1-2.3-1.7-2.7-1.3-3.3-.8-3.7-.5-4.3 .1-4.4 .5-4.3 .9-3.7 1.5-3.6 1.9-2.7 2.2-2.1 2.6-1.3 2.7-.6 2.5 .2 2.5 .9 3 1.9 2.4 2.5 1.8 2.8 1.3 3.2 .9 3.5 .4 4-.1 4.5-.5 3.8-1 3.4-1.6 3.3-1.4 2-1.7 1.9-3.5 2.4-1.5 .6-1.8 .4zM173.5 368l-2.7 0-2.6-.6-2.2-1.4-2-2-1.8-2.8-1.3-3.2-.9-3.5-.4-4 0-4.5 .5-4.2 1-3.8 1.4-3.2 1.9-2.8 2.1-1.9 2.5-1.3 2.5-.5 2.5 .2 2.2 .8 3 1.9 2 2.2 1.9 2.8 1.3 3 .8 3.3 .4 3.7 0 4-.4 3.8-1 3.5-1.3 3-1.5 2.3-1.6 1.9-3.3 2.3-1.5 .6-1.5 .4zM173.2 367.3l-2.4 0-2.6-.8-2.2-1.4-1.8-1.9-1.6-2.4-1.3-3.3-.8-3.5-.4-3.8 0-4.2 .5-4 1-3.8 1.3-3 1.9-2.6 2-1.8 2.2-1.2 2.5-.5 2.5 .2 2.2 .8 2.8 1.9 1.8 2 1.8 2.8 1.2 3 .8 3.2 .4 3.8-.1 4-.5 3.4-.9 3.3-1.4 3-2.1 2.9-2.2 1.9-2.3 1.4-2.3 .6zM173 366.5l-2.5-.1-2.3-.7-2.1-1.5-1.8-2-1.5-2.4-1.1-3-.8-3.6-.3-3.4 0-4 .6-3.8 .9-3.2 1.3-3 1.6-2.4 2-1.9 2.2-1.2 2.6-.4 2.2 .2 2.2 .9 2.6 1.8 1.8 2.2 1.5 2.5 1.2 3 .7 3.3 .4 3.4-.1 3.6-.6 3.4-.9 3-1.4 3-2 2.8-2.2 1.8-2 1.1-2.2 .6zM173.8 365.5l-2.3 .2-2.3-.5-2-1-2-1.9-1.5-2.3-1.2-2.8-.9-3.2-.5-3.5 0-3.7 .4-3.8 .9-3.2 1.2-3 1.6-2.6 1.8-1.7 2.2-1.3 2.3-.4 2.3 .1 2 .8 2.7 2 1.3 1.4 1.5 2.4 1.1 2.7 .8 3 .4 3.3 .1 3.3-.4 3.2-.8 3-1.1 2.8-1.2 1.9-1.2 1.6-2.8 2.2-2.4 1zM173 364.8l-2.2-.1-2-.6-2-1.3-1.6-1.8-1.4-2.2-1.1-2.8-.7-3.2-.3-3.3 0-3.5 .5-3.2 .8-3 1.3-2.8 1.5-2.1 1.7-1.7 2-1.1 2.3-.4 2 .2 2 .8 2.4 1.9 1.3 1.5 1.4 2.4 1 2.5 .7 3 .4 3.2-.1 3.3-.4 3-.9 3-1.2 2.5-1.6 2.4-2 1.7-1.8 1.1-2 .6zM173 363.8l-2 0-2-.6-1.8-1.2-1.6-1.8-1.4-2.2-.9-2.5-.7-3-.3-3 0-3.3 .5-3.2 .8-2.8 1.2-2.5 1.4-2.2 1.7-1.5 1.9-1 2-.3 2 .2 1.7 .7 2.5 2 .9 1.2 1.4 2.2 1 2.5 .6 2.7 .4 3-.1 3-.4 2.8-.8 2.8-1.1 2.4-1.4 2.2-2 1.8-1.7 1.1-1.8 .5zM172.8 362.8l-2-.1-1.8-.6-1.5-1.1-1.5-1.6-1.2-2.1-1-2.3-.6-2.8-.3-3 .1-3 .4-2.7 .8-2.7 1-2.4 1.4-1.9 1.6-1.5 1.8-.9 1.8-.4 1.7 .2 1.7 .7 1.8 1.4 1.5 1.7 1.2 2.1 1 2.4 .5 2.6 .3 2.7-.1 2.7-.4 2.8-.7 2.5-1.1 2.3-1 1.5-2 1.9-1.7 1.1-1.7 .5zM173.2 361.5l-1.7 .2-1.7-.5-1.6-.9-1.4-1.4-1.3-1.9-.9-2.2-.6-2.6-.3-2.4 0-2.8 .3-2.8 .8-2.6 1-2.3 1.2-1.8 1.5-1.4 1.5-.8 1.8-.4 1.4 .1 1.6 .6 1.4 1.1 1.6 1.6 1.1 1.9 .9 2.1 .6 2.5 .3 2.4 0 2.6-.4 2.4-.6 2.3-.8 2-.9 1.5-1.8 1.9-1.4 1.1-1.6 .5zM173.2 360.3l-1.4 .1-1.6-.3-1.4-.8-1.4-1.3-1.2-1.7-.8-1.8-.6-2.3-.3-2.4 0-2.6 .3-2.4 .6-2.3 .8-2.1 1.2-1.6 1.4-1.4 1.4-.9 1.6-.3 1.4 .2 1.6 .6 1.2 1 1.5 1.8 .9 1.7 .7 1.7 .7 4 0 2.3-.3 2.3-.5 2-.8 2-.8 1.2-1.5 1.8-1.4 1-1.3 .5zM173.2 358.8l-1.4 .1-1.3-.2-1.3-.7-1.2-1.1-1-1.5-.8-1.6-.5-2-.3-2 0-2.3 .3-2.3 .5-2 .7-1.7 1-1.5 1.1-1.1 1.2-.8 1.6-.4 1.2 .1 1.2 .5 1.2 .9 1.1 1.3 .8 1.3 .8 1.7 .7 3.7 0 2-.2 2-1.1 3.5-2 2.7-1 .8-1.3 .6zM173 357l-1.2 .2-1-.2-1-.6-1-.9-.8-1-.8-1.6-.4-1.7-.3-1.7 .2-3.5 .4-1.8 .7-1.4 .7-1.3 1-1 1-.6 1.3-.4 1 .1 1 .4 1 .7 .7 .8 1.5 2.8 .6 3.2-.1 3.3-1 2.7-1.5 2.3-1 .8-1 .4zM172.5 354.8l-1.2 0-.6-.3-1-.7-1.2-2.2-.5-2.6 .2-2.9 1-2.3 1.3-1.4 1.5-.4 1.5 .4 1.3 1.3 .7 1.6 .5 2.7-.2 2.8-.6 1.5-1.2 1.7-1.5 .8z" stroke="#4472c4" stroke-width="0.7" />
</g>
<line x1="70" y1="4.5" x2="327.6" y2="4.5" stroke="#555" stroke-width="1"/>
<line x1="327.6" y1="4.5" x2="327.6" y2="261.7" stroke="#555" stroke-width="1"/>
<line x1="70" y1="4.5" x2="70" y2="261.7" stroke="#555" stroke-width="1"/>
<line x1="70" y1="261.7" x2="327.6" y2="261.7" stroke="#555" stroke-width="1"/>
<path d="M65 10.93H70M65 17.36H70M65 23.79H70M65 30.22H70M60 36.65H70M65 43.08H70M65 49.51H70M65 55.94H70M65 62.37H70M60 68.8H70M65 75.23H70M65 81.66H70M65 88.09H70M65 94.52H70M60 100.95H70M65 107.38H70M65 113.81H70M65 120.24H70M65 126.67H70M60 133.1H70M65 139.53H70M65 145.96H70M65 152.39H70M65 158.82H70M60 165.25H70M65 171.68H70M65 178.11H70M65 184.54H70M65 190.97H70M60 197.4H70M65 203.83H70M65 210.26H70M65 216.69H70M65 223.12H70M60 229.55H70M65 235.98H70M65 242.41H70M65 248.84H70M65 255.27H70M75.15 261.7V266.7M80.3 261.7V266.7M85.46 261.7V266.7M90.61 261.7V266.7M95.76 261.7V271.7M100.91 261.7V266.7M106.06 261.7V266.7M111.22 261.7V266.7M116.37 261.7V266.7M121.52 261.7V271.7M126.67 261.7V266.7M131.82 261.7V266.7M136.98 261.7V266.7M142.13 261.7V266.7M147.28 261.7V271.7M152.43 261.7V266.7M157.58 261.7V266.7M162.74 261.7V266.7M167.89 261.7V266.7M173.04 261.7V271.7M178.19 261.7V266.7M183.34 261.7V266.7M188.5 261.7V266.7M193.65 261.7V266.7M198.8 261.7V271.7M203.95 261.7V266.7M209.1 261.7V266.7M214.26 261.7V266.7M219.41 261.7V266.7M224.56 261.7V271.7M229.71 261.7V266.7M234.86 261.7V266.7M240.02 261.7V266.7M245.17 261.7V266.7M250.32 261.7V271.7M255.47 261.7V266.7M260.62 261.7V266.7M265.78 261.7V266.7M270.93 261.7V266.7M276.08 261.7V271.7M281.23 261.7V266.7M286.38 261.7V266.7M291.54 261.7V266.7M296.69 261.7V266.7M301.84 261.7V271.7M306.99 261.7V266.7M312.14 261.7V266.7M317.3 261.7V266.7M322.45 261.7V266.7" stroke="#555" stroke-width="1" fill="none"/>
<text x="56" y="40.95" text-anchor="end" font-weight="bold" font-size="12.3" fill="#111">122.5</text>
<text x="56" y="73.1" text-anchor="end" font-weight="bold" font-size="12.3" fill="#111">123.0</text>
<text x="56" y="105.25" text-anchor="end" font-weight="bold" font-size="12.3" fill="#111">123.5</text>
<text x="56" y="137.4" text-anchor="end" font-weight="bold" font-size="12.3" fill="#111">124.0</text>
<text x="56" y="169.55" text-anchor="end" font-weight="bold" font-size="12.3" fill="#111">124.5</text>
<text x="56" y="201.7" text-anchor="end" font-weight="bold" font-size="12.3" fill="#111">125.0</text>
<text x="56" y="233.85" text-anchor="end" font-weight="bold" font-size="12.3" fill="#111">125.5</text>
<text x="121.52" y="284.7" text-anchor="middle" font-weight="bold" font-size="12.3" fill="#111">8.60</text>
<text x="173.04" y="284.7" text-anchor="middle" font-weight="bold" font-size="12.3" fill="#111">8.50</text>
<text x="224.56" y="284.7" text-anchor="middle" font-weight="bold" font-size="12.3" fill="#111">8.40</text>
<text x="276.08" y="284.7" text-anchor="middle" font-weight="bold" font-size="12.3" fill="#111">8.30</text>
<line x1="70" y1="293.4" x2="327.6" y2="293.4" stroke="#555" stroke-width="1"/>
<line x1="327.6" y1="293.4" x2="327.6" y2="551.1" stroke="#555" stroke-width="1"/>
<line x1="70" y1="293.4" x2="70" y2="551.1" stroke="#555" stroke-width="1"/>
<line x1="70" y1="551.1" x2="327.6" y2="551.1" stroke="#555" stroke-width="1"/>
<path d="M65 299.84H70M65 306.29H70M65 312.73H70M65 319.17H70M60 325.61H70M65 332.05H70M65 338.5H70M65 344.94H70M65 351.38H70M60 357.82H70M65 364.27H70M65 370.71H70M65 377.15H70M65 383.6H70M60 390.04H70M65 396.48H70M65 402.92H70M65 409.36H70M65 415.81H70M60 422.25H70M65 428.69H70M65 435.14H70M65 441.58H70M65 448.02H70M60 454.46H70M65 460.9H70M65 467.35H70M65 473.79H70M65 480.23H70M60 486.68H70M65 493.12H70M65 499.56H70M65 506H70M65 512.45H70M60 518.89H70M65 525.33H70M65 531.77H70M65 538.21H70M65 544.66H70M75.15 551.1V556.1M80.3 551.1V556.1M85.46 551.1V556.1M90.61 551.1V556.1M95.76 551.1V561.1M100.91 551.1V556.1M106.06 551.1V556.1M111.22 551.1V556.1M116.37 551.1V556.1M121.52 551.1V561.1M126.67 551.1V556.1M131.82 551.1V556.1M136.98 551.1V556.1M142.13 551.1V556.1M147.28 551.1V561.1M152.43 551.1V556.1M157.58 551.1V556.1M162.74 551.1V556.1M167.89 551.1V556.1M173.04 551.1V561.1M178.19 551.1V556.1M183.34 551.1V556.1M188.5 551.1V556.1M193.65 551.1V556.1M198.8 551.1V561.1M203.95 551.1V556.1M209.1 551.1V556.1M214.26 551.1V556.1M219.41 551.1V556.1M224.56 551.1V561.1M229.71 551.1V556.1M234.86 551.1V556.1M240.02 551.1V556.1M245.17 551.1V556.1M250.32 551.1V561.1M255.47 551.1V556.1M260.62 551.1V556.1M265.78 551.1V556.1M270.93 551.1V556.1M276.08 551.1V561.1M281.23 551.1V556.1M286.38 551.1V556.1M291.54 551.1V556.1M296.69 551.1V556.1M301.84 551.1V561.1M306.99 551.1V556.1M312.14 551.1V556.1M317.3 551.1V556.1M322.45 551.1V556.1" stroke="#555" stroke-width="1" fill="none"/>
<text x="56" y="329.91" text-anchor="end" font-weight="bold" font-size="12.3" fill="#111">117.5</text>
<text x="56" y="362.12" text-anchor="end" font-weight="bold" font-size="12.3" fill="#111">118.0</text>
<text x="56" y="394.34" text-anchor="end" font-weight="bold" font-size="12.3" fill="#111">118.5</text>
<text x="56" y="426.55" text-anchor="end" font-weight="bold" font-size="12.3" fill="#111">119.0</text>
<text x="56" y="458.76" text-anchor="end" font-weight="bold" font-size="12.3" fill="#111">119.5</text>
<text x="56" y="490.98" text-anchor="end" font-weight="bold" font-size="12.3" fill="#111">120.0</text>
<text x="56" y="523.19" text-anchor="end" font-weight="bold" font-size="12.3" fill="#111">120.5</text>
<text x="121.52" y="574.1" text-anchor="middle" font-weight="bold" font-size="12.3" fill="#111">6.90</text>
<text x="173.04" y="574.1" text-anchor="middle" font-weight="bold" font-size="12.3" fill="#111">6.90</text>
<text x="224.56" y="574.1" text-anchor="middle" font-weight="bold" font-size="12.3" fill="#111">6.70</text>
<text x="276.08" y="574.1" text-anchor="middle" font-weight="bold" font-size="12.3" fill="#111">6.60</text>
<rect x="421.5" y="80.82" width="47.7" height="141.68" fill="#F08C00" stroke="#222" stroke-width="0.8"/>
<rect x="469.2" y="68.75" width="47.7" height="153.75" fill="#1A7AC0" stroke="#222" stroke-width="0.8"/>
<rect x="565" y="115.6" width="47.7" height="106.9" fill="#F08C00" stroke="#222" stroke-width="0.8"/>
<rect x="612.8" y="186.6" width="47.7" height="35.9" fill="#1A7AC0" stroke="#222" stroke-width="0.8"/>
<path d="M398.5 61.5V222.5M392.4 222.5H685" stroke="#333" stroke-width="1" fill="none"/>
<path d="M392.4 222.5H398.5M392.4 190.3H398.5M392.4 158.1H398.5M392.4 125.9H398.5M392.4 93.7H398.5M392.4 61.5H398.5M541.5 222.5V227.5" stroke="#333" stroke-width="1" fill="none"/>
<text x="391.2" y="225.7" text-anchor="end" font-weight="bold" font-size="9.2" fill="#222">0.0</text>
<text x="391.2" y="193.5" text-anchor="end" font-weight="bold" font-size="9.2" fill="#222">0.2</text>
<text x="391.2" y="161.3" text-anchor="end" font-weight="bold" font-size="9.2" fill="#222">0.4</text>
<text x="391.2" y="129.1" text-anchor="end" font-weight="bold" font-size="9.2" fill="#222">0.6</text>
<text x="391.2" y="96.9" text-anchor="end" font-weight="bold" font-size="9.2" fill="#222">0.8</text>
<text x="391.2" y="64.7" text-anchor="end" font-weight="bold" font-size="9.2" fill="#222">1.0</text>
<text x="469.2" y="238.4" text-anchor="middle" font-weight="bold" font-size="11.8" fill="#222">L40</text>
<text x="612.8" y="238.4" text-anchor="middle" font-weight="bold" font-size="11.8" fill="#222">K54</text>
<line x1="443.5" y1="244.3" x2="639.1" y2="244.3" stroke="#222" stroke-width="1"/>
<text x="541.2" y="260.4" text-anchor="middle" font-weight="bold" font-size="11.8" fill="#222">FGF2 residues</text>
<text transform="translate(372.6 142.6) rotate(-90)" text-anchor="middle" font-size="19.5" fill="#111" textLength="71" lengthAdjust="spacingAndGlyphs">SN ratio</text>
<rect x="421.5" y="388.67" width="47.7" height="113.83" fill="#F08C00" stroke="#222" stroke-width="0.8"/>
<rect x="469.2" y="437.46" width="47.7" height="65.04" fill="#1A7AC0" stroke="#222" stroke-width="0.8"/>
<rect x="565" y="369.68" width="47.7" height="132.82" fill="#F08C00" stroke="#222" stroke-width="0.8"/>
<rect x="612.8" y="389.8" width="47.7" height="112.7" fill="#1A7AC0" stroke="#222" stroke-width="0.8"/>
<path d="M398.5 341.5V502.5M392.4 502.5H685" stroke="#333" stroke-width="1" fill="none"/>
<path d="M392.4 502.5H398.5M392.4 470.3H398.5M392.4 438.1H398.5M392.4 405.9H398.5M392.4 373.7H398.5M392.4 341.5H398.5M541.5 502.5V507.5" stroke="#333" stroke-width="1" fill="none"/>
<text x="391.2" y="505.7" text-anchor="end" font-weight="bold" font-size="9.2" fill="#222">0.0</text>
<text x="391.2" y="473.5" text-anchor="end" font-weight="bold" font-size="9.2" fill="#222">0.2</text>
<text x="391.2" y="441.3" text-anchor="end" font-weight="bold" font-size="9.2" fill="#222">0.4</text>
<text x="391.2" y="409.1" text-anchor="end" font-weight="bold" font-size="9.2" fill="#222">0.6</text>
<text x="391.2" y="376.9" text-anchor="end" font-weight="bold" font-size="9.2" fill="#222">0.8</text>
<text x="391.2" y="344.7" text-anchor="end" font-weight="bold" font-size="9.2" fill="#222">1.0</text>
<text x="469.2" y="518.4" text-anchor="middle" font-weight="bold" font-size="11.8" fill="#222">K60</text>
<text x="612.8" y="518.4" text-anchor="middle" font-weight="bold" font-size="11.8" fill="#222">Q142</text>
<line x1="443.5" y1="524.3" x2="639.1" y2="524.3" stroke="#222" stroke-width="1"/>
<text x="541.2" y="540.4" text-anchor="middle" font-weight="bold" font-size="11.8" fill="#222">FGF2 residues</text>
<text transform="translate(372.6 422.6) rotate(-90)" text-anchor="middle" font-size="19.5" fill="#111" textLength="71" lengthAdjust="spacingAndGlyphs">SN ratio</text>
<text x="0.2" y="20.6" font-size="31" fill="#111" stroke="#111" stroke-width="0.5">A</text>
<text x="355" y="20.8" font-size="31" fill="#111" stroke="#111" stroke-width="0.5" textLength="16" lengthAdjust="spacingAndGlyphs">B</text>
<text transform="translate(14.8 116.3) rotate(-90)" text-anchor="middle" font-size="19.5" fill="#111" textLength="53" lengthAdjust="spacingAndGlyphs">(ppm)</text>
<text transform="translate(14.8 155.8) rotate(-90)" text-anchor="middle" font-size="19.5" fill="#111" >N</text>
<text transform="translate(8.7 169.5) rotate(-90)" text-anchor="middle" font-size="10.2" fill="#111" textLength="12.8" lengthAdjust="spacingAndGlyphs">15</text>
<text transform="translate(14.8 185) rotate(-90)" text-anchor="middle" font-size="19.5" fill="#111" >δ</text>
<text transform="translate(14.8 404.9) rotate(-90)" text-anchor="middle" font-size="19.5" fill="#111" textLength="53" lengthAdjust="spacingAndGlyphs">(ppm)</text>
<text transform="translate(14.8 444.4) rotate(-90)" text-anchor="middle" font-size="19.5" fill="#111" >N</text>
<text transform="translate(8.7 458.1) rotate(-90)" text-anchor="middle" font-size="10.2" fill="#111" textLength="12.8" lengthAdjust="spacingAndGlyphs">15</text>
<text transform="translate(14.8 473.6) rotate(-90)" text-anchor="middle" font-size="19.5" fill="#111" >δ</text>
<text x="159.3" y="600.5" font-size="15" fill="#111">δ</text>
<text x="174.2" y="595.5" font-size="14" fill="#111">1</text>
<text x="182.8" y="600.5" font-size="14" fill="#111">H</text>
<text x="197" y="600.5" font-size="14" fill="#111" textLength="41" lengthAdjust="spacingAndGlyphs">(ppm)</text>
<text x="291.6" y="129.8" font-size="14.6" fill="#111" textLength="26.6" lengthAdjust="spacingAndGlyphs">L40</text>
<line x1="274.4" y1="93.9" x2="301.3" y2="112" stroke="#222" stroke-width="1"/>
<text x="123.4" y="208.8" font-size="14.6" fill="#111" textLength="28.6" lengthAdjust="spacingAndGlyphs">K54</text>
<text x="209.6" y="351.6" font-size="14.6" fill="#111" textLength="39" lengthAdjust="spacingAndGlyphs">Q142</text>
<text x="192.7" y="513.5" font-size="14.6" fill="#111" textLength="27.8" lengthAdjust="spacingAndGlyphs">K60</text>
</svg>
</body></html>
